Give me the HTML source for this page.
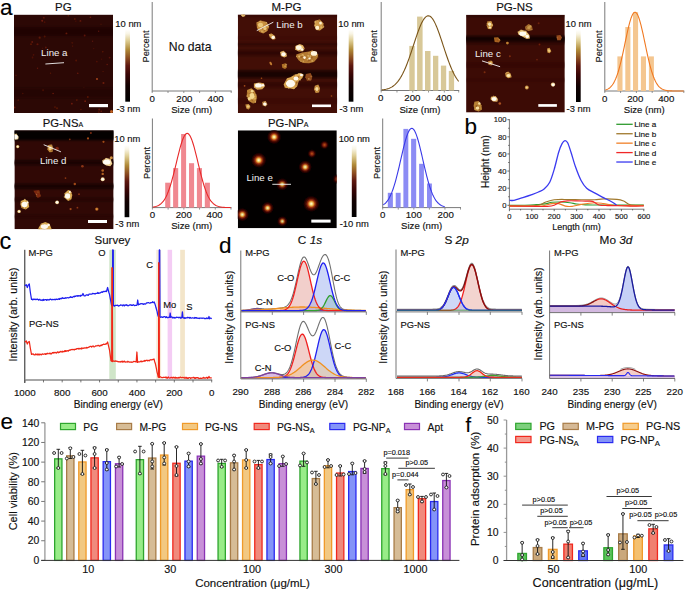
<!DOCTYPE html>
<html><head><meta charset="utf-8"><style>
html,body{margin:0;padding:0;background:#fff;}
svg{display:block;font-family:"Liberation Sans", sans-serif;}
</style></head><body>
<svg width="685" height="591" viewBox="0 0 685 591">
<defs>
<linearGradient id="cbar" x1="0" y1="1" x2="0" y2="0">
<stop offset="0" stop-color="#000"/>
<stop offset="0.22" stop-color="#120101"/>
<stop offset="0.38" stop-color="#3a0606"/>
<stop offset="0.5" stop-color="#5e1810"/>
<stop offset="0.6" stop-color="#8a4a20"/>
<stop offset="0.72" stop-color="#b08a38"/>
<stop offset="0.85" stop-color="#e0d098"/>
<stop offset="0.94" stop-color="#f8f4e4"/>
<stop offset="1" stop-color="#fff"/>
</linearGradient>
<filter id="soft" x="-20%" y="-20%" width="140%" height="140%"><feGaussianBlur stdDeviation="0.6"/></filter>
<filter id="vblur" x="-5%" y="-50%" width="110%" height="200%"><feGaussianBlur stdDeviation="0 0.9"/></filter>
<filter id="soft2" x="-50%" y="-50%" width="200%" height="200%"><feGaussianBlur stdDeviation="1.2"/></filter>
<radialGradient id="gflake">
<stop offset="0" stop-color="#fff6dc"/>
<stop offset="0.35" stop-color="#f0cc78"/>
<stop offset="0.75" stop-color="#c88a34"/>
<stop offset="1" stop-color="#9a5a1c"/>
</radialGradient>
<radialGradient id="gflake2">
<stop offset="0" stop-color="#e8c070"/>
<stop offset="0.6" stop-color="#c08030"/>
<stop offset="1" stop-color="#8a4a14"/>
</radialGradient>
<radialGradient id="gwhite">
<stop offset="0" stop-color="#fff"/>
<stop offset="0.55" stop-color="#fff4d4"/>
<stop offset="0.85" stop-color="#e8b860"/>
<stop offset="1" stop-color="#b07028"/>
</radialGradient>
<radialGradient id="gdim">
<stop offset="0" stop-color="#b06a28"/>
<stop offset="0.7" stop-color="#8a4018"/>
<stop offset="1" stop-color="#6a2a0c" stop-opacity="0.6"/>
</radialGradient>
<radialGradient id="gred">
<stop offset="0" stop-color="#b04018"/>
<stop offset="1" stop-color="#701c08" stop-opacity="0"/>
</radialGradient>
<radialGradient id="gdot">
<stop offset="0" stop-color="#fffce6"/>
<stop offset="0.14" stop-color="#f8e088"/>
<stop offset="0.28" stop-color="#e09a38"/>
<stop offset="0.42" stop-color="#a83810"/>
<stop offset="0.62" stop-color="#4a0904"/>
<stop offset="0.85" stop-color="#1a0201"/>
<stop offset="1" stop-color="#000" stop-opacity="0"/>
</radialGradient>
<radialGradient id="gdotdim">
<stop offset="0" stop-color="#d06020"/>
<stop offset="0.25" stop-color="#a03010"/>
<stop offset="0.55" stop-color="#4a0804"/>
<stop offset="1" stop-color="#000" stop-opacity="0"/>
</radialGradient>
<clipPath id="clip1"><rect x="14" y="14.6" width="99" height="98.4"/></clipPath>
<clipPath id="clip2"><rect x="237.8" y="14.6" width="99.4" height="98.4"/></clipPath>
<clipPath id="clip3"><rect x="466.1" y="14.8" width="98.7" height="97.8"/></clipPath>
<clipPath id="clip4"><rect x="14.4" y="130.2" width="99.2" height="99"/></clipPath>
<clipPath id="clip5"><rect x="237.8" y="130.3" width="99" height="98"/></clipPath>
</defs>
<rect width="685" height="591" fill="#fff"/>
<text x="0" y="14.6" font-size="22.5" text-anchor="start" fill="#000" stroke="#000" stroke-width="0.15" >a</text>
<g clip-path="url(#clip1)">
<rect x="14" y="14.6" width="99" height="98.4" fill="#2c0805" />
<g filter="url(#vblur)">
<rect x="11" y="27" width="105" height="9" fill="#1a0302" opacity="0.7"/>
<rect x="11" y="88" width="105" height="10" fill="#1e0403" opacity="0.4"/>
</g>
<g filter="url(#soft)">
<circle cx="37.56" cy="68.21" r="0.72" fill="#8a2410" opacity="0.54"/>
<circle cx="75.95" cy="21.05" r="0.51" fill="#8a2410" opacity="0.63"/>
<circle cx="39.68" cy="37.68" r="1.1" fill="#8a2410" opacity="0.49"/>
<circle cx="96.81" cy="61.52" r="0.88" fill="#8a2410" opacity="0.36"/>
<circle cx="76.85" cy="100.1" r="0.81" fill="#8a2410" opacity="0.6"/>
<circle cx="80.47" cy="20.91" r="0.95" fill="#8a2410" opacity="0.54"/>
<circle cx="43.83" cy="17.65" r="1.02" fill="#8a2410" opacity="0.49"/>
<circle cx="85.16" cy="101.16" r="0.93" fill="#8a2410" opacity="0.67"/>
<circle cx="53.1" cy="93.49" r="0.77" fill="#8a2410" opacity="0.67"/>
<circle cx="101.01" cy="24.2" r="0.58" fill="#8a2410" opacity="0.39"/>
<circle cx="109.58" cy="57.56" r="0.88" fill="#8a2410" opacity="0.42"/>
<circle cx="64.22" cy="52.61" r="0.71" fill="#8a2410" opacity="0.53"/>
<circle cx="71.84" cy="103.66" r="0.91" fill="#8a2410" opacity="0.67"/>
<circle cx="98.78" cy="112.21" r="0.9" fill="#8a2410" opacity="0.37"/>
<circle cx="99.2" cy="109.62" r="1.04" fill="#8a2410" opacity="0.53"/>
<circle cx="84.67" cy="35.4" r="1" fill="#8a2410" opacity="0.53"/>
<circle cx="42.21" cy="20.85" r="1.01" fill="#8a2410" opacity="0.7"/>
<circle cx="22.76" cy="93.46" r="0.75" fill="#8a2410" opacity="0.36"/>
<circle cx="43.1" cy="90.33" r="1.02" fill="#8a2410" opacity="0.32"/>
<circle cx="74.84" cy="19.03" r="0.93" fill="#8a2410" opacity="0.43"/>
<circle cx="101.21" cy="111.19" r="0.8" fill="#8a2410" opacity="0.7"/>
<circle cx="44.66" cy="22.18" r="0.86" fill="#8a2410" opacity="0.31"/>
<circle cx="33.54" cy="54.78" r="0.87" fill="#8a2410" opacity="0.36"/>
<circle cx="18.2" cy="100.08" r="0.69" fill="#8a2410" opacity="0.68"/>
<circle cx="102.77" cy="51.81" r="0.78" fill="#8a2410" opacity="0.51"/>
<circle cx="77.74" cy="73.27" r="0.84" fill="#8a2410" opacity="0.55"/>
<circle cx="107.12" cy="64.54" r="0.76" fill="#8a2410" opacity="0.59"/>
<circle cx="37.53" cy="44.26" r="1.09" fill="#8a2410" opacity="0.51"/>
<circle cx="68.29" cy="15.73" r="0.75" fill="#8a2410" opacity="0.53"/>
<circle cx="15.99" cy="75.26" r="0.88" fill="#8a2410" opacity="0.32"/>
<circle cx="76.11" cy="60.53" r="0.91" fill="#8a2410" opacity="0.44"/>
<circle cx="83.99" cy="87.3" r="0.51" fill="#8a2410" opacity="0.32"/>
<circle cx="80.93" cy="109.49" r="0.65" fill="#8a2410" opacity="0.48"/>
<circle cx="72.67" cy="46.12" r="0.72" fill="#8a2410" opacity="0.43"/>
<circle cx="50.55" cy="73.27" r="0.68" fill="#8a2410" opacity="0.45"/>
<circle cx="90.46" cy="17.25" r="0.84" fill="#8a2410" opacity="0.59"/>
<circle cx="44.69" cy="36.52" r="0.98" fill="#8a2410" opacity="0.4"/>
<circle cx="32.55" cy="57.47" r="0.92" fill="#8a2410" opacity="0.34"/>
<circle cx="45.87" cy="47.47" r="1" fill="#8a2410" opacity="0.48"/>
<circle cx="98.7" cy="31.27" r="0.7" fill="#8a2410" opacity="0.56"/>
<circle cx="101.6" cy="59.03" r="0.64" fill="#8a2410" opacity="0.35"/>
<circle cx="66.43" cy="33.39" r="0.98" fill="#8a2410" opacity="0.64"/>
<circle cx="32.18" cy="42.04" r="0.98" fill="#8a2410" opacity="0.56"/>
<circle cx="93.82" cy="48.61" r="0.58" fill="#8a2410" opacity="0.42"/>
<circle cx="92.59" cy="41.31" r="0.71" fill="#8a2410" opacity="0.47"/>
<circle cx="55.56" cy="54.94" r="1.05" fill="#8a2410" opacity="0.36"/>
<circle cx="14.46" cy="107.51" r="1.03" fill="#8a2410" opacity="0.69"/>
<circle cx="57" cy="108.19" r="1.06" fill="#8a2410" opacity="0.39"/>
<circle cx="87.81" cy="97.01" r="0.9" fill="#8a2410" opacity="0.51"/>
<circle cx="42.62" cy="48.2" r="0.64" fill="#8a2410" opacity="0.33"/>
<circle cx="72.28" cy="42.87" r="0.99" fill="#8a2410" opacity="0.32"/>
<circle cx="103.46" cy="82.93" r="1.05" fill="#8a2410" opacity="0.66"/>
<circle cx="103.07" cy="71.43" r="0.51" fill="#8a2410" opacity="0.6"/>
<circle cx="31.01" cy="44.14" r="0.9" fill="#8a2410" opacity="0.51"/>
<circle cx="54.96" cy="107.1" r="0.87" fill="#8a2410" opacity="0.44"/>
<circle cx="111.5" cy="111.5" r="1.5" fill="#c06020"/>
<circle cx="97" cy="79" r="0.9" fill="#b04a18"/>
</g>
</g>
<text x="41.1" y="56.29" font-size="9.7" text-anchor="start" fill="#f2f2f2" stroke="#f2f2f2" stroke-width="0" >Line a</text>
<line x1="45.4" y1="64" x2="64" y2="62.7" stroke="#f4f4f4" stroke-width="0.9" />
<rect x="89" y="104" width="19" height="3.2" fill="#fff" />
<text x="63.3" y="10.8" font-size="11.5" text-anchor="middle" fill="#111" stroke="#111" stroke-width="0.15">PG</text>
<rect x="125.3" y="29.4" width="4.7" height="72.3" fill="url(#cbar)" />
<text x="128.4" y="26.58" font-size="9.4" text-anchor="middle" fill="#111" stroke="#111" stroke-width="0.15" >10 nm</text>
<text x="128.4" y="111.88" font-size="9.4" text-anchor="middle" fill="#111" stroke="#111" stroke-width="0.15" >-3 nm</text>
<line x1="152.2" y1="2" x2="152.2" y2="91.5" stroke="#7a7a7a" stroke-width="1" />
<line x1="152.2" y1="91" x2="231.7" y2="91" stroke="#7a7a7a" stroke-width="1" />
<line x1="152.2" y1="91" x2="152.2" y2="93" stroke="#7a7a7a" stroke-width="0.8" />
<line x1="168" y1="91" x2="168" y2="93" stroke="#7a7a7a" stroke-width="0.8" />
<line x1="183.8" y1="91" x2="183.8" y2="93" stroke="#7a7a7a" stroke-width="0.8" />
<line x1="199.6" y1="91" x2="199.6" y2="93" stroke="#7a7a7a" stroke-width="0.8" />
<line x1="215.4" y1="91" x2="215.4" y2="93" stroke="#7a7a7a" stroke-width="0.8" />
<line x1="231.2" y1="91" x2="231.2" y2="93" stroke="#7a7a7a" stroke-width="0.8" />
<text x="152.2" y="101.89" font-size="9.7" text-anchor="middle" fill="#111" stroke="#111" stroke-width="0.15" >0</text>
<text x="184.4" y="101.89" font-size="9.7" text-anchor="middle" fill="#111" stroke="#111" stroke-width="0.15" >200</text>
<text x="215.6" y="101.89" font-size="9.7" text-anchor="middle" fill="#111" stroke="#111" stroke-width="0.15" >400</text>
<text x="191.7" y="113.06" font-size="9.6" text-anchor="middle" fill="#111" stroke="#111" stroke-width="0.15" >Size (nm)</text>
<text transform="translate(145.7 46.5) rotate(-90)" x="0" y="3.35" font-size="9.3" text-anchor="middle" fill="#111" stroke="#111" stroke-width="0.15">Percent</text>
<text x="190.2" y="51.49" font-size="12.2" text-anchor="middle" fill="#111" stroke="#111" stroke-width="0.15" >No data</text>
<g clip-path="url(#clip2)">
<rect x="237.8" y="14.6" width="99.4" height="98.4" fill="#420e06" />
<g filter="url(#vblur)">
<rect x="234.8" y="14.6" width="105.4" height="2" fill="#2a0602" opacity="0.6"/>
<rect x="234.8" y="43" width="105.4" height="2.5" fill="#1e0402" opacity="0.55"/>
<rect x="234.8" y="50.5" width="105.4" height="5" fill="#1a0302" opacity="0.6"/>
<rect x="234.8" y="70.5" width="105.4" height="7.5" fill="#0e0101" opacity="0.8"/>
<rect x="234.8" y="82" width="105.4" height="5.5" fill="#220402" opacity="0.5"/>
<rect x="234.8" y="36" width="105.4" height="4" fill="#2a0602" opacity="0.25"/>
<rect x="234.8" y="98" width="105.4" height="6" fill="#2a0602" opacity="0.3"/>
</g>
<g filter="url(#soft)">
<path d="M256.4 22.4 L260.6 20.4 L266.6 22.1 L269.1 26.7 L267.4 30.9 L263.2 33.4 L259 31.7 L256.9 27.5 Z" fill="#c89040"/><circle cx="262.15" cy="27.68" r="0.73" fill="#ecc878" opacity="0.55"/><circle cx="262.85" cy="28.04" r="0.76" fill="#8a4a18" opacity="0.55"/><circle cx="264.4" cy="30.71" r="0.65" fill="#8a4a18" opacity="0.55"/><circle cx="264.7" cy="28.4" r="0.51" fill="#8a4a18" opacity="0.55"/><circle cx="263.11" cy="21.17" r="0.62" fill="#8a4a18" opacity="0.55"/><circle cx="261.99" cy="31.35" r="0.82" fill="#ecc878" opacity="0.55"/><circle cx="262.75" cy="29.01" r="0.64" fill="#8a4a18" opacity="0.55"/><circle cx="267.07" cy="29.6" r="0.61" fill="#8a4a18" opacity="0.55"/><circle cx="260.07" cy="21.31" r="0.7" fill="#ecc878" opacity="0.55"/><circle cx="267.15" cy="25.42" r="0.92" fill="#ecc878" opacity="0.55"/><circle cx="267.96" cy="26.51" r="0.7" fill="#ecc878" opacity="0.55"/><circle cx="266.29" cy="23.91" r="0.67" fill="#8a4a18" opacity="0.55"/><circle cx="257.9" cy="23.6" r="0.53" fill="#8a4a18" opacity="0.55"/><circle cx="266.52" cy="22.71" r="0.72" fill="#ecc878" opacity="0.55"/><circle cx="258.82" cy="29.91" r="0.82" fill="#8a4a18" opacity="0.55"/><circle cx="257.88" cy="25.87" r="0.63" fill="#8a4a18" opacity="0.55"/><circle cx="260.26" cy="31.9" r="0.7" fill="#8a4a18" opacity="0.55"/><circle cx="267.25" cy="28.74" r="0.99" fill="#8a4a18" opacity="0.55"/><ellipse cx="260.5" cy="25" rx="2.6" ry="2.2" fill="#ecc878"/><ellipse cx="265" cy="28.5" rx="1.6" ry="1.5" fill="#ecc878"/>
<path d="M268.8 34.3 L271.6 33.4 L275 36 L275.5 39 L272.8 39.7 L269.9 37.6 Z" fill="#d8a450"/><circle cx="270.23" cy="35.03" r="0.66" fill="#ecc878" opacity="0.55"/><circle cx="270.79" cy="33.86" r="0.79" fill="#8a4a18" opacity="0.55"/><circle cx="270.43" cy="37.19" r="0.73" fill="#8a4a18" opacity="0.55"/><circle cx="272.65" cy="38.86" r="0.58" fill="#8a4a18" opacity="0.55"/><circle cx="274.89" cy="38.55" r="0.59" fill="#8a4a18" opacity="0.55"/><circle cx="273.75" cy="39.32" r="0.98" fill="#8a4a18" opacity="0.55"/><ellipse cx="273.2" cy="37.4" rx="1.7" ry="1.6" fill="#fff8e8"/>
<path d="M314.9 20.8 L319.9 19.4 L323.3 23.3 L323.8 27.5 L319.9 30.6 L316.1 30 L314.4 25.8 Z" fill="#d09a48"/><circle cx="322.69" cy="26.16" r="0.55" fill="#8a4a18" opacity="0.55"/><circle cx="316.64" cy="27.29" r="0.91" fill="#8a4a18" opacity="0.55"/><circle cx="320.01" cy="22.69" r="0.86" fill="#8a4a18" opacity="0.55"/><circle cx="315.05" cy="21.96" r="0.93" fill="#ecc878" opacity="0.55"/><circle cx="320.17" cy="22.54" r="0.6" fill="#ecc878" opacity="0.55"/><circle cx="318.59" cy="20.08" r="0.68" fill="#8a4a18" opacity="0.55"/><circle cx="319.78" cy="20.87" r="0.95" fill="#8a4a18" opacity="0.55"/><circle cx="323.62" cy="26.76" r="0.79" fill="#ecc878" opacity="0.55"/><circle cx="318.93" cy="27.58" r="1" fill="#8a4a18" opacity="0.55"/><circle cx="315.11" cy="25.52" r="0.95" fill="#ecc878" opacity="0.55"/><circle cx="321.33" cy="27.28" r="0.96" fill="#ecc878" opacity="0.55"/><ellipse cx="317.3" cy="27.8" rx="2" ry="2" fill="#fff0cc"/><ellipse cx="320.5" cy="23" rx="1.4" ry="1.6" fill="#fff0cc"/>
<path d="M295.4 46.1 L299.7 44.1 L303 45.3 L304.7 48.6 L303 51.2 L298.8 51.5 L295.1 49.5 Z" fill="#e0b060"/><circle cx="298.48" cy="49.17" r="0.94" fill="#ecc878" opacity="0.55"/><circle cx="299.1" cy="49.95" r="0.79" fill="#ecc878" opacity="0.55"/><circle cx="301.1" cy="46.93" r="0.8" fill="#ecc878" opacity="0.55"/><circle cx="295.87" cy="48.83" r="0.94" fill="#ecc878" opacity="0.55"/><circle cx="302.09" cy="46.97" r="0.79" fill="#ecc878" opacity="0.55"/><circle cx="299.33" cy="50.3" r="0.88" fill="#8a4a18" opacity="0.55"/><circle cx="295.39" cy="48.55" r="0.62" fill="#8a4a18" opacity="0.55"/><circle cx="301.8" cy="47.78" r="0.96" fill="#ecc878" opacity="0.55"/><circle cx="297.99" cy="49.12" r="0.58" fill="#8a4a18" opacity="0.55"/><circle cx="303.79" cy="48.98" r="0.95" fill="#8a4a18" opacity="0.55"/><ellipse cx="298.8" cy="47.6" rx="2.8" ry="2.4" fill="#fff8e4"/><ellipse cx="302.2" cy="49.5" rx="1.3" ry="1.2" fill="#fff8e4"/>
<path d="M296.3 54.5 L302.2 52.5 L309 51.5 L312.3 50.3 L318.3 54.5 L317.4 58.3 L314 62.1 L309 63.3 L303 63 L298.8 60.5 L296.3 57.1 Z" fill="#b47a30"/><circle cx="303.49" cy="58.96" r="0.72" fill="#8a4a18" opacity="0.55"/><circle cx="315.67" cy="55.3" r="0.66" fill="#ecc878" opacity="0.55"/><circle cx="299.3" cy="56.75" r="0.92" fill="#ecc878" opacity="0.55"/><circle cx="302.39" cy="52.5" r="0.64" fill="#8a4a18" opacity="0.55"/><circle cx="301.01" cy="55.68" r="0.75" fill="#ecc878" opacity="0.55"/><circle cx="303.24" cy="61.21" r="0.73" fill="#ecc878" opacity="0.55"/><circle cx="311.89" cy="57.72" r="0.9" fill="#8a4a18" opacity="0.55"/><circle cx="314.55" cy="53.39" r="0.52" fill="#8a4a18" opacity="0.55"/><circle cx="310.14" cy="56.1" r="0.83" fill="#ecc878" opacity="0.55"/><circle cx="311.36" cy="52.89" r="0.59" fill="#8a4a18" opacity="0.55"/><circle cx="296.54" cy="56.44" r="0.59" fill="#ecc878" opacity="0.55"/><circle cx="302.29" cy="54.79" r="0.76" fill="#ecc878" opacity="0.55"/><circle cx="309.82" cy="60.13" r="0.9" fill="#8a4a18" opacity="0.55"/><circle cx="299.16" cy="56.2" r="0.95" fill="#ecc878" opacity="0.55"/><circle cx="304.59" cy="57.69" r="0.9" fill="#ecc878" opacity="0.55"/><circle cx="317.07" cy="56.33" r="0.6" fill="#ecc878" opacity="0.55"/><circle cx="312.18" cy="60.94" r="0.86" fill="#ecc878" opacity="0.55"/><circle cx="308.11" cy="60.58" r="0.95" fill="#8a4a18" opacity="0.55"/><circle cx="315.13" cy="54.83" r="0.72" fill="#8a4a18" opacity="0.55"/><circle cx="308.41" cy="60.29" r="0.51" fill="#8a4a18" opacity="0.55"/><circle cx="313.9" cy="52.55" r="0.89" fill="#8a4a18" opacity="0.55"/><circle cx="307.66" cy="59.71" r="0.84" fill="#ecc878" opacity="0.55"/><circle cx="317.11" cy="56.7" r="0.54" fill="#ecc878" opacity="0.55"/><circle cx="301.17" cy="57.15" r="0.86" fill="#8a4a18" opacity="0.55"/><circle cx="310.36" cy="57.1" r="0.78" fill="#ecc878" opacity="0.55"/><circle cx="303.16" cy="55.26" r="0.95" fill="#ecc878" opacity="0.55"/><circle cx="300.88" cy="61.36" r="0.76" fill="#ecc878" opacity="0.55"/><circle cx="308.91" cy="52.91" r="0.75" fill="#ecc878" opacity="0.55"/><circle cx="317.63" cy="57.01" r="0.9" fill="#8a4a18" opacity="0.55"/><circle cx="308.68" cy="56.68" r="0.53" fill="#ecc878" opacity="0.55"/><circle cx="308.15" cy="55.68" r="0.96" fill="#ecc878" opacity="0.55"/><circle cx="302.22" cy="56.45" r="0.72" fill="#8a4a18" opacity="0.55"/><ellipse cx="314" cy="53.4" rx="3.2" ry="2.4" fill="#fff4dc"/><ellipse cx="304.5" cy="57.6" rx="1.3" ry="1.3" fill="#fff4dc"/><ellipse cx="309.5" cy="58.5" rx="1.2" ry="1.1" fill="#fff4dc"/>
<path d="M280.1 52 L283.5 50.8 L286.3 53.2 L287 56.2 L284.3 57.6 L280.9 55.9 Z" fill="#e0b060"/><circle cx="283.39" cy="52.96" r="0.81" fill="#8a4a18" opacity="0.55"/><circle cx="281.44" cy="52.35" r="0.66" fill="#ecc878" opacity="0.55"/><circle cx="282.55" cy="55.01" r="0.87" fill="#8a4a18" opacity="0.55"/><circle cx="280.95" cy="54.27" r="0.6" fill="#8a4a18" opacity="0.55"/><circle cx="283.76" cy="53.77" r="0.71" fill="#8a4a18" opacity="0.55"/><ellipse cx="283.5" cy="54.2" rx="2.1" ry="2" fill="#fffaf0"/>
<path d="M281.8 64.3 L286 63.3 L287 67.2 L285.1 68.9 L282.3 67.7 Z" fill="#b07228"/><circle cx="284.55" cy="64.19" r="0.82" fill="#8a4a18" opacity="0.55"/><circle cx="285.12" cy="66.27" r="0.81" fill="#ecc878" opacity="0.55"/><circle cx="286.26" cy="64.6" r="0.91" fill="#ecc878" opacity="0.55"/>
<ellipse cx="270.8" cy="63.5" rx="1.1" ry="1.9" fill="#c07a30" transform="rotate(-30 270.8 63.5)"/>
<path d="M305.9 74 L310.6 73.1 L312.3 76.5 L311.5 80.2 L307.3 80.7 L305.2 77.3 Z" fill="#8e4a1a"/><circle cx="307.44" cy="80.11" r="1" fill="#8a4a18" opacity="0.55"/><circle cx="306.9" cy="78.62" r="0.55" fill="#8a4a18" opacity="0.55"/><circle cx="311.11" cy="76.3" r="0.56" fill="#ecc878" opacity="0.55"/><circle cx="308.06" cy="78.31" r="0.6" fill="#8a4a18" opacity="0.55"/><circle cx="310.04" cy="80.03" r="0.56" fill="#ecc878" opacity="0.55"/><circle cx="308.79" cy="78.86" r="0.84" fill="#ecc878" opacity="0.55"/>
<path d="M283.6 84.5 L287 78.2 L290.4 77.3 L294.6 74.8 L300.5 73.1 L303.9 74.8 L302.2 78.2 L298.8 80.7 L297.1 86.6 L293.8 89.2 L289.5 88.3 L285 88 Z" fill="#d8a450"/><circle cx="294.8" cy="81.39" r="0.57" fill="#ecc878" opacity="0.55"/><circle cx="302.42" cy="74.63" r="0.98" fill="#8a4a18" opacity="0.55"/><circle cx="292.98" cy="85.41" r="0.73" fill="#8a4a18" opacity="0.55"/><circle cx="294.06" cy="80.02" r="0.51" fill="#ecc878" opacity="0.55"/><circle cx="287.28" cy="80.41" r="0.7" fill="#ecc878" opacity="0.55"/><circle cx="296.38" cy="79.61" r="0.75" fill="#ecc878" opacity="0.55"/><circle cx="288.84" cy="87.77" r="0.89" fill="#ecc878" opacity="0.55"/><circle cx="300.14" cy="79.63" r="0.94" fill="#ecc878" opacity="0.55"/><circle cx="299.13" cy="79.63" r="0.54" fill="#ecc878" opacity="0.55"/><circle cx="290.54" cy="80.65" r="0.68" fill="#8a4a18" opacity="0.55"/><circle cx="296.57" cy="83.15" r="0.97" fill="#8a4a18" opacity="0.55"/><circle cx="297.12" cy="78.54" r="0.78" fill="#ecc878" opacity="0.55"/><circle cx="294.42" cy="79.37" r="0.82" fill="#ecc878" opacity="0.55"/><circle cx="296.09" cy="84.99" r="0.7" fill="#8a4a18" opacity="0.55"/><circle cx="288.69" cy="87.68" r="0.75" fill="#ecc878" opacity="0.55"/><circle cx="300.03" cy="74.33" r="0.88" fill="#ecc878" opacity="0.55"/><circle cx="286.85" cy="80.7" r="0.75" fill="#8a4a18" opacity="0.55"/><circle cx="294.29" cy="82.73" r="0.64" fill="#8a4a18" opacity="0.55"/><circle cx="296.9" cy="82.13" r="0.86" fill="#8a4a18" opacity="0.55"/><circle cx="286.78" cy="85.25" r="0.95" fill="#8a4a18" opacity="0.55"/><circle cx="298.79" cy="73.91" r="0.97" fill="#ecc878" opacity="0.55"/><circle cx="285.09" cy="87.68" r="0.74" fill="#8a4a18" opacity="0.55"/><circle cx="294.22" cy="88.19" r="0.73" fill="#ecc878" opacity="0.55"/><circle cx="295.85" cy="74.95" r="0.73" fill="#ecc878" opacity="0.55"/><circle cx="294.32" cy="75.1" r="0.83" fill="#8a4a18" opacity="0.55"/><circle cx="292.85" cy="77.32" r="0.71" fill="#ecc878" opacity="0.55"/><circle cx="298.51" cy="76.94" r="0.95" fill="#8a4a18" opacity="0.55"/><ellipse cx="290.5" cy="83.6" rx="4.6" ry="3.8" fill="#fffaf0"/><ellipse cx="296" cy="78.6" rx="2.4" ry="2" fill="#fffaf0"/><ellipse cx="301.5" cy="75" rx="1.5" ry="1.2" fill="#fffaf0"/>
<path d="M253.9 83.6 L259 82.4 L264 83.3 L264.9 86.6 L262.3 89.2 L257.3 89.7 L253.9 87.5 Z" fill="#d4a050"/><circle cx="257.85" cy="84.38" r="0.78" fill="#ecc878" opacity="0.55"/><circle cx="260.41" cy="87.02" r="0.59" fill="#ecc878" opacity="0.55"/><circle cx="256.88" cy="85.5" r="0.55" fill="#ecc878" opacity="0.55"/><circle cx="259.86" cy="82.93" r="0.84" fill="#8a4a18" opacity="0.55"/><circle cx="259.96" cy="87.01" r="0.74" fill="#8a4a18" opacity="0.55"/><circle cx="256.22" cy="84.91" r="0.92" fill="#ecc878" opacity="0.55"/><circle cx="262.8" cy="86.95" r="0.61" fill="#ecc878" opacity="0.55"/><circle cx="258.57" cy="84.28" r="0.68" fill="#ecc878" opacity="0.55"/><ellipse cx="258.5" cy="85.4" rx="3.4" ry="2.2" fill="#fffaf0"/><ellipse cx="263" cy="85.2" rx="1.3" ry="1.3" fill="#fffaf0"/>
<path d="M314.9 85.8 L318.3 84.6 L320 88.3 L319.1 92.5 L315.7 93.1 L314 89.2 Z" fill="#c89040"/><circle cx="315.95" cy="89.26" r="0.96" fill="#ecc878" opacity="0.55"/><circle cx="316.57" cy="87.74" r="0.94" fill="#8a4a18" opacity="0.55"/><circle cx="317.39" cy="88.72" r="0.65" fill="#ecc878" opacity="0.55"/><circle cx="315.28" cy="90.23" r="0.65" fill="#8a4a18" opacity="0.55"/><circle cx="318.35" cy="90.5" r="0.57" fill="#8a4a18" opacity="0.55"/><circle cx="316.15" cy="90.77" r="0.56" fill="#8a4a18" opacity="0.55"/><ellipse cx="316.8" cy="89" rx="1.5" ry="2" fill="#f6dca0"/>
<path d="M247.1 90 L251.4 88.3 L254.7 90.9 L256.9 96.8 L255.9 102.7 L253 103.5 L248.8 101 L246.8 95.9 Z" fill="#c08838"/><circle cx="253.96" cy="96.95" r="0.97" fill="#ecc878" opacity="0.55"/><circle cx="256.03" cy="94.96" r="0.65" fill="#ecc878" opacity="0.55"/><circle cx="250.01" cy="94.37" r="0.95" fill="#ecc878" opacity="0.55"/><circle cx="249.31" cy="93.8" r="0.68" fill="#8a4a18" opacity="0.55"/><circle cx="250.8" cy="94.19" r="0.78" fill="#8a4a18" opacity="0.55"/><circle cx="254.85" cy="96.52" r="0.78" fill="#ecc878" opacity="0.55"/><circle cx="248.58" cy="99.84" r="0.64" fill="#ecc878" opacity="0.55"/><circle cx="247.02" cy="96.14" r="0.78" fill="#ecc878" opacity="0.55"/><circle cx="256.56" cy="98.2" r="0.53" fill="#ecc878" opacity="0.55"/><circle cx="252.32" cy="100.28" r="0.54" fill="#8a4a18" opacity="0.55"/><circle cx="254.24" cy="101.97" r="0.82" fill="#8a4a18" opacity="0.55"/><circle cx="253.35" cy="92.03" r="0.88" fill="#8a4a18" opacity="0.55"/><circle cx="252.07" cy="99.92" r="0.67" fill="#8a4a18" opacity="0.55"/><circle cx="256.58" cy="98.52" r="0.77" fill="#8a4a18" opacity="0.55"/><circle cx="254.08" cy="99.06" r="0.71" fill="#ecc878" opacity="0.55"/><circle cx="255.14" cy="98.43" r="0.9" fill="#ecc878" opacity="0.55"/><circle cx="255.22" cy="101.81" r="0.82" fill="#ecc878" opacity="0.55"/><circle cx="252.09" cy="99.09" r="0.71" fill="#ecc878" opacity="0.55"/><circle cx="251.05" cy="90.52" r="1" fill="#ecc878" opacity="0.55"/><circle cx="250.59" cy="90.85" r="0.71" fill="#8a4a18" opacity="0.55"/><circle cx="247.4" cy="92.99" r="0.82" fill="#8a4a18" opacity="0.55"/><circle cx="254.64" cy="91.03" r="0.73" fill="#8a4a18" opacity="0.55"/><circle cx="252.7" cy="102.12" r="0.55" fill="#8a4a18" opacity="0.55"/><ellipse cx="249.3" cy="98.6" rx="1.6" ry="1.6" fill="#f4d890"/><ellipse cx="252.2" cy="91.2" rx="1.4" ry="1.3" fill="#f4d890"/><ellipse cx="252" cy="96" rx="2.3" ry="3" fill="#f4d890"/>
<path d="M262.3 101.9 L265.7 101 L267.4 104.4 L265.4 106.6 L262.7 105.2 Z" fill="#e0b060"/><circle cx="263.24" cy="102.22" r="0.86" fill="#8a4a18" opacity="0.55"/><circle cx="265.33" cy="102.25" r="0.64" fill="#8a4a18" opacity="0.55"/><circle cx="263.18" cy="105.24" r="0.77" fill="#8a4a18" opacity="0.55"/><circle cx="266.47" cy="103.69" r="0.94" fill="#8a4a18" opacity="0.55"/><ellipse cx="264.9" cy="104" rx="1.7" ry="1.6" fill="#fffaf0"/>
<path d="M245.4 104.4 L248.8 103.9 L250.5 106.9 L248.8 109.4 L246.3 108.6 Z" fill="#c89040"/><circle cx="248.19" cy="109.16" r="0.61" fill="#8a4a18" opacity="0.55"/><circle cx="249.49" cy="106.02" r="0.76" fill="#ecc878" opacity="0.55"/><ellipse cx="248" cy="106.5" rx="1.2" ry="1.2" fill="#ecc878"/>
<path d="M241.2 14 L244.6 14 L245.4 16 L242.9 17 L241.2 15.7 Z" fill="#e8c070"/><circle cx="243.96" cy="14.71" r="0.74" fill="#8a4a18" opacity="0.55"/>
<circle cx="244.6" cy="85.8" r="0.9" fill="#a04a18"/>
<circle cx="261.5" cy="78.2" r="0.8" fill="#a04a18"/>
<circle cx="331.5" cy="96" r="0.8" fill="#a04a18"/>
</g>
</g>
<text x="276.3" y="28.49" font-size="9.7" text-anchor="start" fill="#f2f2f2" stroke="#f2f2f2" stroke-width="0" >Line b</text>
<line x1="256.8" y1="30.6" x2="273.3" y2="22.2" stroke="#f4f4f4" stroke-width="0.9" />
<rect x="312" y="104.5" width="19" height="2.6" fill="#fff" />
<text x="286.5" y="10.8" font-size="11.5" text-anchor="middle" fill="#111" stroke="#111" stroke-width="0.15">M-PG</text>
<rect x="348.7" y="29.4" width="4.7" height="72.3" fill="url(#cbar)" />
<text x="351.4" y="26.58" font-size="9.4" text-anchor="middle" fill="#111" stroke="#111" stroke-width="0.15" >10 nm</text>
<text x="351.4" y="111.88" font-size="9.4" text-anchor="middle" fill="#111" stroke="#111" stroke-width="0.15" >-3 nm</text>
<line x1="381.2" y1="2" x2="381.2" y2="91" stroke="#7a7a7a" stroke-width="1" />
<line x1="381.2" y1="90.5" x2="459.2" y2="90.5" stroke="#7a7a7a" stroke-width="1" />
<line x1="381.2" y1="90.5" x2="381.2" y2="92.5" stroke="#7a7a7a" stroke-width="0.8" />
<line x1="396.98" y1="90.5" x2="396.98" y2="92.5" stroke="#7a7a7a" stroke-width="0.8" />
<line x1="412.76" y1="90.5" x2="412.76" y2="92.5" stroke="#7a7a7a" stroke-width="0.8" />
<line x1="428.54" y1="90.5" x2="428.54" y2="92.5" stroke="#7a7a7a" stroke-width="0.8" />
<line x1="444.32" y1="90.5" x2="444.32" y2="92.5" stroke="#7a7a7a" stroke-width="0.8" />
<line x1="458.7" y1="90.5" x2="458.7" y2="92.5" stroke="#7a7a7a" stroke-width="0.8" />
<text x="380.8" y="101.39" font-size="9.7" text-anchor="middle" fill="#111" stroke="#111" stroke-width="0.15" >0</text>
<text x="412.4" y="101.39" font-size="9.7" text-anchor="middle" fill="#111" stroke="#111" stroke-width="0.15" >200</text>
<text x="443.9" y="101.39" font-size="9.7" text-anchor="middle" fill="#111" stroke="#111" stroke-width="0.15" >400</text>
<text x="419.95" y="112.56" font-size="9.6" text-anchor="middle" fill="#111" stroke="#111" stroke-width="0.15" >Size (nm)</text>
<text transform="translate(374 46.25) rotate(-90)" x="0" y="3.35" font-size="9.3" text-anchor="middle" fill="#111" stroke="#111" stroke-width="0.15">Percent</text>
<rect x="409.3" y="45.9" width="5.4" height="44.6" fill="#d8c898" />
<rect x="417.1" y="16.6" width="5.5" height="73.9" fill="#d8c898" />
<rect x="425" y="51" width="5.5" height="39.5" fill="#d8c898" />
<rect x="433" y="55.8" width="5.3" height="34.7" fill="#d8c898" />
<rect x="440.9" y="65.6" width="5.3" height="24.9" fill="#d8c898" />
<rect x="448.8" y="70.9" width="5.3" height="19.6" fill="#d8c898" />
<path d="M381.7 89.97 L382.4 89.89 L383.1 89.8 L383.8 89.69 L384.5 89.56 L385.2 89.42 L385.9 89.27 L386.6 89.09 L387.3 88.89 L388 88.67 L388.7 88.42 L389.4 88.14 L390.1 87.83 L390.8 87.49 L391.5 87.11 L392.2 86.69 L392.9 86.22 L393.6 85.72 L394.3 85.16 L395 84.56 L395.7 83.9 L396.4 83.18 L397.1 82.4 L397.8 81.56 L398.5 80.66 L399.2 79.69 L399.9 78.65 L400.6 77.54 L401.3 76.35 L402 75.1 L402.7 73.77 L403.4 72.36 L404.1 70.88 L404.8 69.32 L405.5 67.7 L406.2 66 L406.9 64.24 L407.6 62.41 L408.3 60.52 L409 58.58 L409.7 56.59 L410.4 54.55 L411.1 52.48 L411.8 50.37 L412.5 48.25 L413.2 46.11 L413.9 43.97 L414.6 41.83 L415.3 39.71 L416 37.61 L416.7 35.56 L417.4 33.54 L418.1 31.59 L418.8 29.71 L419.5 27.9 L420.2 26.19 L420.9 24.58 L421.6 23.08 L422.3 21.69 L423 20.44 L423.7 19.32 L424.4 18.35 L425.1 17.53 L425.8 16.86 L426.5 16.35 L427.2 16.01 L427.9 15.83 L428.6 15.82 L429.3 15.97 L430 16.29 L430.7 16.78 L431.4 17.42 L432.1 18.22 L432.8 19.17 L433.5 20.27 L434.2 21.51 L434.9 22.87 L435.6 24.36 L436.3 25.95 L437 27.65 L437.7 29.44 L438.4 31.32 L439.1 33.26 L439.8 35.27 L440.5 37.32 L441.2 39.41 L441.9 41.53 L442.6 43.66 L443.3 45.8 L444 47.94 L444.7 50.07 L445.4 52.18 L446.1 54.26 L446.8 56.3 L447.5 58.3 L448.2 60.25 L448.9 62.15 L449.6 63.98 L450.3 65.75 L451 67.46 L451.7 69.1 L452.4 70.66 L453.1 72.15 L453.8 73.57 L454.5 74.91 L455.2 76.18 L455.9 77.37 L456.6 78.5 L457.3 79.55 L458 80.53 L458.7 81.44" stroke="#7a5418" stroke-width="1.1" fill="none" />
<g clip-path="url(#clip3)">
<rect x="466.1" y="14.8" width="98.7" height="97.8" fill="#3c0b05" />
<g filter="url(#vblur)">
<rect x="463.1" y="14.8" width="104.7" height="1.5" fill="#1a0302" opacity="0.6"/>
<rect x="463.1" y="36" width="104.7" height="5" fill="#080101" opacity="0.9"/>
<rect x="463.1" y="41" width="104.7" height="3" fill="#1a0302" opacity="0.5"/>
<rect x="463.1" y="62" width="104.7" height="6" fill="#2a0603" opacity="0.35"/>
<rect x="463.1" y="78" width="104.7" height="4" fill="#2a0603" opacity="0.3"/>
</g>
<g filter="url(#soft)">
<path d="M487.1 21.6 L491.3 21.1 L493 25 L491.3 29.2 L488 28.9 L486.6 25.5 Z" fill="#c89040"/><circle cx="488.98" cy="27.55" r="0.8" fill="#ecc878" opacity="0.55"/><circle cx="487.61" cy="22.37" r="0.63" fill="#8a4a18" opacity="0.55"/><circle cx="492.16" cy="25.28" r="1" fill="#ecc878" opacity="0.55"/><circle cx="488.31" cy="25.43" r="0.89" fill="#8a4a18" opacity="0.55"/><circle cx="487.13" cy="23.29" r="0.55" fill="#ecc878" opacity="0.55"/><circle cx="489.67" cy="24.9" r="0.79" fill="#ecc878" opacity="0.55"/><ellipse cx="489.6" cy="24.2" rx="1.6" ry="1.8" fill="#f8e4b0"/><ellipse cx="490" cy="27.6" rx="1.2" ry="1" fill="#f8e4b0"/>
<path d="M493.9 37.6 L498.1 37.3 L500.6 40.2 L498.9 42.4 L494.7 41.9 Z" fill="#a86420"/><circle cx="499.19" cy="39.43" r="0.55" fill="#ecc878" opacity="0.55"/><circle cx="497.54" cy="39.98" r="0.92" fill="#8a4a18" opacity="0.55"/><circle cx="495.99" cy="38.88" r="0.65" fill="#8a4a18" opacity="0.55"/>
<circle cx="507.4" cy="43.1" r="1.4" fill="#c08030"/>
<circle cx="509.9" cy="56.2" r="1" fill="#7a2a10"/>
<path d="M488 61.3 L491.3 60.6 L493.4 63.3 L491.3 65.5 L488.5 64.7 Z" fill="#b87a30"/><circle cx="490.52" cy="64.1" r="0.84" fill="#8a4a18" opacity="0.55"/><circle cx="488.57" cy="62.53" r="0.98" fill="#8a4a18" opacity="0.55"/><circle cx="492.48" cy="63.8" r="0.69" fill="#8a4a18" opacity="0.55"/><circle cx="491.83" cy="61.76" r="0.73" fill="#ecc878" opacity="0.55"/><ellipse cx="490.6" cy="62.8" rx="1.2" ry="1.1" fill="#e8c070"/>
<circle cx="484.6" cy="72.3" r="1" fill="#7a2a10"/>
<path d="M505.2 73.1 L508.2 71.4 L510.8 74 L511.6 77.3 L508.2 78.2 L505.7 76.5 Z" fill="#d09a48"/><circle cx="509.14" cy="73.37" r="0.77" fill="#8a4a18" opacity="0.55"/><circle cx="507.11" cy="73.69" r="0.83" fill="#8a4a18" opacity="0.55"/><circle cx="506.84" cy="72.76" r="0.66" fill="#ecc878" opacity="0.55"/><circle cx="509.83" cy="73.66" r="0.55" fill="#ecc878" opacity="0.55"/><ellipse cx="508.5" cy="75.5" rx="1.8" ry="1.6" fill="#fae6b0"/>
<path d="M491 96.8 L495.6 95.9 L498.1 99.3 L497.3 101.8 L493 101.5 L490.5 99.3 Z" fill="#e0b060"/><circle cx="495.65" cy="100.08" r="0.7" fill="#8a4a18" opacity="0.55"/><circle cx="496.86" cy="99.4" r="0.61" fill="#8a4a18" opacity="0.55"/><circle cx="493.59" cy="96.33" r="0.71" fill="#ecc878" opacity="0.55"/><circle cx="494.39" cy="99.72" r="0.91" fill="#ecc878" opacity="0.55"/><circle cx="493.43" cy="97.86" r="0.51" fill="#8a4a18" opacity="0.55"/><ellipse cx="494.2" cy="98.9" rx="2.6" ry="2" fill="#fffbf0"/>
<circle cx="499.8" cy="103.5" r="1.3" fill="#a85020"/>
<path d="M474.4 101.8 L478.7 101 L481.5 105.2 L482 109.4 L478.7 111.6 L474.8 110.3 L473.6 106.1 Z" fill="#b88234"/><circle cx="476.97" cy="108.42" r="0.89" fill="#ecc878" opacity="0.55"/><circle cx="479.15" cy="107.45" r="0.67" fill="#8a4a18" opacity="0.55"/><circle cx="476.47" cy="107.9" r="0.69" fill="#8a4a18" opacity="0.55"/><circle cx="477.88" cy="109.36" r="0.81" fill="#ecc878" opacity="0.55"/><circle cx="474.93" cy="109.13" r="0.77" fill="#ecc878" opacity="0.55"/><circle cx="476.56" cy="106.3" r="0.86" fill="#8a4a18" opacity="0.55"/><circle cx="479.61" cy="109.86" r="0.97" fill="#8a4a18" opacity="0.55"/><circle cx="478.87" cy="103.1" r="0.62" fill="#8a4a18" opacity="0.55"/><circle cx="478.44" cy="108.39" r="0.96" fill="#8a4a18" opacity="0.55"/><circle cx="476.63" cy="105.91" r="0.99" fill="#8a4a18" opacity="0.55"/><circle cx="478.16" cy="106.94" r="0.63" fill="#ecc878" opacity="0.55"/><ellipse cx="477.5" cy="108" rx="1.8" ry="1.6" fill="#f8e0a0"/><ellipse cx="479.3" cy="103.5" rx="1.2" ry="1.2" fill="#f8e0a0"/>
<path d="M525.1 26.7 L528.5 24.1 L531.9 25.8 L532.7 30 L528.5 30.9 L525.5 29.5 Z" fill="#a87030"/><circle cx="531.31" cy="28.19" r="0.91" fill="#8a4a18" opacity="0.55"/><circle cx="527.29" cy="30.2" r="0.79" fill="#8a4a18" opacity="0.55"/><circle cx="529.26" cy="24.62" r="0.59" fill="#8a4a18" opacity="0.55"/><circle cx="530.1" cy="26.19" r="0.87" fill="#ecc878" opacity="0.55"/><circle cx="528" cy="28.12" r="0.51" fill="#ecc878" opacity="0.55"/><circle cx="526.62" cy="27.28" r="0.69" fill="#8a4a18" opacity="0.55"/><ellipse cx="529" cy="27.5" rx="1.6" ry="1.5" fill="#c89848"/>
<path d="M517.5 31.7 L521.8 30 L526 30.9 L529.4 35.1 L529.9 38.5 L526.8 39 L522.6 36.8 L518.4 34.3 Z" fill="#e8c070"/><circle cx="524.56" cy="31.56" r="0.63" fill="#ecc878" opacity="0.55"/><circle cx="524.54" cy="32.99" r="0.52" fill="#ecc878" opacity="0.55"/><circle cx="525.82" cy="31.3" r="0.8" fill="#ecc878" opacity="0.55"/><circle cx="523.33" cy="33.7" r="0.84" fill="#ecc878" opacity="0.55"/><circle cx="526.9" cy="36.77" r="1" fill="#8a4a18" opacity="0.55"/><circle cx="527.89" cy="37.7" r="0.72" fill="#8a4a18" opacity="0.55"/><circle cx="524.02" cy="34.73" r="0.95" fill="#8a4a18" opacity="0.55"/><circle cx="521.48" cy="30.49" r="0.95" fill="#ecc878" opacity="0.55"/><circle cx="526.58" cy="35.38" r="0.65" fill="#ecc878" opacity="0.55"/><circle cx="519.04" cy="34.02" r="0.7" fill="#ecc878" opacity="0.55"/><circle cx="524.03" cy="32.15" r="0.7" fill="#8a4a18" opacity="0.55"/><circle cx="520.42" cy="30.62" r="0.98" fill="#ecc878" opacity="0.55"/><circle cx="525.75" cy="37.8" r="0.9" fill="#8a4a18" opacity="0.55"/><ellipse cx="522.8" cy="33.8" rx="3.6" ry="2.2" fill="#fffcf0"/><ellipse cx="527.2" cy="36.4" rx="1.8" ry="1.6" fill="#fffcf0"/>
<path d="M556.4 35.6 L560.3 35.1 L562 37.6 L560.6 40.2 L557.2 40.2 Z" fill="#9a4c1c"/><circle cx="557.09" cy="37.84" r="0.5" fill="#ecc878" opacity="0.55"/><circle cx="557.77" cy="36.63" r="0.53" fill="#8a4a18" opacity="0.55"/>
<circle cx="538.6" cy="23.3" r="1" fill="#6a200c"/>
<circle cx="539.5" cy="44.4" r="1" fill="#6a200c"/>
<path d="M547.1 48.6 L549.6 47.8 L551.3 51.2 L549.6 53.2 L547.4 52.5 Z" fill="#c89040"/><circle cx="548.77" cy="49.73" r="0.52" fill="#ecc878" opacity="0.55"/><circle cx="548.39" cy="50.49" r="0.99" fill="#ecc878" opacity="0.55"/><ellipse cx="549.2" cy="50.8" rx="1.1" ry="1.2" fill="#f0cc80"/>
<circle cx="537" cy="59.6" r="0.9" fill="#6a200c"/>
<circle cx="553" cy="84.6" r="2.1" fill="#f0d090"/>
<circle cx="553.2" cy="84.8" r="1.4" fill="#fffcf0"/>
<circle cx="526.8" cy="87.5" r="1.9" fill="#c89040"/>
<circle cx="526.8" cy="87.4" r="1" fill="#f0d090"/>
</g>
</g>
<text x="474.9" y="56.59" font-size="9.7" text-anchor="start" fill="#f2f2f2" stroke="#f2f2f2" stroke-width="0" >Line c</text>
<line x1="482" y1="60.9" x2="500.1" y2="66.7" stroke="#f4f4f4" stroke-width="0.9" />
<rect x="538.3" y="104.1" width="18.6" height="2.7" fill="#fff" />
<text x="514.4" y="10.8" font-size="11.5" text-anchor="middle" fill="#111" stroke="#111" stroke-width="0.15">PG-NS</text>
<rect x="576" y="29.8" width="4.7" height="72.2" fill="url(#cbar)" />
<text x="578.5" y="26.98" font-size="9.4" text-anchor="middle" fill="#111" stroke="#111" stroke-width="0.15" >10 nm</text>
<text x="578.5" y="112.18" font-size="9.4" text-anchor="middle" fill="#111" stroke="#111" stroke-width="0.15" >-3 nm</text>
<line x1="604.8" y1="2" x2="604.8" y2="91.5" stroke="#7a7a7a" stroke-width="1" />
<line x1="604.8" y1="91" x2="684.3" y2="91" stroke="#7a7a7a" stroke-width="1" />
<line x1="604.8" y1="91" x2="604.8" y2="93" stroke="#7a7a7a" stroke-width="0.8" />
<line x1="620.6" y1="91" x2="620.6" y2="93" stroke="#7a7a7a" stroke-width="0.8" />
<line x1="636.4" y1="91" x2="636.4" y2="93" stroke="#7a7a7a" stroke-width="0.8" />
<line x1="652.2" y1="91" x2="652.2" y2="93" stroke="#7a7a7a" stroke-width="0.8" />
<line x1="668" y1="91" x2="668" y2="93" stroke="#7a7a7a" stroke-width="0.8" />
<line x1="683.8" y1="91" x2="683.8" y2="93" stroke="#7a7a7a" stroke-width="0.8" />
<text x="604.8" y="101.89" font-size="9.7" text-anchor="middle" fill="#111" stroke="#111" stroke-width="0.15" >0</text>
<text x="635.3" y="101.89" font-size="9.7" text-anchor="middle" fill="#111" stroke="#111" stroke-width="0.15" >200</text>
<text x="666.3" y="101.89" font-size="9.7" text-anchor="middle" fill="#111" stroke="#111" stroke-width="0.15" >400</text>
<text x="644.3" y="113.06" font-size="9.6" text-anchor="middle" fill="#111" stroke="#111" stroke-width="0.15" >Size (nm)</text>
<text transform="translate(599 46.5) rotate(-90)" x="0" y="3.35" font-size="9.3" text-anchor="middle" fill="#111" stroke="#111" stroke-width="0.15">Percent</text>
<rect x="617.4" y="56.4" width="5.1" height="34.6" fill="#f4c690" />
<rect x="625.3" y="27" width="5.1" height="64" fill="#f4c690" />
<rect x="633" y="12.2" width="5.1" height="78.8" fill="#f4c690" />
<rect x="640.9" y="56.4" width="5.1" height="34.6" fill="#f4c690" />
<rect x="648.9" y="56.4" width="5" height="34.6" fill="#f4c690" />
<path d="M605.3 90.04 L606 89.82 L606.7 89.56 L607.4 89.25 L608.1 88.89 L608.8 88.45 L609.5 87.95 L610.2 87.36 L610.9 86.68 L611.6 85.9 L612.3 85.01 L613 83.99 L613.7 82.85 L614.4 81.56 L615.1 80.12 L615.8 78.53 L616.5 76.77 L617.2 74.84 L617.9 72.74 L618.6 70.47 L619.3 68.02 L620 65.42 L620.7 62.65 L621.4 59.75 L622.1 56.71 L622.8 53.56 L623.5 50.32 L624.2 47.02 L624.9 43.68 L625.6 40.34 L626.3 37.03 L627 33.78 L627.7 30.63 L628.4 27.62 L629.1 24.79 L629.8 22.16 L630.5 19.79 L631.2 17.69 L631.9 15.9 L632.6 14.44 L633.3 13.33 L634 12.59 L634.7 12.24 L635.4 12.26 L636.1 12.68 L636.8 13.47 L637.5 14.62 L638.2 16.13 L638.9 17.97 L639.6 20.11 L640.3 22.53 L641 25.18 L641.7 28.04 L642.4 31.07 L643.1 34.24 L643.8 37.5 L644.5 40.82 L645.2 44.16 L645.9 47.5 L646.6 50.79 L647.3 54.02 L648 57.15 L648.7 60.17 L649.4 63.06 L650.1 65.8 L650.8 68.38 L651.5 70.8 L652.2 73.05 L652.9 75.12 L653.6 77.03 L654.3 78.76 L655 80.34 L655.7 81.75 L656.4 83.02 L657.1 84.15 L657.8 85.14 L658.5 86.02 L659.2 86.78 L659.9 87.45 L660.6 88.03 L661.3 88.52 L662 88.94 L662.7 89.3 L663.4 89.6 L664.1 89.86 L664.8 90.07 L665.5 90.25 L666.2 90.39 L666.9 90.51 L667.6 90.61 L668.3 90.69 L669 90.76 L669.7 90.81 L670.4 90.85 L671.1 90.88 L671.8 90.91 L672.5 90.93 L673.2 90.95 L673.9 90.96 L674.6 90.97 L675.3 90.98 L676 90.98 L676.7 90.99 L677.4 90.99 L678.1 90.99 L678.8 90.99 L679.5 91 L680.2 91 L680.9 91 L681.6 91 L682.3 91 L683 91 L683.7 91" stroke="#f07820" stroke-width="1.1" fill="none" />
<g clip-path="url(#clip4)">
<rect x="14.4" y="130.2" width="99.2" height="99" fill="#300805" />
<g filter="url(#vblur)">
<rect x="11.4" y="130.2" width="105.2" height="10" fill="#060000" opacity="0.92"/>
<rect x="11.4" y="160.5" width="105.2" height="4.5" fill="#0a0101" opacity="0.75"/>
<rect x="11.4" y="184" width="105.2" height="4.5" fill="#0a0101" opacity="0.8"/>
<rect x="11.4" y="198" width="105.2" height="3" fill="#1a0302" opacity="0.5"/>
<rect x="11.4" y="215" width="105.2" height="3" fill="#1a0302" opacity="0.4"/>
</g>
<g filter="url(#soft)">
<path d="M14 133.4 L16.5 134.2 L18.7 136.8 L18.2 139.3 L15.7 139.8 L14 139.3 Z" fill="#f0d8a0"/><circle cx="16.22" cy="134.72" r="0.96" fill="#8a4a18" opacity="0.55"/><circle cx="16.22" cy="134.5" r="1" fill="#ecc878" opacity="0.55"/><circle cx="14.95" cy="137.45" r="0.94" fill="#8a4a18" opacity="0.55"/><ellipse cx="15.6" cy="136.8" rx="2.2" ry="2.2" fill="#fffcf4"/>
<circle cx="17.7" cy="146.6" r="1.6" fill="#e8c070"/>
<circle cx="17.7" cy="146.6" r="0.9" fill="#fff4d8"/>
<path d="M47.8 145.2 L51.2 144.4 L53.2 147.7 L52.5 152 L49.5 152.3 L47.4 149.4 Z" fill="#c08838"/><circle cx="51.61" cy="146.87" r="0.93" fill="#ecc878" opacity="0.55"/><circle cx="51.54" cy="145.47" r="0.97" fill="#ecc878" opacity="0.55"/><circle cx="49.98" cy="145.02" r="0.65" fill="#8a4a18" opacity="0.55"/><circle cx="51.52" cy="145.95" r="0.62" fill="#8a4a18" opacity="0.55"/><circle cx="51.25" cy="150.64" r="0.83" fill="#8a4a18" opacity="0.55"/><circle cx="52.53" cy="149.06" r="0.65" fill="#8a4a18" opacity="0.55"/><ellipse cx="50.2" cy="148.4" rx="1.5" ry="1.8" fill="#f0cc80"/>
<circle cx="57.1" cy="148.6" r="1.8" fill="#7a2410"/>
<path d="M33.4 190.8 L39.3 190 L40.7 196.7 L37.6 197.9 Z" fill="#7a2610"/><circle cx="40.17" cy="195.27" r="0.82" fill="#8a4a18" opacity="0.55"/><circle cx="36.61" cy="194.17" r="0.52" fill="#ecc878" opacity="0.55"/><circle cx="37.78" cy="192.25" r="0.9" fill="#8a4a18" opacity="0.55"/><circle cx="38.92" cy="191.94" r="0.77" fill="#8a4a18" opacity="0.55"/><circle cx="36.77" cy="195.93" r="0.96" fill="#8a4a18" opacity="0.55"/>
<path d="M20.8 200.9 L25 199.3 L28.4 201.8 L29.2 206.9 L25.8 209.4 L21.6 208 L20.4 204.3 Z" fill="#d8a850"/><circle cx="24.8" cy="201.12" r="0.82" fill="#ecc878" opacity="0.55"/><circle cx="23.56" cy="205.95" r="0.76" fill="#ecc878" opacity="0.55"/><circle cx="24.85" cy="207.84" r="0.76" fill="#ecc878" opacity="0.55"/><circle cx="27.26" cy="200.97" r="0.62" fill="#ecc878" opacity="0.55"/><circle cx="24.28" cy="207.11" r="0.9" fill="#ecc878" opacity="0.55"/><circle cx="22.48" cy="204.24" r="0.79" fill="#8a4a18" opacity="0.55"/><circle cx="24.79" cy="199.66" r="0.86" fill="#ecc878" opacity="0.55"/><circle cx="25.44" cy="208.12" r="0.58" fill="#8a4a18" opacity="0.55"/><circle cx="20.56" cy="204.31" r="0.72" fill="#8a4a18" opacity="0.55"/><circle cx="22.71" cy="207.37" r="0.95" fill="#8a4a18" opacity="0.55"/><circle cx="25.41" cy="204.79" r="0.62" fill="#ecc878" opacity="0.55"/><circle cx="21.69" cy="202.44" r="0.66" fill="#8a4a18" opacity="0.55"/><circle cx="25.87" cy="204.61" r="0.79" fill="#8a4a18" opacity="0.55"/><ellipse cx="24.5" cy="204.5" rx="3" ry="2.8" fill="#fffaf0"/><ellipse cx="27.5" cy="202.5" rx="1" ry="1" fill="#fffaf0"/>
<circle cx="19.1" cy="211.4" r="1.7" fill="#e8c070"/>
<circle cx="19.1" cy="211.4" r="1" fill="#fff8e8"/>
<circle cx="57.1" cy="202.3" r="1.9" fill="#f0d090"/>
<circle cx="57.1" cy="202.3" r="1.2" fill="#fffcf0"/>
<path d="M38.5 228 L41 223.8 L45.3 222.1 L49.5 223.8 L51.2 228 L52 230 L38 230 Z" fill="#d8a850"/><circle cx="39.24" cy="228.58" r="0.63" fill="#8a4a18" opacity="0.55"/><circle cx="40.24" cy="227.56" r="0.89" fill="#ecc878" opacity="0.55"/><circle cx="43.1" cy="223.81" r="0.52" fill="#ecc878" opacity="0.55"/><circle cx="44.85" cy="228.11" r="0.57" fill="#ecc878" opacity="0.55"/><circle cx="44.37" cy="227.99" r="0.62" fill="#8a4a18" opacity="0.55"/><circle cx="43.5" cy="224.45" r="0.54" fill="#8a4a18" opacity="0.55"/><circle cx="38.48" cy="229.97" r="0.87" fill="#ecc878" opacity="0.55"/><circle cx="41.22" cy="224.1" r="0.62" fill="#ecc878" opacity="0.55"/><circle cx="44.46" cy="229.47" r="0.67" fill="#8a4a18" opacity="0.55"/><circle cx="42.8" cy="227.59" r="0.8" fill="#ecc878" opacity="0.55"/><circle cx="43.5" cy="228.76" r="0.89" fill="#8a4a18" opacity="0.55"/><circle cx="41.02" cy="224.84" r="0.77" fill="#8a4a18" opacity="0.55"/><ellipse cx="44.4" cy="226.6" rx="3.6" ry="2.4" fill="#fffaf0"/><ellipse cx="48.5" cy="225" rx="1.3" ry="1.2" fill="#fffaf0"/>
<path d="M102.2 160.4 L106.1 157.9 L110.6 159.1 L112.3 163.8 L110.3 166.3 L106.1 165.5 L102.7 162.9 Z" fill="#f0d090"/><circle cx="103.86" cy="159.61" r="0.73" fill="#8a4a18" opacity="0.55"/><circle cx="105.32" cy="161.66" r="0.84" fill="#ecc878" opacity="0.55"/><circle cx="106.07" cy="158.51" r="0.68" fill="#ecc878" opacity="0.55"/><circle cx="104.04" cy="160.1" r="0.96" fill="#8a4a18" opacity="0.55"/><circle cx="109.42" cy="160.16" r="0.58" fill="#8a4a18" opacity="0.55"/><circle cx="109.93" cy="163.98" r="0.51" fill="#ecc878" opacity="0.55"/><circle cx="105.45" cy="161.13" r="0.94" fill="#8a4a18" opacity="0.55"/><circle cx="105.49" cy="164.37" r="0.53" fill="#ecc878" opacity="0.55"/><circle cx="106.18" cy="159.9" r="0.58" fill="#8a4a18" opacity="0.55"/><circle cx="105.35" cy="161.46" r="0.57" fill="#ecc878" opacity="0.55"/><ellipse cx="106.8" cy="162" rx="3.8" ry="2.6" fill="#fffcf4"/>
<circle cx="111.3" cy="157.7" r="1.5" fill="#d09040"/>
<circle cx="88" cy="138.4" r="1.1" fill="#a04818"/>
<circle cx="103.5" cy="141.8" r="1.1" fill="#a04818"/>
<circle cx="90.9" cy="133" r="1" fill="#7a2a10"/>
<circle cx="69.8" cy="139.3" r="0.9" fill="#7a2a10"/>
<circle cx="82.4" cy="166.3" r="1.3" fill="#8a3414"/>
<circle cx="102.7" cy="170.5" r="1.3" fill="#b06020"/>
<circle cx="102.7" cy="173.9" r="1.2" fill="#b06020"/>
<circle cx="102.7" cy="179.3" r="2" fill="#f0d090"/>
<circle cx="102.7" cy="179.3" r="1.3" fill="#fffcf0"/>
<circle cx="65.5" cy="178.1" r="0.9" fill="#8a3414"/>
<circle cx="74.8" cy="184" r="1.2" fill="#a04818"/>
<path d="M64.7 193.3 L68.1 190 L70.6 190.8 L72.3 195 L71.4 199.3 L68.1 200.9 L64.4 197.6 Z" fill="#d8a850"/><circle cx="69.98" cy="192.84" r="0.83" fill="#ecc878" opacity="0.55"/><circle cx="66.61" cy="197.77" r="0.69" fill="#8a4a18" opacity="0.55"/><circle cx="71.24" cy="192.46" r="0.67" fill="#8a4a18" opacity="0.55"/><circle cx="64.59" cy="196.87" r="0.9" fill="#ecc878" opacity="0.55"/><circle cx="69.7" cy="200.02" r="0.84" fill="#8a4a18" opacity="0.55"/><circle cx="71.26" cy="192.56" r="0.54" fill="#ecc878" opacity="0.55"/><circle cx="67.78" cy="194.28" r="0.69" fill="#8a4a18" opacity="0.55"/><circle cx="66.99" cy="195.42" r="0.58" fill="#8a4a18" opacity="0.55"/><circle cx="67.58" cy="195.18" r="0.83" fill="#8a4a18" opacity="0.55"/><ellipse cx="67.6" cy="196" rx="2.6" ry="2.8" fill="#fffaf0"/><ellipse cx="69.8" cy="192" rx="1" ry="1" fill="#fffaf0"/>
<circle cx="79" cy="194.2" r="0.9" fill="#8a3414"/>
<circle cx="70.6" cy="209.1" r="1.1" fill="#a04818"/>
<circle cx="77.4" cy="207.7" r="0.9" fill="#8a3414"/>
<circle cx="96.8" cy="209.1" r="1.7" fill="#b06020"/>
<circle cx="96.8" cy="209.1" r="0.9" fill="#d89040"/>
</g>
</g>
<text x="40" y="163.69" font-size="9.7" text-anchor="start" fill="#f2f2f2" stroke="#f2f2f2" stroke-width="0" >Line d</text>
<line x1="43.7" y1="144.7" x2="60.9" y2="151.8" stroke="#f4f4f4" stroke-width="0.9" />
<rect x="88" y="220" width="19" height="3" fill="#fff" />
<text x="63" y="126.9" font-size="11.3" text-anchor="middle" fill="#111" stroke="#111" stroke-width="0.15">PG-NS<tspan font-size="7">A</tspan></text>
<rect x="124.6" y="145" width="4.7" height="72.2" fill="url(#cbar)" />
<text x="127.3" y="142.18" font-size="9.4" text-anchor="middle" fill="#111" stroke="#111" stroke-width="0.15" >10 nm</text>
<text x="127.3" y="227.38" font-size="9.4" text-anchor="middle" fill="#111" stroke="#111" stroke-width="0.15" >-3 nm</text>
<line x1="152.4" y1="118.5" x2="152.4" y2="208.1" stroke="#7a7a7a" stroke-width="1" />
<line x1="152.4" y1="207.6" x2="231.5" y2="207.6" stroke="#7a7a7a" stroke-width="1" />
<line x1="152.4" y1="207.6" x2="152.4" y2="209.6" stroke="#7a7a7a" stroke-width="0.8" />
<line x1="168.12" y1="207.6" x2="168.12" y2="209.6" stroke="#7a7a7a" stroke-width="0.8" />
<line x1="183.84" y1="207.6" x2="183.84" y2="209.6" stroke="#7a7a7a" stroke-width="0.8" />
<line x1="199.56" y1="207.6" x2="199.56" y2="209.6" stroke="#7a7a7a" stroke-width="0.8" />
<line x1="215.28" y1="207.6" x2="215.28" y2="209.6" stroke="#7a7a7a" stroke-width="0.8" />
<line x1="231" y1="207.6" x2="231" y2="209.6" stroke="#7a7a7a" stroke-width="0.8" />
<text x="152.5" y="217.69" font-size="9.7" text-anchor="middle" fill="#111" stroke="#111" stroke-width="0.15" >0</text>
<text x="183.8" y="217.69" font-size="9.7" text-anchor="middle" fill="#111" stroke="#111" stroke-width="0.15" >200</text>
<text x="214.6" y="217.69" font-size="9.7" text-anchor="middle" fill="#111" stroke="#111" stroke-width="0.15" >400</text>
<text x="191.7" y="228.96" font-size="9.6" text-anchor="middle" fill="#111" stroke="#111" stroke-width="0.15" >Size (nm)</text>
<text transform="translate(146.6 163.05) rotate(-90)" x="0" y="3.35" font-size="9.3" text-anchor="middle" fill="#111" stroke="#111" stroke-width="0.15">Percent</text>
<rect x="165.2" y="182.7" width="5.1" height="24.9" fill="#f08890" />
<rect x="173.1" y="168.1" width="5.1" height="39.5" fill="#f08890" />
<rect x="181.1" y="134" width="5" height="73.6" fill="#f08890" />
<rect x="189" y="163.2" width="5.1" height="44.4" fill="#f08890" />
<rect x="196.9" y="168.1" width="5.1" height="39.5" fill="#f08890" />
<rect x="204.8" y="182.7" width="5.1" height="24.9" fill="#f08890" />
<path d="M152.9 207.12 L153.6 207.01 L154.3 206.88 L155 206.73 L155.7 206.55 L156.4 206.33 L157.1 206.07 L157.8 205.78 L158.5 205.43 L159.2 205.02 L159.9 204.56 L160.6 204.03 L161.3 203.42 L162 202.72 L162.7 201.94 L163.4 201.06 L164.1 200.07 L164.8 198.96 L165.5 197.74 L166.2 196.4 L166.9 194.92 L167.6 193.3 L168.3 191.55 L169 189.66 L169.7 187.64 L170.4 185.47 L171.1 183.17 L171.8 180.75 L172.5 178.22 L173.2 175.57 L173.9 172.84 L174.6 170.03 L175.3 167.16 L176 164.26 L176.7 161.35 L177.4 158.44 L178.1 155.57 L178.8 152.77 L179.5 150.05 L180.2 147.46 L180.9 145.01 L181.6 142.73 L182.3 140.66 L183 138.8 L183.7 137.2 L184.4 135.85 L185.1 134.79 L185.8 134.02 L186.5 133.56 L187.2 133.4 L187.9 133.56 L188.6 134.02 L189.3 134.79 L190 135.85 L190.7 137.2 L191.4 138.8 L192.1 140.66 L192.8 142.73 L193.5 145.01 L194.2 147.46 L194.9 150.05 L195.6 152.77 L196.3 155.57 L197 158.44 L197.7 161.35 L198.4 164.26 L199.1 167.16 L199.8 170.03 L200.5 172.84 L201.2 175.57 L201.9 178.22 L202.6 180.75 L203.3 183.17 L204 185.47 L204.7 187.64 L205.4 189.66 L206.1 191.55 L206.8 193.3 L207.5 194.92 L208.2 196.4 L208.9 197.74 L209.6 198.96 L210.3 200.07 L211 201.06 L211.7 201.94 L212.4 202.72 L213.1 203.42 L213.8 204.03 L214.5 204.56 L215.2 205.02 L215.9 205.43 L216.6 205.78 L217.3 206.07 L218 206.33 L218.7 206.55 L219.4 206.73 L220.1 206.88 L220.8 207.01 L221.5 207.12 L222.2 207.21 L222.9 207.29 L223.6 207.35 L224.3 207.4 L225 207.44 L225.7 207.47 L226.4 207.5 L227.1 207.52 L227.8 207.54 L228.5 207.55 L229.2 207.56 L229.9 207.57 L230.6 207.58" stroke="#e82828" stroke-width="1.1" fill="none" />
<g clip-path="url(#clip5)">
<rect x="237.8" y="130.3" width="99" height="98" fill="#020000" />
<g filter="url(#vblur)">
</g>
<g filter="url(#soft)">
<circle cx="274.1" cy="137" r="7.5" fill="url(#gdot)" opacity="1"/>
<circle cx="324.5" cy="144.9" r="5" fill="url(#gdotdim)" opacity="0.9"/>
<circle cx="311.9" cy="153.7" r="5" fill="url(#gdotdim)" opacity="0.9"/>
<circle cx="258.7" cy="160.2" r="8" fill="url(#gdot)" opacity="1"/>
<circle cx="305.2" cy="167" r="7" fill="url(#gdot)" opacity="0.95"/>
<circle cx="282.2" cy="184.3" r="6.5" fill="url(#gdot)" opacity="0.85"/>
<circle cx="311.3" cy="203.8" r="8.5" fill="url(#gdot)" opacity="1"/>
<circle cx="267.6" cy="208" r="6.5" fill="url(#gdot)" opacity="0.95"/>
<circle cx="242.3" cy="214.6" r="7" fill="url(#gdot)" opacity="0.95"/>
<circle cx="282.3" cy="221.3" r="5.5" fill="url(#gdot)" opacity="0.85"/>
<circle cx="337.5" cy="179" r="5.5" fill="url(#gdotdim)" opacity="0.8"/>
</g>
</g>
<text x="246.4" y="180.89" font-size="9.7" text-anchor="start" fill="#f2f2f2" stroke="#f2f2f2" stroke-width="0" >Line e</text>
<line x1="272.3" y1="184.3" x2="291" y2="184.3" stroke="#f4f4f4" stroke-width="0.9" />
<rect x="311.3" y="219.6" width="19.3" height="3" fill="#fff" />
<text x="288.3" y="126.9" font-size="11.3" text-anchor="middle" fill="#111" stroke="#111" stroke-width="0.15">PG-NP<tspan font-size="7">A</tspan></text>
<rect x="351.8" y="144.5" width="4.7" height="72.5" fill="url(#cbar)" />
<text x="354.3" y="141.68" font-size="9.4" text-anchor="middle" fill="#111" stroke="#111" stroke-width="0.15" >100 nm</text>
<text x="354.3" y="227.18" font-size="9.4" text-anchor="middle" fill="#111" stroke="#111" stroke-width="0.15" >-10 nm</text>
<line x1="382.7" y1="118.5" x2="382.7" y2="208.1" stroke="#7a7a7a" stroke-width="1" />
<line x1="382.7" y1="207.6" x2="461" y2="207.6" stroke="#7a7a7a" stroke-width="1" />
<line x1="382.7" y1="207.6" x2="382.7" y2="209.6" stroke="#7a7a7a" stroke-width="0.8" />
<line x1="398.26" y1="207.6" x2="398.26" y2="209.6" stroke="#7a7a7a" stroke-width="0.8" />
<line x1="413.82" y1="207.6" x2="413.82" y2="209.6" stroke="#7a7a7a" stroke-width="0.8" />
<line x1="429.38" y1="207.6" x2="429.38" y2="209.6" stroke="#7a7a7a" stroke-width="0.8" />
<line x1="444.94" y1="207.6" x2="444.94" y2="209.6" stroke="#7a7a7a" stroke-width="0.8" />
<line x1="460.5" y1="207.6" x2="460.5" y2="209.6" stroke="#7a7a7a" stroke-width="0.8" />
<text x="382.7" y="217.69" font-size="9.7" text-anchor="middle" fill="#111" stroke="#111" stroke-width="0.15" >0</text>
<text x="413.8" y="217.69" font-size="9.7" text-anchor="middle" fill="#111" stroke="#111" stroke-width="0.15" >100</text>
<text x="445.7" y="217.69" font-size="9.7" text-anchor="middle" fill="#111" stroke="#111" stroke-width="0.15" >200</text>
<text x="421.6" y="228.96" font-size="9.6" text-anchor="middle" fill="#111" stroke="#111" stroke-width="0.15" >Size (nm)</text>
<text transform="translate(376.9 163.05) rotate(-90)" x="0" y="3.35" font-size="9.3" text-anchor="middle" fill="#111" stroke="#111" stroke-width="0.15">Percent</text>
<rect x="387.8" y="192.8" width="5.1" height="14.8" fill="#8c8cf4" />
<rect x="395.7" y="192.8" width="4.9" height="14.8" fill="#8c8cf4" />
<rect x="403.4" y="128.9" width="4.9" height="78.7" fill="#8c8cf4" />
<rect x="411.1" y="138.8" width="5.1" height="68.8" fill="#8c8cf4" />
<rect x="419.1" y="163.8" width="4.8" height="43.8" fill="#8c8cf4" />
<rect x="427" y="183.5" width="4.9" height="24.1" fill="#8c8cf4" />
<path d="M383.2 204.9 L383.9 204.42 L384.6 203.87 L385.3 203.24 L386 202.53 L386.7 201.73 L387.4 200.83 L388.1 199.81 L388.8 198.69 L389.5 197.44 L390.2 196.07 L390.9 194.56 L391.6 192.91 L392.3 191.12 L393 189.19 L393.7 187.12 L394.4 184.9 L395.1 182.55 L395.8 180.07 L396.5 177.46 L397.2 174.73 L397.9 171.91 L398.6 169 L399.3 166.02 L400 162.99 L400.7 159.94 L401.4 156.88 L402.1 153.85 L402.8 150.86 L403.5 147.95 L404.2 145.14 L404.9 142.46 L405.6 139.95 L406.3 137.62 L407 135.5 L407.7 133.62 L408.4 132 L409.1 130.65 L409.8 129.6 L410.5 128.85 L411.2 128.42 L411.9 128.3 L412.6 128.51 L413.3 129.03 L414 129.87 L414.7 131.01 L415.4 132.44 L416.1 134.13 L416.8 136.08 L417.5 138.26 L418.2 140.65 L418.9 143.21 L419.6 145.93 L420.3 148.77 L421 151.7 L421.7 154.71 L422.4 157.75 L423.1 160.81 L423.8 163.86 L424.5 166.88 L425.2 169.84 L425.9 172.73 L426.6 175.52 L427.3 178.22 L428 180.79 L428.7 183.24 L429.4 185.55 L430.1 187.73 L430.8 189.76 L431.5 191.65 L432.2 193.4 L432.9 195 L433.6 196.47 L434.3 197.81 L435 199.02 L435.7 200.12 L436.4 201.09 L437.1 201.97 L437.8 202.75 L438.5 203.43 L439.2 204.04 L439.9 204.56 L440.6 205.03 L441.3 205.42 L442 205.77 L442.7 206.07 L443.4 206.32 L444.1 206.54 L444.8 206.72" stroke="#3838e8" stroke-width="1.1" fill="none" />
<text x="464.5" y="134.2" font-size="22.5" text-anchor="start" fill="#000" stroke="#000" stroke-width="0.15" >b</text>
<line x1="509.4" y1="119.2" x2="509.4" y2="209.4" stroke="#7a7a7a" stroke-width="1" />
<line x1="509.4" y1="209.2" x2="644.3" y2="209.2" stroke="#7a7a7a" stroke-width="1" />
<line x1="507.4" y1="205.3" x2="509.4" y2="205.3" stroke="#444" stroke-width="0.8" />
<line x1="508.2" y1="196.74" x2="509.4" y2="196.74" stroke="#444" stroke-width="0.8" />
<line x1="507.4" y1="188.18" x2="509.4" y2="188.18" stroke="#444" stroke-width="0.8" />
<line x1="508.2" y1="179.62" x2="509.4" y2="179.62" stroke="#444" stroke-width="0.8" />
<line x1="507.4" y1="171.06" x2="509.4" y2="171.06" stroke="#444" stroke-width="0.8" />
<line x1="508.2" y1="162.5" x2="509.4" y2="162.5" stroke="#444" stroke-width="0.8" />
<line x1="507.4" y1="153.94" x2="509.4" y2="153.94" stroke="#444" stroke-width="0.8" />
<line x1="508.2" y1="145.38" x2="509.4" y2="145.38" stroke="#444" stroke-width="0.8" />
<line x1="507.4" y1="136.82" x2="509.4" y2="136.82" stroke="#444" stroke-width="0.8" />
<line x1="508.2" y1="128.26" x2="509.4" y2="128.26" stroke="#444" stroke-width="0.8" />
<line x1="507.4" y1="119.7" x2="509.4" y2="119.7" stroke="#444" stroke-width="0.8" />
<text x="506.5" y="208.04" font-size="7.6" text-anchor="end" fill="#111" stroke="#111" stroke-width="0.15" >0</text>
<text x="506.5" y="190.92" font-size="7.6" text-anchor="end" fill="#111" stroke="#111" stroke-width="0.15" >20</text>
<text x="506.5" y="173.8" font-size="7.6" text-anchor="end" fill="#111" stroke="#111" stroke-width="0.15" >40</text>
<text x="506.5" y="156.68" font-size="7.6" text-anchor="end" fill="#111" stroke="#111" stroke-width="0.15" >60</text>
<text x="506.5" y="139.56" font-size="7.6" text-anchor="end" fill="#111" stroke="#111" stroke-width="0.15" >80</text>
<text x="506.5" y="122.44" font-size="7.6" text-anchor="end" fill="#111" stroke="#111" stroke-width="0.15" >100</text>
<line x1="509.4" y1="209.2" x2="509.4" y2="211.2" stroke="#444" stroke-width="0.8" />
<line x1="520.6" y1="209.2" x2="520.6" y2="210.4" stroke="#444" stroke-width="0.8" />
<line x1="531.8" y1="209.2" x2="531.8" y2="211.2" stroke="#444" stroke-width="0.8" />
<line x1="543" y1="209.2" x2="543" y2="210.4" stroke="#444" stroke-width="0.8" />
<line x1="554.2" y1="209.2" x2="554.2" y2="211.2" stroke="#444" stroke-width="0.8" />
<line x1="565.4" y1="209.2" x2="565.4" y2="210.4" stroke="#444" stroke-width="0.8" />
<line x1="576.6" y1="209.2" x2="576.6" y2="211.2" stroke="#444" stroke-width="0.8" />
<line x1="587.8" y1="209.2" x2="587.8" y2="210.4" stroke="#444" stroke-width="0.8" />
<line x1="599" y1="209.2" x2="599" y2="211.2" stroke="#444" stroke-width="0.8" />
<line x1="610.2" y1="209.2" x2="610.2" y2="210.4" stroke="#444" stroke-width="0.8" />
<line x1="621.4" y1="209.2" x2="621.4" y2="211.2" stroke="#444" stroke-width="0.8" />
<line x1="632.6" y1="209.2" x2="632.6" y2="210.4" stroke="#444" stroke-width="0.8" />
<line x1="643.8" y1="209.2" x2="643.8" y2="211.2" stroke="#444" stroke-width="0.8" />
<text x="509.4" y="218.94" font-size="7.6" text-anchor="middle" fill="#111" stroke="#111" stroke-width="0.15" >0</text>
<text x="531.8" y="218.94" font-size="7.6" text-anchor="middle" fill="#111" stroke="#111" stroke-width="0.15" >100</text>
<text x="554.2" y="218.94" font-size="7.6" text-anchor="middle" fill="#111" stroke="#111" stroke-width="0.15" >200</text>
<text x="576.6" y="218.94" font-size="7.6" text-anchor="middle" fill="#111" stroke="#111" stroke-width="0.15" >300</text>
<text x="599" y="218.94" font-size="7.6" text-anchor="middle" fill="#111" stroke="#111" stroke-width="0.15" >400</text>
<text x="621.4" y="218.94" font-size="7.6" text-anchor="middle" fill="#111" stroke="#111" stroke-width="0.15" >500</text>
<text x="643.8" y="218.94" font-size="7.6" text-anchor="middle" fill="#111" stroke="#111" stroke-width="0.15" >600</text>
<text x="576.5" y="229.84" font-size="9" text-anchor="middle" fill="#111" stroke="#111" stroke-width="0.15" >Length (nm)</text>
<text transform="translate(485.8 161.6) rotate(-90)" x="0" y="3.64" font-size="10.1" text-anchor="middle" fill="#111" stroke="#111" stroke-width="0.15">Height (nm)</text>
<path d="M509.4 205.3 C511.64 205.3 518.36 205.41 522.84 205.3 C527.32 205.19 532.55 204.84 536.28 204.62 C540.01 204.39 542.63 204.32 545.24 203.93 C547.85 203.55 549.35 202.62 551.96 202.3 C554.57 201.99 557.93 201.98 560.92 202.05 C563.91 202.12 567.27 202.4 569.88 202.73 C572.49 203.06 573.99 203.66 576.6 204.02 C579.21 204.37 581.83 204.7 585.56 204.87 C589.29 205.04 593.77 205.01 599 205.04 C604.23 205.07 609.45 205.03 616.92 205.04 C624.39 205.06 639.32 205.11 643.8 205.13" stroke="#2e9a2e" stroke-width="1.15" fill="none" />
<path d="M509.4 205.9 C512.39 205.87 522.47 205.83 527.32 205.73 C532.17 205.63 535.53 205.87 538.52 205.3 C541.51 204.73 542.63 203.23 545.24 202.3 C547.85 201.38 550.47 200.21 554.2 199.74 C557.93 199.27 563.16 199.48 567.64 199.48 C572.12 199.48 576.6 199.69 581.08 199.74 C585.56 199.78 590.79 199.88 594.52 199.74 C598.25 199.59 599.75 198.95 603.48 198.88 C607.21 198.81 613.56 198.95 616.92 199.31 C620.28 199.66 621.4 200.09 623.64 201.02 C625.88 201.95 627 204.16 630.36 204.87 C633.72 205.59 641.56 205.23 643.8 205.3" stroke="#a0782c" stroke-width="1.15" fill="none" />
<path d="M509.4 206.16 C513.13 206.13 526.2 206.06 531.8 205.98 C537.4 205.91 539.64 206.13 543 205.73 C546.36 205.33 549.35 203.94 551.96 203.59 C554.57 203.23 556.44 203.16 558.68 203.59 C560.92 204.02 563.16 205.7 565.4 206.16 C567.64 206.61 569.51 206.61 572.12 206.33 C574.73 206.04 577.35 205.04 581.08 204.44 C584.81 203.84 590.79 202.87 594.52 202.73 C598.25 202.59 600.49 203.16 603.48 203.59 C606.47 204.02 609.45 204.97 612.44 205.3 C615.43 205.63 616.17 205.49 621.4 205.56 C626.63 205.63 640.07 205.7 643.8 205.73" stroke="#f08028" stroke-width="1.15" fill="none" />
<path d="M509.4 205.98 C513.88 206.06 529.93 206.34 536.28 206.41 C542.63 206.48 544.49 206.6 547.48 206.41 C550.47 206.23 551.96 206.06 554.2 205.3 C556.44 204.54 558.68 202.62 560.92 201.88 C563.16 201.13 565.03 201.02 567.64 200.85 C570.25 200.68 573.61 200.79 576.6 200.85 C579.59 200.91 582.95 201.11 585.56 201.19 C588.17 201.28 590.04 200.72 592.28 201.36 C594.52 202 596.39 204.34 599 205.04 C601.61 205.74 604.23 205.44 607.96 205.56 C611.69 205.67 617.29 205.63 621.4 205.73 C625.51 205.83 628.87 206.13 632.6 206.16 C636.33 206.18 641.93 205.94 643.8 205.9" stroke="#f02828" stroke-width="1.15" fill="none" />
<path d="M509.4 200.16 C510.15 200.19 511.64 200.76 513.88 200.34 C516.12 199.91 519.85 198.55 522.84 197.6 C525.83 196.64 529.19 195.53 531.8 194.6 C534.41 193.67 536.47 192.96 538.52 192.03 C540.57 191.1 542.25 190.68 544.12 189.04 C545.99 187.4 548.04 185.47 549.72 182.19 C551.4 178.91 552.71 174.34 554.2 169.35 C555.69 164.35 557.37 156.51 558.68 152.23 C559.99 147.95 560.99 145.59 562.04 143.67 C563.09 141.74 564.02 140.81 564.95 140.67 C565.89 140.53 566.63 140.89 567.64 142.81 C568.65 144.74 569.69 148.23 571 152.23 C572.31 156.22 573.8 162.07 575.48 166.78 C577.16 171.49 579.21 176.91 581.08 180.48 C582.95 184.04 584.44 186.11 586.68 188.18 C588.92 190.25 591.72 191.32 594.52 192.89 C597.32 194.46 600.49 196.03 603.48 197.6 C606.47 199.17 610.27 201.06 612.44 202.3 C614.61 203.55 615.8 204.59 616.47 205.04" stroke="#3a3af0" stroke-width="1.3" fill="none" />
<line x1="616.3" y1="124.3" x2="632.7" y2="124.3" stroke="#2e9a2e" stroke-width="1.3" />
<text x="634.2" y="127.22" font-size="8.1" text-anchor="start" fill="#111" stroke="#111" stroke-width="0.15" >Line a</text>
<line x1="616.3" y1="133.73" x2="632.7" y2="133.73" stroke="#a0782c" stroke-width="1.3" />
<text x="634.2" y="136.65" font-size="8.1" text-anchor="start" fill="#111" stroke="#111" stroke-width="0.15" >Line b</text>
<line x1="616.3" y1="143.16" x2="632.7" y2="143.16" stroke="#f08028" stroke-width="1.3" />
<text x="634.2" y="146.08" font-size="8.1" text-anchor="start" fill="#111" stroke="#111" stroke-width="0.15" >Line c</text>
<line x1="616.3" y1="152.59" x2="632.7" y2="152.59" stroke="#f02828" stroke-width="1.3" />
<text x="634.2" y="155.51" font-size="8.1" text-anchor="start" fill="#111" stroke="#111" stroke-width="0.15" >Line d</text>
<line x1="616.3" y1="162.02" x2="632.7" y2="162.02" stroke="#3a3af0" stroke-width="1.3" />
<text x="634.2" y="164.94" font-size="8.1" text-anchor="start" fill="#111" stroke="#111" stroke-width="0.15" >Line e</text>
<text x="-0.5" y="249.1" font-size="23.5" text-anchor="start" fill="#000" stroke="#000" stroke-width="0.15" >c</text>
<rect x="109.3" y="249.8" width="6.5" height="129.2" fill="#cfe5c8" />
<rect x="156.3" y="249.8" width="4.8" height="129.2" fill="#f6ead8" />
<rect x="167.6" y="249.8" width="4.5" height="129.2" fill="#f4ccf4" />
<rect x="180.2" y="249.8" width="4.7" height="129.2" fill="#f3e5c9" />
<line x1="24.8" y1="249.8" x2="24.8" y2="383" stroke="#222" stroke-width="1" />
<line x1="24.8" y1="380" x2="212.2" y2="380" stroke="#8a8a8a" stroke-width="1.3" />
<line x1="211.7" y1="380" x2="211.7" y2="382.4" stroke="#555" stroke-width="0.8" />
<line x1="193.01" y1="380" x2="193.01" y2="382.4" stroke="#555" stroke-width="0.8" />
<line x1="174.32" y1="380" x2="174.32" y2="382.4" stroke="#555" stroke-width="0.8" />
<line x1="155.63" y1="380" x2="155.63" y2="382.4" stroke="#555" stroke-width="0.8" />
<line x1="136.94" y1="380" x2="136.94" y2="382.4" stroke="#555" stroke-width="0.8" />
<line x1="118.25" y1="380" x2="118.25" y2="382.4" stroke="#555" stroke-width="0.8" />
<line x1="99.56" y1="380" x2="99.56" y2="382.4" stroke="#555" stroke-width="0.8" />
<line x1="80.87" y1="380" x2="80.87" y2="382.4" stroke="#555" stroke-width="0.8" />
<line x1="62.18" y1="380" x2="62.18" y2="382.4" stroke="#555" stroke-width="0.8" />
<line x1="43.49" y1="380" x2="43.49" y2="382.4" stroke="#555" stroke-width="0.8" />
<line x1="24.8" y1="380" x2="24.8" y2="382.4" stroke="#555" stroke-width="0.8" />
<text x="211.7" y="395.73" font-size="9.8" text-anchor="middle" fill="#111" stroke="#111" stroke-width="0.15" >0</text>
<text x="174.32" y="395.73" font-size="9.8" text-anchor="middle" fill="#111" stroke="#111" stroke-width="0.15" >200</text>
<text x="136.94" y="395.73" font-size="9.8" text-anchor="middle" fill="#111" stroke="#111" stroke-width="0.15" >400</text>
<text x="99.56" y="395.73" font-size="9.8" text-anchor="middle" fill="#111" stroke="#111" stroke-width="0.15" >600</text>
<text x="62.18" y="395.73" font-size="9.8" text-anchor="middle" fill="#111" stroke="#111" stroke-width="0.15" >800</text>
<text x="24.8" y="395.73" font-size="9.8" text-anchor="middle" fill="#111" stroke="#111" stroke-width="0.15" >1000</text>
<text x="118.3" y="408.24" font-size="10.1" text-anchor="middle" fill="#111" stroke="#111" stroke-width="0.15" >Binding energy (eV)</text>
<text transform="translate(13.5 314.5) rotate(-90)" x="0" y="3.85" font-size="10.7" text-anchor="middle" fill="#111" stroke="#111" stroke-width="0.15">Intensity (arb. units)</text>
<text x="112.4" y="244.2" font-size="11.5" text-anchor="middle" fill="#111" stroke="#111" stroke-width="0.15" >Survey</text>
<text x="28.4" y="256.18" font-size="9.4" text-anchor="start" fill="#111" stroke="#111" stroke-width="0.15" >M-PG</text>
<text x="29" y="327.48" font-size="9.4" text-anchor="start" fill="#111" stroke="#111" stroke-width="0.15" >PG-NS</text>
<text x="101.8" y="256.18" font-size="9.4" text-anchor="middle" fill="#111" stroke="#111" stroke-width="0.15" >O</text>
<text x="149.7" y="267.98" font-size="9.4" text-anchor="middle" fill="#111" stroke="#111" stroke-width="0.15" >C</text>
<text x="163.2" y="308.18" font-size="9.4" text-anchor="start" fill="#111" stroke="#111" stroke-width="0.15" >Mo</text>
<text x="189.3" y="309.58" font-size="9.4" text-anchor="middle" fill="#111" stroke="#111" stroke-width="0.15" >S</text>
<path d="M24.8 285.9 L25.55 285.25 L26.3 284.6 L27.3 287.5 L28.3 285 L29.3 284 L30.3 292 L30.9 295.75 L31.5 299.29 L32.06 299.1 L32.62 299.72 L33.19 299.05 L33.75 299.63 L34.31 299.44 L34.88 299.09 L35.44 299.65 L36 299.11 L36.56 299.61 L37.12 299.19 L37.69 299.24 L38.25 299.66 L38.81 300.16 L39.38 299.34 L39.94 299.48 L40.5 299.99 L41.06 300.39 L41.62 299.97 L42.19 299.77 L42.75 300.49 L43.31 299.39 L43.88 300.39 L44.44 299.73 L45 299.57 L45.56 299.51 L46.11 299.71 L46.67 300.3 L47.22 299.51 L47.78 299.96 L48.33 300 L48.89 299.65 L49.44 299.84 L50 299.23 L50.56 299.19 L51.11 299.34 L51.67 299.88 L52.22 299.55 L52.78 299.39 L53.33 299.69 L53.89 299.5 L54.44 299.29 L55 299.85 L55.56 299.66 L56.11 299.03 L56.67 299.34 L57.22 299.2 L57.78 299.53 L58.33 299.28 L58.89 298.66 L59.44 299.41 L60 298.29 L60.56 298.57 L61.11 298.89 L61.67 298.08 L62.22 298.4 L62.78 297.78 L63.33 298.45 L63.89 298.48 L64.44 298.17 L65 298.45 L65.56 297.69 L66.11 298.07 L66.67 297.86 L67.22 297.76 L67.78 297.53 L68.33 297.91 L68.89 297.95 L69.44 297.3 L70 297.45 L70.56 296.64 L71.11 297.33 L71.67 297.18 L72.22 297.51 L72.78 297.22 L73.33 296.49 L73.89 296.53 L74.44 296.79 L75 295.93 L75.58 296.38 L76.17 295.95 L76.75 295.82 L77.33 295.67 L77.92 296.45 L78.5 295.61 L79.08 295.67 L79.67 295.77 L80.25 296.27 L80.83 295.25 L81.42 295.61 L82 295.6 L83 293.5 L84 295.66 L84.55 295.96 L85.1 295.77 L85.65 295.72 L86.2 294.91 L86.75 294.97 L87.3 294.8 L87.85 295.33 L88.4 295.31 L88.95 294.24 L89.5 294.16 L90.05 294.12 L90.6 294.02 L91.15 294.22 L91.7 294.24 L92.25 293.74 L92.8 293.32 L93.35 293.72 L93.9 293.55 L94.45 293.68 L95 294.04 L95.58 293.63 L96.15 293.32 L96.72 293.34 L97.3 293.31 L97.88 292.46 L98.45 293.38 L99.03 293.14 L99.6 293.15 L100.17 292.96 L100.75 292.37 L101.33 292.28 L101.9 291.82 L102.47 292.36 L103.05 291.57 L103.62 291.48 L104.2 291.55 L104.78 291.39 L105.35 291.51 L105.92 291.06 L106.5 291.5 L107.6 287.5 L108.23 290 L108.87 292.5 L109.5 294.4 L110.2 298.08 L110.9 301.52 L111.6 305.5 L112.4 305.8 L112.8 249.8 L113.2 305.64 L113.76 305.21 L114.32 306.2 L114.89 305.87 L115.45 305.28 L116.01 305.38 L116.57 305.47 L117.13 305.47 L117.7 305.16 L118.26 306 L118.82 306.15 L119.38 305.5 L119.94 305.49 L120.5 304.99 L121.07 304.99 L121.63 305.25 L122.19 305.14 L122.75 305.79 L123.31 304.97 L123.88 304.78 L124.44 305.86 L125 305.33 L125.57 304.86 L126.14 305.32 L126.71 304.69 L127.29 305.28 L127.86 305.8 L128.43 305.65 L129 305.44 L129.57 304.9 L130.14 305.01 L130.71 304.76 L131.29 305.47 L131.86 305.17 L132.43 305.45 L133 304.9 L133.57 304.75 L134.14 305.45 L134.71 305.64 L135.29 305.47 L135.86 305.4 L136.43 305.4 L137 305 L137.7 300 L138.4 304.89 L138.96 304.18 L139.53 304.43 L140.09 304.14 L140.66 303.66 L141.22 303.56 L141.79 303.77 L142.35 303.65 L142.92 304.08 L143.48 304.3 L144.05 303.6 L144.61 304.09 L145.18 304.06 L145.74 303.92 L146.31 303.12 L146.87 302.85 L147.44 302.77 L148 302.64 L148.56 302.55 L149.13 302.97 L149.69 303.21 L150.25 303.04 L150.82 302.52 L151.38 302.64 L151.95 302.72 L152.51 301.77 L153.07 302.37 L153.64 302.58 L154.2 302 L154.8 303.5 L155.4 305.34 L155.96 307.54 L156.52 309.45 L157.08 311.33 L157.64 314.31 L158.2 316.2 L159.2 316.4 L159.4 249.8 L159.8 316.6 L160.38 317.19 L160.95 317.42 L161.53 316.76 L162.11 316.8 L162.68 317.48 L163.26 317.25 L163.84 316.61 L164.41 316.59 L164.99 316.65 L165.56 317.58 L166.14 317.49 L166.72 316.73 L167.29 317.57 L167.87 317.79 L168.45 317.43 L169.02 317.09 L169.6 317.3 L170.2 313 L170.8 317.36 L171.35 316.88 L171.9 316.77 L172.45 317.94 L173 317.58 L173.55 317.46 L174.1 317.97 L174.65 317.4 L175.2 317.95 L175.75 317.92 L176.3 317.2 L176.85 317.28 L177.4 317.35 L177.95 317.31 L178.5 317.75 L179.05 317.39 L179.6 317.6 L180.15 317.28 L180.7 318.24 L181.25 317.6 L181.8 317.8 L182.4 311.8 L183 317.75 L183.56 317.91 L184.12 318.3 L184.68 317.73 L185.24 318.33 L185.8 317.84 L186.36 317.89 L186.92 317.88 L187.48 317.29 L188.04 317.8 L188.6 317.5 L189.16 317.29 L189.72 318.26 L190.28 317.51 L190.84 317.88 L191.4 318.19 L191.96 318 L192.52 317.73 L193.08 317.97 L193.64 318.02 L194.2 318.3 L194.76 317.5 L195.32 318.05 L195.88 317.68 L196.44 317.72 L197 318.33 L197.57 318.02 L198.15 318.09 L198.72 318.34 L199.3 318.53 L199.88 317.98 L200.45 318.2 L201.03 318.08 L201.6 318.09 L202.18 318.32 L202.75 318.04 L203.32 318.15 L203.9 318.09 L204.47 318.66 L205.05 318.38 L205.62 318.6 L206.2 318.69 L206.78 317.88 L207.35 318.25 L207.93 318.72 L208.5 318.2 L209 316.5 L209.6 318.81 L210.3 318.1 L211 318.21 L211.7 318.8" stroke="#2020f0" stroke-width="1.25" fill="none" stroke-linejoin="round"/>
<path d="M24.8 342.2 L25.55 341.6 L26.3 341 L27.3 344 L28.3 342 L29.3 341.5 L30.3 348 L30.9 351.25 L31.5 354.43 L32.06 353.97 L32.62 354.16 L33.19 353.95 L33.75 354.65 L34.31 354.78 L34.88 354.9 L35.44 354 L36 354.66 L36.56 354.58 L37.12 353.95 L37.69 354.82 L38.25 354.91 L38.81 354 L39.38 354.87 L39.94 354.19 L40.5 354.28 L41.06 354.88 L41.62 354.67 L42.19 353.86 L42.75 354.17 L43.31 354.26 L43.88 354.03 L44.44 353.85 L45 353.98 L45.56 354.39 L46.11 353.46 L46.67 354.02 L47.22 353.8 L47.78 353.21 L48.33 353.51 L48.89 353.78 L49.44 353.56 L50 352.94 L50.56 353.97 L51.11 353.65 L51.67 353.79 L52.22 352.67 L52.78 352.78 L53.33 352.43 L53.89 353.23 L54.44 352.54 L55 352.29 L55.56 352.56 L56.11 353.06 L56.67 352.87 L57.22 352.12 L57.78 351.91 L58.33 352.75 L58.89 352.25 L59.44 352.32 L60 351.51 L60.56 351.38 L61.11 352.04 L61.67 351.63 L62.22 351.12 L62.78 352.06 L63.33 351.61 L63.89 351.71 L64.44 350.76 L65 351.59 L65.56 350.55 L66.11 351.42 L66.67 350.83 L67.22 350.6 L67.78 350.77 L68.33 351.12 L68.89 350.24 L69.44 349.98 L70 350.37 L70.56 349.93 L71.11 349.68 L71.67 349.65 L72.22 349.42 L72.78 349.51 L73.33 349.55 L73.89 349.45 L74.44 349.9 L75 349.25 L75.56 349.41 L76.11 348.93 L76.67 349.04 L77.22 348.55 L77.78 348.74 L78.33 348.36 L78.89 349.13 L79.44 348.82 L80 348.29 L80.56 348.54 L81.11 349 L81.67 347.92 L82.22 348.68 L82.78 348.12 L83.33 348.11 L83.89 348.42 L84.44 347.8 L85 347.84 L85.56 347.97 L86.11 348.23 L86.67 347.37 L87.22 347.86 L87.78 347.62 L88.33 347.44 L88.89 347.07 L89.44 346.91 L90 346.47 L90.56 346.47 L91.11 346.32 L91.67 347.04 L92.22 346.37 L92.78 346.18 L93.33 346 L93.89 346.83 L94.44 346.78 L95 346.45 L95.56 345.9 L96.11 345.77 L96.67 345.75 L97.22 345.87 L97.78 345.42 L98.33 345.68 L98.89 345.38 L99.44 346.14 L100 346.07 L100.59 345.42 L101.18 344.92 L101.77 345.65 L102.36 344.73 L102.95 344.65 L103.55 344.08 L104.14 344.4 L104.73 344.38 L105.32 344.28 L105.91 343.78 L106.5 344 L107.6 342 L108.23 344.67 L108.87 347.33 L109.5 350 L110.25 355.4 L111 360.8 L111.8 361.3 L112.2 267.6 L112.6 361.51 L113.16 360.91 L113.73 361.23 L114.29 361.02 L114.85 361.4 L115.42 360.97 L115.98 360.95 L116.55 361.3 L117.11 361.22 L117.67 361.64 L118.24 361.58 L118.8 361.85 L119.36 361.74 L119.93 361.82 L120.49 362.02 L121.05 361.44 L121.62 361.36 L122.18 362.16 L122.75 361.16 L123.31 361.86 L123.87 361.76 L124.44 361.05 L125 362 L125.56 362.09 L126.12 361.79 L126.68 361.94 L127.24 362.05 L127.8 361.27 L128.36 361.75 L128.92 361.75 L129.48 362.16 L130.04 362.15 L130.6 362.19 L131.16 361.92 L131.72 362.31 L132.28 362.08 L132.84 362.11 L133.4 361.58 L133.96 361.36 L134.52 361.5 L135.08 361.79 L135.64 361.51 L136.2 362 L136.9 352 L137.6 362.4 L138.18 361.99 L138.76 361.99 L139.33 361.9 L139.91 361.88 L140.49 361.57 L141.07 360.9 L141.64 361.77 L142.22 361.63 L142.8 361.25 L143.38 361.21 L143.96 361.27 L144.53 360.48 L145.11 361.2 L145.69 360.54 L146.27 360.24 L146.84 360.39 L147.42 360.86 L148 360.15 L148.6 360.64 L149.2 360.77 L149.8 360.04 L150.4 359.76 L151 359.72 L151.6 359.82 L152.2 359.77 L152.8 359.44 L153.4 359.32 L154 359 L154.65 361.5 L155.3 363.49 L155.88 366.18 L156.46 368.9 L157.04 372.09 L157.62 374.17 L158.2 377 L158.6 377.2 L158.9 262.6 L159.3 377.48 L159.86 376.83 L160.43 376.89 L160.99 377.15 L161.55 377.65 L162.12 377.68 L162.68 377.67 L163.24 377.22 L163.81 377.5 L164.37 377.45 L164.93 377.46 L165.49 377.06 L166.06 378 L166.62 377.18 L167.18 378.12 L167.75 378.08 L168.31 376.99 L168.87 377.53 L169.44 377.97 L170 378.16 L170.56 377.55 L171.11 377.34 L171.67 377.27 L172.22 378.16 L172.78 377.29 L173.33 377.74 L173.89 377.22 L174.44 377.69 L175 378.21 L175.56 377.23 L176.11 378.07 L176.67 377.7 L177.22 378.16 L177.78 377.95 L178.33 377.39 L178.89 378.2 L179.44 377.71 L180 377.16 L180.56 377.15 L181.11 377.74 L181.67 377.7 L182.22 377.53 L182.78 377.34 L183.33 377.59 L183.89 377.56 L184.44 378.2 L185 377.2 L185.56 378.11 L186.11 378.22 L186.67 377.37 L187.22 378.34 L187.78 378.09 L188.33 378.33 L188.89 377.6 L189.44 377.71 L190 377.74 L190.56 378.47 L191.11 377.99 L191.67 377.72 L192.22 377.81 L192.78 377.63 L193.33 377.37 L193.89 377.44 L194.44 378.33 L195 377.68 L195.56 378.46 L196.11 377.65 L196.67 377.67 L197.22 377.98 L197.78 377.6 L198.33 377.83 L198.89 378.53 L199.44 378.45 L200 378.37 L200.57 378.14 L201.13 378.47 L201.7 378.49 L202.27 378.01 L202.83 378.2 L203.4 377.38 L203.97 378.19 L204.53 377.83 L205.1 378.18 L205.67 378.04 L206.23 377.6 L206.8 377.3 L207.37 378.34 L207.93 377.37 L208.5 377.8 L209 376.4 L209.6 377.77 L210.3 377.75 L211 377.82 L211.7 378.2" stroke="#f02818" stroke-width="1.25" fill="none" stroke-linejoin="round"/>
<line x1="113.1" y1="249.8" x2="113.1" y2="306" stroke="#2020f0" stroke-width="1.5" />
<line x1="159.6" y1="249.8" x2="159.6" y2="316.6" stroke="#2020f0" stroke-width="1.5" />
<line x1="112.2" y1="267.6" x2="112.2" y2="361.5" stroke="#f02818" stroke-width="1.6" />
<line x1="158.8" y1="262.6" x2="158.8" y2="377.4" stroke="#f02818" stroke-width="1.6" />
<text x="219" y="252.6" font-size="22.5" text-anchor="start" fill="#000" stroke="#000" stroke-width="0.15" >d</text>
<text x="310" y="244.3" font-size="11.8" text-anchor="middle" fill="#111" stroke="#111" stroke-width="0.15" >C <tspan font-style="italic">1s</tspan></text>
<text transform="translate(229.5 317.2) rotate(-90)" x="0" y="3.82" font-size="10.6" text-anchor="middle" fill="#111" stroke="#111" stroke-width="0.15">Intensity (arb. units)</text>
<path d="M241.5 310.56 L242.1 310.55 L242.7 310.53 L243.3 310.51 L243.9 310.48 L244.5 310.45 L245.1 310.41 L245.7 310.37 L246.3 310.31 L246.9 310.25 L247.5 310.18 L248.1 310.1 L248.7 310.01 L249.3 309.92 L249.9 309.82 L250.5 309.72 L251.1 309.61 L251.7 309.51 L252.3 309.4 L252.9 309.31 L253.5 309.22 L254.1 309.15 L254.7 309.08 L255.3 309.04 L255.9 309.01 L256.5 309 L257.1 309.01 L257.7 309.04 L258.3 309.08 L258.9 309.15 L259.5 309.22 L260.1 309.31 L260.7 309.4 L261.3 309.51 L261.9 309.61 L262.5 309.72 L263.1 309.82 L263.7 309.92 L264.3 310.01 L264.9 310.1 L265.5 310.18 L266.1 310.25 L266.7 310.31 L267.3 310.37 L267.9 310.41 L268.5 310.45 L269.1 310.48 L269.7 310.51 L270.3 310.53 L270.9 310.55 L271.5 310.56 L272.1 310.57 L272.7 310.58 L273.3 310.58 L273.9 310.59 L274.5 310.59 L275.1 310.59 L275.7 310.6 L276.3 310.6 L276.9 310.6 L277.5 310.6 L278.1 310.6 L278.7 310.6 L279.3 310.6 L279.9 310.6 L280.5 310.6 L281.1 310.6 L281.7 310.6 L282.3 310.6 L282.9 310.6 L283.5 310.6 L284.1 310.6 L284.7 310.6 L285.3 310.6 L285.9 310.6 L286.5 310.6 L287.1 310.6 L287.7 310.6 L288.3 310.6 L288.9 310.6 L289.5 310.6 L290.1 310.6 L290.7 310.6 L291.3 310.6 L291.9 310.6 L292.5 310.6 L293.1 310.6 L293.7 310.6 L294.3 310.6 L294.9 310.6 L295.5 310.6 L296.1 310.6 L296.7 310.6 L297.3 310.6 L297.9 310.6 L298.5 310.6 L299.1 310.6 L299.7 310.6 L300.3 310.6 L300.9 310.6 L301.5 310.6 L302.1 310.6 L302.7 310.6 L303.3 310.6 L303.9 310.6 L304.5 310.6 L305.1 310.6 L305.7 310.6 L306.3 310.6 L306.9 310.6 L307.5 310.6 L308.1 310.6 L308.7 310.6 L309.3 310.6 L309.9 310.6 L310.5 310.6 L311.1 310.6 L311.7 310.6 L312.3 310.6 L312.9 310.6 L313.5 310.6 L314.1 310.6 L314.7 310.6 L315.3 310.6 L315.9 310.6 L316.5 310.6 L317.1 310.6 L317.7 310.6 L318.3 310.6 L318.9 310.6 L319.5 310.6 L320.1 310.6 L320.7 310.6 L321.3 310.6 L321.9 310.6 L322.5 310.6 L323.1 310.6 L323.7 310.6 L324.3 310.6 L324.9 310.6 L325.5 310.6 L326.1 310.6 L326.7 310.6 L327.3 310.6 L327.9 310.6 L328.5 310.6 L329.1 310.6 L329.7 310.6 L330.3 310.6 L330.9 310.6 L331.5 310.6 L332.1 310.6 L332.7 310.6 L333.3 310.6 L333.9 310.6 L334.5 310.6 L335.1 310.6 L335.7 310.6 L336.3 310.6 L336.9 310.6 L337.5 310.6 L338.1 310.6 L338.7 310.6 L339.3 310.6 L339.9 310.6 L340.5 310.6 L341.1 310.6 L341.7 310.6 L342.3 310.6 L342.9 310.6 L343.5 310.6 L344.1 310.6 L344.7 310.6 L345.3 310.6 L345.9 310.6 L346.5 310.6 L347.1 310.6 L347.7 310.6 L348.3 310.6 L348.9 310.6 L349.5 310.6 L350.1 310.6 L350.7 310.6 L351.3 310.6 L351.9 310.6 L352.5 310.6 L353.1 310.6 L353.7 310.6 L354.3 310.6 L354.9 310.6 L355.5 310.6 L356.1 310.6 L356.7 310.6 L357.3 310.6 L357.9 310.6 L358.5 310.6 L359.1 310.6 L359.7 310.6 L360.3 310.6 L360.9 310.6 L361.5 310.6 L362.1 310.6 L362.7 310.6 L363.3 310.6 L363.9 310.6 L364.5 310.6 L365.1 310.6 L365.7 310.6 L365.7 310.6 L241.5 310.6 Z" stroke="none" stroke-width="1" fill="#c090d0" fill-opacity="0.6"/>
<path d="M241.5 310.45 L242.1 310.44 L242.7 310.43 L243.3 310.42 L243.9 310.41 L244.5 310.4 L245.1 310.38 L245.7 310.37 L246.3 310.36 L246.9 310.34 L247.5 310.33 L248.1 310.31 L248.7 310.29 L249.3 310.28 L249.9 310.26 L250.5 310.24 L251.1 310.22 L251.7 310.2 L252.3 310.18 L252.9 310.16 L253.5 310.13 L254.1 310.11 L254.7 310.08 L255.3 310.06 L255.9 310.03 L256.5 310 L257.1 309.97 L257.7 309.94 L258.3 309.91 L258.9 309.88 L259.5 309.85 L260.1 309.82 L260.7 309.78 L261.3 309.75 L261.9 309.71 L262.5 309.67 L263.1 309.63 L263.7 309.59 L264.3 309.55 L264.9 309.51 L265.5 309.47 L266.1 309.42 L266.7 309.38 L267.3 309.33 L267.9 309.29 L268.5 309.24 L269.1 309.19 L269.7 309.14 L270.3 309.1 L270.9 309.05 L271.5 308.99 L272.1 308.94 L272.7 308.89 L273.3 308.84 L273.9 308.79 L274.5 308.73 L275.1 308.68 L275.7 308.63 L276.3 308.57 L276.9 308.52 L277.5 308.46 L278.1 308.41 L278.7 308.35 L279.3 308.3 L279.9 308.24 L280.5 308.19 L281.1 308.14 L281.7 308.08 L282.3 308.03 L282.9 307.98 L283.5 307.93 L284.1 307.87 L284.7 307.82 L285.3 307.77 L285.9 307.73 L286.5 307.68 L287.1 307.63 L287.7 307.59 L288.3 307.54 L288.9 307.5 L289.5 307.46 L290.1 307.42 L290.7 307.38 L291.3 307.34 L291.9 307.31 L292.5 307.27 L293.1 307.24 L293.7 307.21 L294.3 307.18 L294.9 307.15 L295.5 307.13 L296.1 307.11 L296.7 307.09 L297.3 307.07 L297.9 307.05 L298.5 307.04 L299.1 307.03 L299.7 307.02 L300.3 307.01 L300.9 307 L301.5 307 L302.1 307 L302.7 307 L303.3 307.01 L303.9 307.01 L304.5 307.02 L305.1 307.03 L305.7 307.04 L306.3 307.06 L306.9 307.07 L307.5 307.09 L308.1 307.11 L308.7 307.14 L309.3 307.16 L309.9 307.19 L310.5 307.22 L311.1 307.25 L311.7 307.28 L312.3 307.32 L312.9 307.35 L313.5 307.39 L314.1 307.43 L314.7 307.47 L315.3 307.51 L315.9 307.56 L316.5 307.6 L317.1 307.65 L317.7 307.69 L318.3 307.74 L318.9 307.79 L319.5 307.84 L320.1 307.89 L320.7 307.94 L321.3 307.99 L321.9 308.05 L322.5 308.1 L323.1 308.15 L323.7 308.21 L324.3 308.26 L324.9 308.32 L325.5 308.37 L326.1 308.43 L326.7 308.48 L327.3 308.53 L327.9 308.59 L328.5 308.64 L329.1 308.7 L329.7 308.75 L330.3 308.8 L330.9 308.86 L331.5 308.91 L332.1 308.96 L332.7 309.01 L333.3 309.06 L333.9 309.11 L334.5 309.16 L335.1 309.21 L335.7 309.26 L336.3 309.3 L336.9 309.35 L337.5 309.39 L338.1 309.44 L338.7 309.48 L339.3 309.52 L339.9 309.57 L340.5 309.61 L341.1 309.65 L341.7 309.68 L342.3 309.72 L342.9 309.76 L343.5 309.79 L344.1 309.83 L344.7 309.86 L345.3 309.89 L345.9 309.92 L346.5 309.95 L347.1 309.98 L347.7 310.01 L348.3 310.04 L348.9 310.07 L349.5 310.09 L350.1 310.12 L350.7 310.14 L351.3 310.16 L351.9 310.19 L352.5 310.21 L353.1 310.23 L353.7 310.25 L354.3 310.26 L354.9 310.28 L355.5 310.3 L356.1 310.32 L356.7 310.33 L357.3 310.35 L357.9 310.36 L358.5 310.37 L359.1 310.39 L359.7 310.4 L360.3 310.41 L360.9 310.42 L361.5 310.43 L362.1 310.44 L362.7 310.45 L363.3 310.46 L363.9 310.47 L364.5 310.48 L365.1 310.49 L365.7 310.49 L365.7 310.6 L241.5 310.6 Z" stroke="none" stroke-width="1" fill="#f0c080" fill-opacity="0.6"/>
<path d="M241.5 310.6 L242.1 310.6 L242.7 310.6 L243.3 310.6 L243.9 310.6 L244.5 310.6 L245.1 310.6 L245.7 310.6 L246.3 310.6 L246.9 310.6 L247.5 310.6 L248.1 310.6 L248.7 310.6 L249.3 310.6 L249.9 310.6 L250.5 310.6 L251.1 310.6 L251.7 310.6 L252.3 310.6 L252.9 310.6 L253.5 310.6 L254.1 310.6 L254.7 310.6 L255.3 310.6 L255.9 310.6 L256.5 310.6 L257.1 310.6 L257.7 310.6 L258.3 310.6 L258.9 310.6 L259.5 310.6 L260.1 310.6 L260.7 310.6 L261.3 310.6 L261.9 310.6 L262.5 310.6 L263.1 310.6 L263.7 310.6 L264.3 310.6 L264.9 310.6 L265.5 310.6 L266.1 310.6 L266.7 310.6 L267.3 310.6 L267.9 310.6 L268.5 310.6 L269.1 310.6 L269.7 310.6 L270.3 310.6 L270.9 310.6 L271.5 310.6 L272.1 310.6 L272.7 310.6 L273.3 310.6 L273.9 310.6 L274.5 310.6 L275.1 310.6 L275.7 310.6 L276.3 310.6 L276.9 310.6 L277.5 310.6 L278.1 310.6 L278.7 310.6 L279.3 310.6 L279.9 310.6 L280.5 310.6 L281.1 310.6 L281.7 310.6 L282.3 310.6 L282.9 310.6 L283.5 310.6 L284.1 310.6 L284.7 310.6 L285.3 310.6 L285.9 310.6 L286.5 310.6 L287.1 310.6 L287.7 310.6 L288.3 310.6 L288.9 310.6 L289.5 310.6 L290.1 310.6 L290.7 310.6 L291.3 310.6 L291.9 310.6 L292.5 310.6 L293.1 310.6 L293.7 310.6 L294.3 310.6 L294.9 310.6 L295.5 310.6 L296.1 310.6 L296.7 310.6 L297.3 310.6 L297.9 310.6 L298.5 310.6 L299.1 310.6 L299.7 310.6 L300.3 310.6 L300.9 310.6 L301.5 310.6 L302.1 310.6 L302.7 310.6 L303.3 310.6 L303.9 310.6 L304.5 310.6 L305.1 310.6 L305.7 310.6 L306.3 310.6 L306.9 310.6 L307.5 310.6 L308.1 310.6 L308.7 310.6 L309.3 310.6 L309.9 310.6 L310.5 310.6 L311.1 310.6 L311.7 310.6 L312.3 310.6 L312.9 310.59 L313.5 310.59 L314.1 310.58 L314.7 310.57 L315.3 310.55 L315.9 310.52 L316.5 310.48 L317.1 310.42 L317.7 310.33 L318.3 310.21 L318.9 310.05 L319.5 309.82 L320.1 309.52 L320.7 309.14 L321.3 308.66 L321.9 308.07 L322.5 307.36 L323.1 306.52 L323.7 305.56 L324.3 304.5 L324.9 303.34 L325.5 302.12 L326.1 300.88 L326.7 299.67 L327.3 298.53 L327.9 297.52 L328.5 296.68 L329.1 296.06 L329.7 295.7 L330.3 295.6 L330.9 295.79 L331.5 296.24 L332.1 296.94 L332.7 297.84 L333.3 298.9 L333.9 300.07 L334.5 301.3 L335.1 302.53 L335.7 303.73 L336.3 304.86 L336.9 305.89 L337.5 306.81 L338.1 307.61 L338.7 308.28 L339.3 308.83 L339.9 309.28 L340.5 309.63 L341.1 309.9 L341.7 310.11 L342.3 310.26 L342.9 310.37 L343.5 310.44 L344.1 310.5 L344.7 310.53 L345.3 310.56 L345.9 310.57 L346.5 310.58 L347.1 310.59 L347.7 310.59 L348.3 310.6 L348.9 310.6 L349.5 310.6 L350.1 310.6 L350.7 310.6 L351.3 310.6 L351.9 310.6 L352.5 310.6 L353.1 310.6 L353.7 310.6 L354.3 310.6 L354.9 310.6 L355.5 310.6 L356.1 310.6 L356.7 310.6 L357.3 310.6 L357.9 310.6 L358.5 310.6 L359.1 310.6 L359.7 310.6 L360.3 310.6 L360.9 310.6 L361.5 310.6 L362.1 310.6 L362.7 310.6 L363.3 310.6 L363.9 310.6 L364.5 310.6 L365.1 310.6 L365.7 310.6 L365.7 310.6 L241.5 310.6 Z" stroke="none" stroke-width="1" fill="#90c8a0" fill-opacity="0.5"/>
<path d="M241.5 310.6 L242.1 310.6 L242.7 310.6 L243.3 310.6 L243.9 310.6 L244.5 310.6 L245.1 310.6 L245.7 310.6 L246.3 310.6 L246.9 310.6 L247.5 310.6 L248.1 310.6 L248.7 310.6 L249.3 310.6 L249.9 310.6 L250.5 310.6 L251.1 310.6 L251.7 310.6 L252.3 310.6 L252.9 310.6 L253.5 310.6 L254.1 310.6 L254.7 310.6 L255.3 310.6 L255.9 310.6 L256.5 310.6 L257.1 310.6 L257.7 310.6 L258.3 310.6 L258.9 310.6 L259.5 310.6 L260.1 310.6 L260.7 310.6 L261.3 310.6 L261.9 310.6 L262.5 310.6 L263.1 310.6 L263.7 310.6 L264.3 310.6 L264.9 310.6 L265.5 310.6 L266.1 310.6 L266.7 310.6 L267.3 310.6 L267.9 310.6 L268.5 310.6 L269.1 310.6 L269.7 310.6 L270.3 310.6 L270.9 310.6 L271.5 310.6 L272.1 310.6 L272.7 310.6 L273.3 310.6 L273.9 310.6 L274.5 310.6 L275.1 310.6 L275.7 310.59 L276.3 310.59 L276.9 310.59 L277.5 310.58 L278.1 310.57 L278.7 310.56 L279.3 310.55 L279.9 310.53 L280.5 310.5 L281.1 310.47 L281.7 310.42 L282.3 310.35 L282.9 310.27 L283.5 310.16 L284.1 310.03 L284.7 309.85 L285.3 309.63 L285.9 309.35 L286.5 309.01 L287.1 308.59 L287.7 308.08 L288.3 307.47 L288.9 306.74 L289.5 305.88 L290.1 304.87 L290.7 303.71 L291.3 302.38 L291.9 300.88 L292.5 299.19 L293.1 297.33 L293.7 295.28 L294.3 293.07 L294.9 290.7 L295.5 288.2 L296.1 285.59 L296.7 282.9 L297.3 280.18 L297.9 277.47 L298.5 274.82 L299.1 272.26 L299.7 269.87 L300.3 267.68 L300.9 265.75 L301.5 264.11 L302.1 262.81 L302.7 261.88 L303.3 261.34 L303.9 261.21 L304.5 261.48 L305.1 262.15 L305.7 263.21 L306.3 264.62 L306.9 266.36 L307.5 268.38 L308.1 270.65 L308.7 273.1 L309.3 275.69 L309.9 278.37 L310.5 281.09 L311.1 283.8 L311.7 286.47 L312.3 289.04 L312.9 291.51 L313.5 293.82 L314.1 295.98 L314.7 297.97 L315.3 299.77 L315.9 301.4 L316.5 302.84 L317.1 304.11 L317.7 305.22 L318.3 306.18 L318.9 306.99 L319.5 307.68 L320.1 308.26 L320.7 308.74 L321.3 309.13 L321.9 309.45 L322.5 309.71 L323.1 309.91 L323.7 310.08 L324.3 310.2 L324.9 310.3 L325.5 310.38 L326.1 310.44 L326.7 310.48 L327.3 310.51 L327.9 310.54 L328.5 310.56 L329.1 310.57 L329.7 310.58 L330.3 310.58 L330.9 310.59 L331.5 310.59 L332.1 310.59 L332.7 310.6 L333.3 310.6 L333.9 310.6 L334.5 310.6 L335.1 310.6 L335.7 310.6 L336.3 310.6 L336.9 310.6 L337.5 310.6 L338.1 310.6 L338.7 310.6 L339.3 310.6 L339.9 310.6 L340.5 310.6 L341.1 310.6 L341.7 310.6 L342.3 310.6 L342.9 310.6 L343.5 310.6 L344.1 310.6 L344.7 310.6 L345.3 310.6 L345.9 310.6 L346.5 310.6 L347.1 310.6 L347.7 310.6 L348.3 310.6 L348.9 310.6 L349.5 310.6 L350.1 310.6 L350.7 310.6 L351.3 310.6 L351.9 310.6 L352.5 310.6 L353.1 310.6 L353.7 310.6 L354.3 310.6 L354.9 310.6 L355.5 310.6 L356.1 310.6 L356.7 310.6 L357.3 310.6 L357.9 310.6 L358.5 310.6 L359.1 310.6 L359.7 310.6 L360.3 310.6 L360.9 310.6 L361.5 310.6 L362.1 310.6 L362.7 310.6 L363.3 310.6 L363.9 310.6 L364.5 310.6 L365.1 310.6 L365.7 310.6 L365.7 310.6 L241.5 310.6 Z" stroke="none" stroke-width="1" fill="#e8a8a0" fill-opacity="0.55"/>
<path d="M241.5 310.6 L242.1 310.6 L242.7 310.6 L243.3 310.6 L243.9 310.6 L244.5 310.6 L245.1 310.6 L245.7 310.6 L246.3 310.6 L246.9 310.6 L247.5 310.6 L248.1 310.6 L248.7 310.6 L249.3 310.6 L249.9 310.6 L250.5 310.6 L251.1 310.6 L251.7 310.6 L252.3 310.6 L252.9 310.6 L253.5 310.6 L254.1 310.6 L254.7 310.6 L255.3 310.6 L255.9 310.6 L256.5 310.6 L257.1 310.6 L257.7 310.6 L258.3 310.6 L258.9 310.6 L259.5 310.6 L260.1 310.6 L260.7 310.6 L261.3 310.6 L261.9 310.6 L262.5 310.6 L263.1 310.6 L263.7 310.6 L264.3 310.6 L264.9 310.6 L265.5 310.6 L266.1 310.6 L266.7 310.6 L267.3 310.6 L267.9 310.6 L268.5 310.6 L269.1 310.6 L269.7 310.6 L270.3 310.6 L270.9 310.6 L271.5 310.6 L272.1 310.6 L272.7 310.6 L273.3 310.6 L273.9 310.6 L274.5 310.6 L275.1 310.6 L275.7 310.6 L276.3 310.6 L276.9 310.6 L277.5 310.6 L278.1 310.6 L278.7 310.6 L279.3 310.6 L279.9 310.6 L280.5 310.6 L281.1 310.6 L281.7 310.6 L282.3 310.6 L282.9 310.6 L283.5 310.6 L284.1 310.6 L284.7 310.6 L285.3 310.6 L285.9 310.6 L286.5 310.6 L287.1 310.6 L287.7 310.6 L288.3 310.6 L288.9 310.6 L289.5 310.6 L290.1 310.6 L290.7 310.6 L291.3 310.6 L291.9 310.6 L292.5 310.6 L293.1 310.6 L293.7 310.6 L294.3 310.6 L294.9 310.6 L295.5 310.59 L296.1 310.59 L296.7 310.59 L297.3 310.58 L297.9 310.57 L298.5 310.56 L299.1 310.54 L299.7 310.52 L300.3 310.49 L300.9 310.45 L301.5 310.4 L302.1 310.33 L302.7 310.24 L303.3 310.12 L303.9 309.97 L304.5 309.78 L305.1 309.54 L305.7 309.24 L306.3 308.87 L306.9 308.43 L307.5 307.89 L308.1 307.24 L308.7 306.48 L309.3 305.58 L309.9 304.54 L310.5 303.34 L311.1 301.98 L311.7 300.44 L312.3 298.73 L312.9 296.85 L313.5 294.79 L314.1 292.58 L314.7 290.23 L315.3 287.77 L315.9 285.21 L316.5 282.6 L317.1 279.98 L317.7 277.39 L318.3 274.87 L318.9 272.48 L319.5 270.27 L320.1 268.28 L320.7 266.55 L321.3 265.14 L321.9 264.06 L322.5 263.35 L323.1 263.02 L323.7 263.09 L324.3 263.54 L324.9 264.38 L325.5 265.57 L326.1 267.1 L326.7 268.91 L327.3 270.99 L327.9 273.26 L328.5 275.7 L329.1 278.25 L329.7 280.85 L330.3 283.48 L330.9 286.07 L331.5 288.6 L332.1 291.03 L332.7 293.34 L333.3 295.5 L333.9 297.49 L334.5 299.32 L335.1 300.97 L335.7 302.45 L336.3 303.76 L336.9 304.9 L337.5 305.9 L338.1 306.75 L338.7 307.47 L339.3 308.08 L339.9 308.59 L340.5 309 L341.1 309.35 L341.7 309.62 L342.3 309.84 L342.9 310.02 L343.5 310.16 L344.1 310.27 L344.7 310.35 L345.3 310.42 L345.9 310.46 L346.5 310.5 L347.1 310.53 L347.7 310.55 L348.3 310.56 L348.9 310.57 L349.5 310.58 L350.1 310.59 L350.7 310.59 L351.3 310.59 L351.9 310.6 L352.5 310.6 L353.1 310.6 L353.7 310.6 L354.3 310.6 L354.9 310.6 L355.5 310.6 L356.1 310.6 L356.7 310.6 L357.3 310.6 L357.9 310.6 L358.5 310.6 L359.1 310.6 L359.7 310.6 L360.3 310.6 L360.9 310.6 L361.5 310.6 L362.1 310.6 L362.7 310.6 L363.3 310.6 L363.9 310.6 L364.5 310.6 L365.1 310.6 L365.7 310.6 L365.7 310.6 L241.5 310.6 Z" stroke="none" stroke-width="1" fill="#9cb0f0" fill-opacity="0.5"/>
<path d="M241.5 310.41 L242.1 310.39 L242.7 310.36 L243.3 310.33 L243.9 310.29 L244.5 310.25 L245.1 310.2 L245.7 310.14 L246.3 310.07 L246.9 309.99 L247.5 309.91 L248.1 309.81 L248.7 309.71 L249.3 309.6 L249.9 309.48 L250.5 309.36 L251.1 309.23 L251.7 309.11 L252.3 308.98 L252.9 308.86 L253.5 308.75 L254.1 308.65 L254.7 308.57 L255.3 308.5 L255.9 308.44 L256.5 308.4 L257.1 308.38 L257.7 308.38 L258.3 308.4 L258.9 308.43 L259.5 308.47 L260.1 308.52 L260.7 308.59 L261.3 308.65 L261.9 308.72 L262.5 308.79 L263.1 308.85 L263.7 308.91 L264.3 308.97 L264.9 309.01 L265.5 309.05 L266.1 309.08 L266.7 309.09 L267.3 309.1 L267.9 309.1 L268.5 309.09 L269.1 309.08 L269.7 309.05 L270.3 309.03 L270.9 308.99 L271.5 308.96 L272.1 308.91 L272.7 308.87 L273.3 308.82 L273.9 308.77 L274.5 308.72 L275.1 308.67 L275.7 308.62 L276.3 308.56 L276.9 308.5 L277.5 308.44 L278.1 308.38 L278.7 308.32 L279.3 308.25 L279.9 308.17 L280.5 308.09 L281.1 308 L281.7 307.9 L282.3 307.78 L282.9 307.65 L283.5 307.49 L284.1 307.3 L284.7 307.07 L285.3 306.8 L285.9 306.48 L286.5 306.09 L287.1 305.62 L287.7 305.06 L288.3 304.41 L288.9 303.63 L289.5 302.73 L290.1 301.69 L290.7 300.49 L291.3 299.12 L291.9 297.58 L292.5 295.86 L293.1 293.96 L293.7 291.89 L294.3 289.65 L294.9 287.25 L295.5 284.72 L296.1 282.08 L296.7 279.38 L297.3 276.63 L297.9 273.89 L298.5 271.21 L299.1 268.63 L299.7 266.21 L300.3 263.98 L300.9 262 L301.5 260.31 L302.1 258.94 L302.7 257.92 L303.3 257.26 L303.9 256.98 L304.5 257.07 L305.1 257.52 L305.7 258.29 L306.3 259.35 L306.9 260.66 L307.5 262.17 L308.1 263.8 L308.7 265.52 L309.3 267.24 L309.9 268.9 L310.5 270.45 L311.1 271.83 L311.7 272.99 L312.3 273.89 L312.9 274.5 L313.5 274.8 L314.1 274.78 L314.7 274.44 L315.3 273.8 L315.9 272.89 L316.5 271.73 L317.1 270.36 L317.7 268.84 L318.3 267.21 L318.9 265.51 L319.5 263.81 L320.1 262.15 L320.7 260.58 L321.3 259.12 L321.9 257.82 L322.5 256.71 L323.1 255.81 L323.7 255.13 L324.3 254.7 L324.9 254.54 L325.5 254.64 L326.1 255.04 L326.7 255.74 L327.3 256.76 L327.9 258.11 L328.5 259.78 L329.1 261.77 L329.7 264.08 L330.3 266.67 L330.9 269.51 L331.5 272.54 L332.1 275.72 L332.7 278.98 L333.3 282.25 L333.9 285.47 L334.5 288.58 L335.1 291.51 L335.7 294.24 L336.3 296.72 L336.9 298.95 L337.5 300.9 L338.1 302.59 L338.7 304.03 L339.3 305.24 L339.9 306.23 L340.5 307.04 L341.1 307.69 L341.7 308.21 L342.3 308.62 L342.9 308.95 L343.5 309.2 L344.1 309.39 L344.7 309.55 L345.3 309.67 L345.9 309.76 L346.5 309.84 L347.1 309.9 L347.7 309.96 L348.3 310 L348.9 310.04 L349.5 310.07 L350.1 310.1 L350.7 310.13 L351.3 310.16 L351.9 310.18 L352.5 310.2 L353.1 310.23 L353.7 310.25 L354.3 310.26 L354.9 310.28 L355.5 310.3 L356.1 310.32 L356.7 310.33 L357.3 310.35 L357.9 310.36 L358.5 310.37 L359.1 310.39 L359.7 310.4 L360.3 310.41 L360.9 310.42 L361.5 310.43 L362.1 310.44 L362.7 310.45 L363.3 310.46 L363.9 310.47 L364.5 310.48 L365.1 310.49 L365.7 310.49" stroke="#707070" stroke-width="1.1" fill="none" />
<path d="M241.5 310.56 L242.1 310.55 L242.7 310.53 L243.3 310.51 L243.9 310.48 L244.5 310.45 L245.1 310.41 L245.7 310.37 L246.3 310.31 L246.9 310.25 L247.5 310.18 L248.1 310.1 L248.7 310.01 L249.3 309.92 L249.9 309.82 L250.5 309.72 L251.1 309.61 L251.7 309.51 L252.3 309.4 L252.9 309.31 L253.5 309.22 L254.1 309.15 L254.7 309.08 L255.3 309.04 L255.9 309.01 L256.5 309 L257.1 309.01 L257.7 309.04 L258.3 309.08 L258.9 309.15 L259.5 309.22 L260.1 309.31 L260.7 309.4 L261.3 309.51 L261.9 309.61 L262.5 309.72 L263.1 309.82 L263.7 309.92 L264.3 310.01 L264.9 310.1 L265.5 310.18 L266.1 310.25 L266.7 310.31 L267.3 310.37 L267.9 310.41 L268.5 310.45 L269.1 310.48 L269.7 310.51 L270.3 310.53 L270.9 310.55 L271.5 310.56 L272.1 310.57 L272.7 310.58 L273.3 310.58 L273.9 310.59 L274.5 310.59 L275.1 310.59 L275.7 310.6 L276.3 310.6 L276.9 310.6 L277.5 310.6 L278.1 310.6 L278.7 310.6 L279.3 310.6 L279.9 310.6 L280.5 310.6 L281.1 310.6 L281.7 310.6 L282.3 310.6 L282.9 310.6 L283.5 310.6 L284.1 310.6 L284.7 310.6 L285.3 310.6 L285.9 310.6 L286.5 310.6 L287.1 310.6 L287.7 310.6 L288.3 310.6 L288.9 310.6 L289.5 310.6 L290.1 310.6 L290.7 310.6 L291.3 310.6 L291.9 310.6 L292.5 310.6 L293.1 310.6 L293.7 310.6 L294.3 310.6 L294.9 310.6 L295.5 310.6 L296.1 310.6 L296.7 310.6 L297.3 310.6 L297.9 310.6 L298.5 310.6 L299.1 310.6 L299.7 310.6 L300.3 310.6 L300.9 310.6 L301.5 310.6 L302.1 310.6 L302.7 310.6 L303.3 310.6 L303.9 310.6 L304.5 310.6 L305.1 310.6 L305.7 310.6 L306.3 310.6 L306.9 310.6 L307.5 310.6 L308.1 310.6 L308.7 310.6 L309.3 310.6 L309.9 310.6 L310.5 310.6 L311.1 310.6 L311.7 310.6 L312.3 310.6 L312.9 310.6 L313.5 310.6 L314.1 310.6 L314.7 310.6 L315.3 310.6 L315.9 310.6 L316.5 310.6 L317.1 310.6 L317.7 310.6 L318.3 310.6 L318.9 310.6 L319.5 310.6 L320.1 310.6 L320.7 310.6 L321.3 310.6 L321.9 310.6 L322.5 310.6 L323.1 310.6 L323.7 310.6 L324.3 310.6 L324.9 310.6 L325.5 310.6 L326.1 310.6 L326.7 310.6 L327.3 310.6 L327.9 310.6 L328.5 310.6 L329.1 310.6 L329.7 310.6 L330.3 310.6 L330.9 310.6 L331.5 310.6 L332.1 310.6 L332.7 310.6 L333.3 310.6 L333.9 310.6 L334.5 310.6 L335.1 310.6 L335.7 310.6 L336.3 310.6 L336.9 310.6 L337.5 310.6 L338.1 310.6 L338.7 310.6 L339.3 310.6 L339.9 310.6 L340.5 310.6 L341.1 310.6 L341.7 310.6 L342.3 310.6 L342.9 310.6 L343.5 310.6 L344.1 310.6 L344.7 310.6 L345.3 310.6 L345.9 310.6 L346.5 310.6 L347.1 310.6 L347.7 310.6 L348.3 310.6 L348.9 310.6 L349.5 310.6 L350.1 310.6 L350.7 310.6 L351.3 310.6 L351.9 310.6 L352.5 310.6 L353.1 310.6 L353.7 310.6 L354.3 310.6 L354.9 310.6 L355.5 310.6 L356.1 310.6 L356.7 310.6 L357.3 310.6 L357.9 310.6 L358.5 310.6 L359.1 310.6 L359.7 310.6 L360.3 310.6 L360.9 310.6 L361.5 310.6 L362.1 310.6 L362.7 310.6 L363.3 310.6 L363.9 310.6 L364.5 310.6 L365.1 310.6 L365.7 310.6" stroke="#8040a0" stroke-width="1.3" fill="none" />
<path d="M241.5 310.45 L242.1 310.44 L242.7 310.43 L243.3 310.42 L243.9 310.41 L244.5 310.4 L245.1 310.38 L245.7 310.37 L246.3 310.36 L246.9 310.34 L247.5 310.33 L248.1 310.31 L248.7 310.29 L249.3 310.28 L249.9 310.26 L250.5 310.24 L251.1 310.22 L251.7 310.2 L252.3 310.18 L252.9 310.16 L253.5 310.13 L254.1 310.11 L254.7 310.08 L255.3 310.06 L255.9 310.03 L256.5 310 L257.1 309.97 L257.7 309.94 L258.3 309.91 L258.9 309.88 L259.5 309.85 L260.1 309.82 L260.7 309.78 L261.3 309.75 L261.9 309.71 L262.5 309.67 L263.1 309.63 L263.7 309.59 L264.3 309.55 L264.9 309.51 L265.5 309.47 L266.1 309.42 L266.7 309.38 L267.3 309.33 L267.9 309.29 L268.5 309.24 L269.1 309.19 L269.7 309.14 L270.3 309.1 L270.9 309.05 L271.5 308.99 L272.1 308.94 L272.7 308.89 L273.3 308.84 L273.9 308.79 L274.5 308.73 L275.1 308.68 L275.7 308.63 L276.3 308.57 L276.9 308.52 L277.5 308.46 L278.1 308.41 L278.7 308.35 L279.3 308.3 L279.9 308.24 L280.5 308.19 L281.1 308.14 L281.7 308.08 L282.3 308.03 L282.9 307.98 L283.5 307.93 L284.1 307.87 L284.7 307.82 L285.3 307.77 L285.9 307.73 L286.5 307.68 L287.1 307.63 L287.7 307.59 L288.3 307.54 L288.9 307.5 L289.5 307.46 L290.1 307.42 L290.7 307.38 L291.3 307.34 L291.9 307.31 L292.5 307.27 L293.1 307.24 L293.7 307.21 L294.3 307.18 L294.9 307.15 L295.5 307.13 L296.1 307.11 L296.7 307.09 L297.3 307.07 L297.9 307.05 L298.5 307.04 L299.1 307.03 L299.7 307.02 L300.3 307.01 L300.9 307 L301.5 307 L302.1 307 L302.7 307 L303.3 307.01 L303.9 307.01 L304.5 307.02 L305.1 307.03 L305.7 307.04 L306.3 307.06 L306.9 307.07 L307.5 307.09 L308.1 307.11 L308.7 307.14 L309.3 307.16 L309.9 307.19 L310.5 307.22 L311.1 307.25 L311.7 307.28 L312.3 307.32 L312.9 307.35 L313.5 307.39 L314.1 307.43 L314.7 307.47 L315.3 307.51 L315.9 307.56 L316.5 307.6 L317.1 307.65 L317.7 307.69 L318.3 307.74 L318.9 307.79 L319.5 307.84 L320.1 307.89 L320.7 307.94 L321.3 307.99 L321.9 308.05 L322.5 308.1 L323.1 308.15 L323.7 308.21 L324.3 308.26 L324.9 308.32 L325.5 308.37 L326.1 308.43 L326.7 308.48 L327.3 308.53 L327.9 308.59 L328.5 308.64 L329.1 308.7 L329.7 308.75 L330.3 308.8 L330.9 308.86 L331.5 308.91 L332.1 308.96 L332.7 309.01 L333.3 309.06 L333.9 309.11 L334.5 309.16 L335.1 309.21 L335.7 309.26 L336.3 309.3 L336.9 309.35 L337.5 309.39 L338.1 309.44 L338.7 309.48 L339.3 309.52 L339.9 309.57 L340.5 309.61 L341.1 309.65 L341.7 309.68 L342.3 309.72 L342.9 309.76 L343.5 309.79 L344.1 309.83 L344.7 309.86 L345.3 309.89 L345.9 309.92 L346.5 309.95 L347.1 309.98 L347.7 310.01 L348.3 310.04 L348.9 310.07 L349.5 310.09 L350.1 310.12 L350.7 310.14 L351.3 310.16 L351.9 310.19 L352.5 310.21 L353.1 310.23 L353.7 310.25 L354.3 310.26 L354.9 310.28 L355.5 310.3 L356.1 310.32 L356.7 310.33 L357.3 310.35 L357.9 310.36 L358.5 310.37 L359.1 310.39 L359.7 310.4 L360.3 310.41 L360.9 310.42 L361.5 310.43 L362.1 310.44 L362.7 310.45 L363.3 310.46 L363.9 310.47 L364.5 310.48 L365.1 310.49 L365.7 310.49" stroke="#f09020" stroke-width="1.3" fill="none" />
<path d="M241.5 310.6 L242.1 310.6 L242.7 310.6 L243.3 310.6 L243.9 310.6 L244.5 310.6 L245.1 310.6 L245.7 310.6 L246.3 310.6 L246.9 310.6 L247.5 310.6 L248.1 310.6 L248.7 310.6 L249.3 310.6 L249.9 310.6 L250.5 310.6 L251.1 310.6 L251.7 310.6 L252.3 310.6 L252.9 310.6 L253.5 310.6 L254.1 310.6 L254.7 310.6 L255.3 310.6 L255.9 310.6 L256.5 310.6 L257.1 310.6 L257.7 310.6 L258.3 310.6 L258.9 310.6 L259.5 310.6 L260.1 310.6 L260.7 310.6 L261.3 310.6 L261.9 310.6 L262.5 310.6 L263.1 310.6 L263.7 310.6 L264.3 310.6 L264.9 310.6 L265.5 310.6 L266.1 310.6 L266.7 310.6 L267.3 310.6 L267.9 310.6 L268.5 310.6 L269.1 310.6 L269.7 310.6 L270.3 310.6 L270.9 310.6 L271.5 310.6 L272.1 310.6 L272.7 310.6 L273.3 310.6 L273.9 310.6 L274.5 310.6 L275.1 310.6 L275.7 310.6 L276.3 310.6 L276.9 310.6 L277.5 310.6 L278.1 310.6 L278.7 310.6 L279.3 310.6 L279.9 310.6 L280.5 310.6 L281.1 310.6 L281.7 310.6 L282.3 310.6 L282.9 310.6 L283.5 310.6 L284.1 310.6 L284.7 310.6 L285.3 310.6 L285.9 310.6 L286.5 310.6 L287.1 310.6 L287.7 310.6 L288.3 310.6 L288.9 310.6 L289.5 310.6 L290.1 310.6 L290.7 310.6 L291.3 310.6 L291.9 310.6 L292.5 310.6 L293.1 310.6 L293.7 310.6 L294.3 310.6 L294.9 310.6 L295.5 310.6 L296.1 310.6 L296.7 310.6 L297.3 310.6 L297.9 310.6 L298.5 310.6 L299.1 310.6 L299.7 310.6 L300.3 310.6 L300.9 310.6 L301.5 310.6 L302.1 310.6 L302.7 310.6 L303.3 310.6 L303.9 310.6 L304.5 310.6 L305.1 310.6 L305.7 310.6 L306.3 310.6 L306.9 310.6 L307.5 310.6 L308.1 310.6 L308.7 310.6 L309.3 310.6 L309.9 310.6 L310.5 310.6 L311.1 310.6 L311.7 310.6 L312.3 310.6 L312.9 310.59 L313.5 310.59 L314.1 310.58 L314.7 310.57 L315.3 310.55 L315.9 310.52 L316.5 310.48 L317.1 310.42 L317.7 310.33 L318.3 310.21 L318.9 310.05 L319.5 309.82 L320.1 309.52 L320.7 309.14 L321.3 308.66 L321.9 308.07 L322.5 307.36 L323.1 306.52 L323.7 305.56 L324.3 304.5 L324.9 303.34 L325.5 302.12 L326.1 300.88 L326.7 299.67 L327.3 298.53 L327.9 297.52 L328.5 296.68 L329.1 296.06 L329.7 295.7 L330.3 295.6 L330.9 295.79 L331.5 296.24 L332.1 296.94 L332.7 297.84 L333.3 298.9 L333.9 300.07 L334.5 301.3 L335.1 302.53 L335.7 303.73 L336.3 304.86 L336.9 305.89 L337.5 306.81 L338.1 307.61 L338.7 308.28 L339.3 308.83 L339.9 309.28 L340.5 309.63 L341.1 309.9 L341.7 310.11 L342.3 310.26 L342.9 310.37 L343.5 310.44 L344.1 310.5 L344.7 310.53 L345.3 310.56 L345.9 310.57 L346.5 310.58 L347.1 310.59 L347.7 310.59 L348.3 310.6 L348.9 310.6 L349.5 310.6 L350.1 310.6 L350.7 310.6 L351.3 310.6 L351.9 310.6 L352.5 310.6 L353.1 310.6 L353.7 310.6 L354.3 310.6 L354.9 310.6 L355.5 310.6 L356.1 310.6 L356.7 310.6 L357.3 310.6 L357.9 310.6 L358.5 310.6 L359.1 310.6 L359.7 310.6 L360.3 310.6 L360.9 310.6 L361.5 310.6 L362.1 310.6 L362.7 310.6 L363.3 310.6 L363.9 310.6 L364.5 310.6 L365.1 310.6 L365.7 310.6" stroke="#30a030" stroke-width="1.3" fill="none" />
<path d="M241.5 310.6 L242.1 310.6 L242.7 310.6 L243.3 310.6 L243.9 310.6 L244.5 310.6 L245.1 310.6 L245.7 310.6 L246.3 310.6 L246.9 310.6 L247.5 310.6 L248.1 310.6 L248.7 310.6 L249.3 310.6 L249.9 310.6 L250.5 310.6 L251.1 310.6 L251.7 310.6 L252.3 310.6 L252.9 310.6 L253.5 310.6 L254.1 310.6 L254.7 310.6 L255.3 310.6 L255.9 310.6 L256.5 310.6 L257.1 310.6 L257.7 310.6 L258.3 310.6 L258.9 310.6 L259.5 310.6 L260.1 310.6 L260.7 310.6 L261.3 310.6 L261.9 310.6 L262.5 310.6 L263.1 310.6 L263.7 310.6 L264.3 310.6 L264.9 310.6 L265.5 310.6 L266.1 310.6 L266.7 310.6 L267.3 310.6 L267.9 310.6 L268.5 310.6 L269.1 310.6 L269.7 310.6 L270.3 310.6 L270.9 310.6 L271.5 310.6 L272.1 310.6 L272.7 310.6 L273.3 310.6 L273.9 310.6 L274.5 310.6 L275.1 310.6 L275.7 310.59 L276.3 310.59 L276.9 310.59 L277.5 310.58 L278.1 310.57 L278.7 310.56 L279.3 310.55 L279.9 310.53 L280.5 310.5 L281.1 310.47 L281.7 310.42 L282.3 310.35 L282.9 310.27 L283.5 310.16 L284.1 310.03 L284.7 309.85 L285.3 309.63 L285.9 309.35 L286.5 309.01 L287.1 308.59 L287.7 308.08 L288.3 307.47 L288.9 306.74 L289.5 305.88 L290.1 304.87 L290.7 303.71 L291.3 302.38 L291.9 300.88 L292.5 299.19 L293.1 297.33 L293.7 295.28 L294.3 293.07 L294.9 290.7 L295.5 288.2 L296.1 285.59 L296.7 282.9 L297.3 280.18 L297.9 277.47 L298.5 274.82 L299.1 272.26 L299.7 269.87 L300.3 267.68 L300.9 265.75 L301.5 264.11 L302.1 262.81 L302.7 261.88 L303.3 261.34 L303.9 261.21 L304.5 261.48 L305.1 262.15 L305.7 263.21 L306.3 264.62 L306.9 266.36 L307.5 268.38 L308.1 270.65 L308.7 273.1 L309.3 275.69 L309.9 278.37 L310.5 281.09 L311.1 283.8 L311.7 286.47 L312.3 289.04 L312.9 291.51 L313.5 293.82 L314.1 295.98 L314.7 297.97 L315.3 299.77 L315.9 301.4 L316.5 302.84 L317.1 304.11 L317.7 305.22 L318.3 306.18 L318.9 306.99 L319.5 307.68 L320.1 308.26 L320.7 308.74 L321.3 309.13 L321.9 309.45 L322.5 309.71 L323.1 309.91 L323.7 310.08 L324.3 310.2 L324.9 310.3 L325.5 310.38 L326.1 310.44 L326.7 310.48 L327.3 310.51 L327.9 310.54 L328.5 310.56 L329.1 310.57 L329.7 310.58 L330.3 310.58 L330.9 310.59 L331.5 310.59 L332.1 310.59 L332.7 310.6 L333.3 310.6 L333.9 310.6 L334.5 310.6 L335.1 310.6 L335.7 310.6 L336.3 310.6 L336.9 310.6 L337.5 310.6 L338.1 310.6 L338.7 310.6 L339.3 310.6 L339.9 310.6 L340.5 310.6 L341.1 310.6 L341.7 310.6 L342.3 310.6 L342.9 310.6 L343.5 310.6 L344.1 310.6 L344.7 310.6 L345.3 310.6 L345.9 310.6 L346.5 310.6 L347.1 310.6 L347.7 310.6 L348.3 310.6 L348.9 310.6 L349.5 310.6 L350.1 310.6 L350.7 310.6 L351.3 310.6 L351.9 310.6 L352.5 310.6 L353.1 310.6 L353.7 310.6 L354.3 310.6 L354.9 310.6 L355.5 310.6 L356.1 310.6 L356.7 310.6 L357.3 310.6 L357.9 310.6 L358.5 310.6 L359.1 310.6 L359.7 310.6 L360.3 310.6 L360.9 310.6 L361.5 310.6 L362.1 310.6 L362.7 310.6 L363.3 310.6 L363.9 310.6 L364.5 310.6 L365.1 310.6 L365.7 310.6" stroke="#f02020" stroke-width="1.3" fill="none" />
<path d="M241.5 310.6 L242.1 310.6 L242.7 310.6 L243.3 310.6 L243.9 310.6 L244.5 310.6 L245.1 310.6 L245.7 310.6 L246.3 310.6 L246.9 310.6 L247.5 310.6 L248.1 310.6 L248.7 310.6 L249.3 310.6 L249.9 310.6 L250.5 310.6 L251.1 310.6 L251.7 310.6 L252.3 310.6 L252.9 310.6 L253.5 310.6 L254.1 310.6 L254.7 310.6 L255.3 310.6 L255.9 310.6 L256.5 310.6 L257.1 310.6 L257.7 310.6 L258.3 310.6 L258.9 310.6 L259.5 310.6 L260.1 310.6 L260.7 310.6 L261.3 310.6 L261.9 310.6 L262.5 310.6 L263.1 310.6 L263.7 310.6 L264.3 310.6 L264.9 310.6 L265.5 310.6 L266.1 310.6 L266.7 310.6 L267.3 310.6 L267.9 310.6 L268.5 310.6 L269.1 310.6 L269.7 310.6 L270.3 310.6 L270.9 310.6 L271.5 310.6 L272.1 310.6 L272.7 310.6 L273.3 310.6 L273.9 310.6 L274.5 310.6 L275.1 310.6 L275.7 310.6 L276.3 310.6 L276.9 310.6 L277.5 310.6 L278.1 310.6 L278.7 310.6 L279.3 310.6 L279.9 310.6 L280.5 310.6 L281.1 310.6 L281.7 310.6 L282.3 310.6 L282.9 310.6 L283.5 310.6 L284.1 310.6 L284.7 310.6 L285.3 310.6 L285.9 310.6 L286.5 310.6 L287.1 310.6 L287.7 310.6 L288.3 310.6 L288.9 310.6 L289.5 310.6 L290.1 310.6 L290.7 310.6 L291.3 310.6 L291.9 310.6 L292.5 310.6 L293.1 310.6 L293.7 310.6 L294.3 310.6 L294.9 310.6 L295.5 310.59 L296.1 310.59 L296.7 310.59 L297.3 310.58 L297.9 310.57 L298.5 310.56 L299.1 310.54 L299.7 310.52 L300.3 310.49 L300.9 310.45 L301.5 310.4 L302.1 310.33 L302.7 310.24 L303.3 310.12 L303.9 309.97 L304.5 309.78 L305.1 309.54 L305.7 309.24 L306.3 308.87 L306.9 308.43 L307.5 307.89 L308.1 307.24 L308.7 306.48 L309.3 305.58 L309.9 304.54 L310.5 303.34 L311.1 301.98 L311.7 300.44 L312.3 298.73 L312.9 296.85 L313.5 294.79 L314.1 292.58 L314.7 290.23 L315.3 287.77 L315.9 285.21 L316.5 282.6 L317.1 279.98 L317.7 277.39 L318.3 274.87 L318.9 272.48 L319.5 270.27 L320.1 268.28 L320.7 266.55 L321.3 265.14 L321.9 264.06 L322.5 263.35 L323.1 263.02 L323.7 263.09 L324.3 263.54 L324.9 264.38 L325.5 265.57 L326.1 267.1 L326.7 268.91 L327.3 270.99 L327.9 273.26 L328.5 275.7 L329.1 278.25 L329.7 280.85 L330.3 283.48 L330.9 286.07 L331.5 288.6 L332.1 291.03 L332.7 293.34 L333.3 295.5 L333.9 297.49 L334.5 299.32 L335.1 300.97 L335.7 302.45 L336.3 303.76 L336.9 304.9 L337.5 305.9 L338.1 306.75 L338.7 307.47 L339.3 308.08 L339.9 308.59 L340.5 309 L341.1 309.35 L341.7 309.62 L342.3 309.84 L342.9 310.02 L343.5 310.16 L344.1 310.27 L344.7 310.35 L345.3 310.42 L345.9 310.46 L346.5 310.5 L347.1 310.53 L347.7 310.55 L348.3 310.56 L348.9 310.57 L349.5 310.58 L350.1 310.59 L350.7 310.59 L351.3 310.59 L351.9 310.6 L352.5 310.6 L353.1 310.6 L353.7 310.6 L354.3 310.6 L354.9 310.6 L355.5 310.6 L356.1 310.6 L356.7 310.6 L357.3 310.6 L357.9 310.6 L358.5 310.6 L359.1 310.6 L359.7 310.6 L360.3 310.6 L360.9 310.6 L361.5 310.6 L362.1 310.6 L362.7 310.6 L363.3 310.6 L363.9 310.6 L364.5 310.6 L365.1 310.6 L365.7 310.6" stroke="#2020f0" stroke-width="1.3" fill="none" />
<path d="M241.5 377.6 L242.1 377.6 L242.7 377.6 L243.3 377.6 L243.9 377.6 L244.5 377.6 L245.1 377.6 L245.7 377.6 L246.3 377.6 L246.9 377.6 L247.5 377.6 L248.1 377.6 L248.7 377.6 L249.3 377.6 L249.9 377.6 L250.5 377.6 L251.1 377.6 L251.7 377.6 L252.3 377.6 L252.9 377.6 L253.5 377.6 L254.1 377.6 L254.7 377.6 L255.3 377.6 L255.9 377.6 L256.5 377.6 L257.1 377.6 L257.7 377.6 L258.3 377.6 L258.9 377.6 L259.5 377.6 L260.1 377.6 L260.7 377.6 L261.3 377.6 L261.9 377.6 L262.5 377.6 L263.1 377.6 L263.7 377.6 L264.3 377.6 L264.9 377.6 L265.5 377.6 L266.1 377.6 L266.7 377.6 L267.3 377.6 L267.9 377.6 L268.5 377.6 L269.1 377.6 L269.7 377.6 L270.3 377.6 L270.9 377.6 L271.5 377.6 L272.1 377.6 L272.7 377.6 L273.3 377.6 L273.9 377.6 L274.5 377.59 L275.1 377.59 L275.7 377.59 L276.3 377.58 L276.9 377.57 L277.5 377.56 L278.1 377.55 L278.7 377.53 L279.3 377.5 L279.9 377.46 L280.5 377.41 L281.1 377.35 L281.7 377.27 L282.3 377.16 L282.9 377.02 L283.5 376.85 L284.1 376.63 L284.7 376.36 L285.3 376.02 L285.9 375.62 L286.5 375.12 L287.1 374.53 L287.7 373.83 L288.3 373.01 L288.9 372.06 L289.5 370.97 L290.1 369.72 L290.7 368.32 L291.3 366.75 L291.9 365.03 L292.5 363.15 L293.1 361.14 L293.7 358.99 L294.3 356.73 L294.9 354.4 L295.5 352.02 L296.1 349.62 L296.7 347.25 L297.3 344.95 L297.9 342.77 L298.5 340.74 L299.1 338.92 L299.7 337.35 L300.3 336.05 L300.9 335.07 L301.5 334.42 L302.1 334.12 L302.7 334.18 L303.3 334.6 L303.9 335.36 L304.5 336.45 L305.1 337.84 L305.7 339.51 L306.3 341.4 L306.9 343.48 L307.5 345.71 L308.1 348.03 L308.7 350.42 L309.3 352.81 L309.9 355.18 L310.5 357.5 L311.1 359.72 L311.7 361.82 L312.3 363.8 L312.9 365.62 L313.5 367.29 L314.1 368.8 L314.7 370.15 L315.3 371.35 L315.9 372.39 L316.5 373.3 L317.1 374.08 L317.7 374.74 L318.3 375.3 L318.9 375.76 L319.5 376.14 L320.1 376.45 L320.7 376.71 L321.3 376.91 L321.9 377.07 L322.5 377.2 L323.1 377.3 L323.7 377.37 L324.3 377.43 L324.9 377.48 L325.5 377.51 L326.1 377.53 L326.7 377.55 L327.3 377.57 L327.9 377.58 L328.5 377.58 L329.1 377.59 L329.7 377.59 L330.3 377.59 L330.9 377.6 L331.5 377.6 L332.1 377.6 L332.7 377.6 L333.3 377.6 L333.9 377.6 L334.5 377.6 L335.1 377.6 L335.7 377.6 L336.3 377.6 L336.9 377.6 L337.5 377.6 L338.1 377.6 L338.7 377.6 L339.3 377.6 L339.9 377.6 L340.5 377.6 L341.1 377.6 L341.7 377.6 L342.3 377.6 L342.9 377.6 L343.5 377.6 L344.1 377.6 L344.7 377.6 L345.3 377.6 L345.9 377.6 L346.5 377.6 L347.1 377.6 L347.7 377.6 L348.3 377.6 L348.9 377.6 L349.5 377.6 L350.1 377.6 L350.7 377.6 L351.3 377.6 L351.9 377.6 L352.5 377.6 L353.1 377.6 L353.7 377.6 L354.3 377.6 L354.9 377.6 L355.5 377.6 L356.1 377.6 L356.7 377.6 L357.3 377.6 L357.9 377.6 L358.5 377.6 L359.1 377.6 L359.7 377.6 L360.3 377.6 L360.9 377.6 L361.5 377.6 L362.1 377.6 L362.7 377.6 L363.3 377.6 L363.9 377.6 L364.5 377.6 L365.1 377.6 L365.7 377.6 L365.7 377.6 L241.5 377.6 Z" stroke="none" stroke-width="1" fill="#e8a8a0" fill-opacity="0.55"/>
<path d="M241.5 377.6 L242.1 377.6 L242.7 377.6 L243.3 377.6 L243.9 377.6 L244.5 377.6 L245.1 377.6 L245.7 377.6 L246.3 377.6 L246.9 377.6 L247.5 377.6 L248.1 377.6 L248.7 377.6 L249.3 377.6 L249.9 377.6 L250.5 377.6 L251.1 377.6 L251.7 377.6 L252.3 377.6 L252.9 377.6 L253.5 377.6 L254.1 377.6 L254.7 377.6 L255.3 377.6 L255.9 377.6 L256.5 377.6 L257.1 377.6 L257.7 377.6 L258.3 377.6 L258.9 377.6 L259.5 377.6 L260.1 377.6 L260.7 377.6 L261.3 377.6 L261.9 377.6 L262.5 377.6 L263.1 377.6 L263.7 377.6 L264.3 377.6 L264.9 377.6 L265.5 377.6 L266.1 377.6 L266.7 377.6 L267.3 377.6 L267.9 377.6 L268.5 377.6 L269.1 377.6 L269.7 377.6 L270.3 377.6 L270.9 377.6 L271.5 377.6 L272.1 377.6 L272.7 377.6 L273.3 377.6 L273.9 377.6 L274.5 377.6 L275.1 377.6 L275.7 377.6 L276.3 377.6 L276.9 377.6 L277.5 377.6 L278.1 377.6 L278.7 377.6 L279.3 377.6 L279.9 377.6 L280.5 377.6 L281.1 377.6 L281.7 377.6 L282.3 377.6 L282.9 377.6 L283.5 377.6 L284.1 377.6 L284.7 377.6 L285.3 377.6 L285.9 377.6 L286.5 377.6 L287.1 377.6 L287.7 377.6 L288.3 377.6 L288.9 377.6 L289.5 377.6 L290.1 377.6 L290.7 377.6 L291.3 377.6 L291.9 377.6 L292.5 377.6 L293.1 377.6 L293.7 377.6 L294.3 377.6 L294.9 377.6 L295.5 377.6 L296.1 377.59 L296.7 377.59 L297.3 377.58 L297.9 377.58 L298.5 377.57 L299.1 377.56 L299.7 377.54 L300.3 377.52 L300.9 377.48 L301.5 377.44 L302.1 377.38 L302.7 377.31 L303.3 377.21 L303.9 377.09 L304.5 376.93 L305.1 376.73 L305.7 376.48 L306.3 376.17 L306.9 375.79 L307.5 375.33 L308.1 374.77 L308.7 374.1 L309.3 373.3 L309.9 372.37 L310.5 371.3 L311.1 370.06 L311.7 368.66 L312.3 367.08 L312.9 365.33 L313.5 363.4 L314.1 361.3 L314.7 359.05 L315.3 356.66 L315.9 354.15 L316.5 351.56 L317.1 348.93 L317.7 346.29 L318.3 343.68 L318.9 341.16 L319.5 338.78 L320.1 336.58 L320.7 334.61 L321.3 332.92 L321.9 331.55 L322.5 330.52 L323.1 329.87 L323.7 329.61 L324.3 329.74 L324.9 330.26 L325.5 331.17 L326.1 332.43 L326.7 334.02 L327.3 335.9 L327.9 338.02 L328.5 340.35 L329.1 342.83 L329.7 345.41 L330.3 348.05 L330.9 350.69 L331.5 353.3 L332.1 355.83 L332.7 358.26 L333.3 360.56 L333.9 362.72 L334.5 364.7 L335.1 366.52 L335.7 368.15 L336.3 369.61 L336.9 370.9 L337.5 372.03 L338.1 373.01 L338.7 373.85 L339.3 374.55 L339.9 375.15 L340.5 375.65 L341.1 376.05 L341.7 376.39 L342.3 376.66 L342.9 376.87 L343.5 377.04 L344.1 377.18 L344.7 377.28 L345.3 377.36 L345.9 377.42 L346.5 377.47 L347.1 377.51 L347.7 377.53 L348.3 377.55 L348.9 377.57 L349.5 377.58 L350.1 377.58 L350.7 377.59 L351.3 377.59 L351.9 377.59 L352.5 377.6 L353.1 377.6 L353.7 377.6 L354.3 377.6 L354.9 377.6 L355.5 377.6 L356.1 377.6 L356.7 377.6 L357.3 377.6 L357.9 377.6 L358.5 377.6 L359.1 377.6 L359.7 377.6 L360.3 377.6 L360.9 377.6 L361.5 377.6 L362.1 377.6 L362.7 377.6 L363.3 377.6 L363.9 377.6 L364.5 377.6 L365.1 377.6 L365.7 377.6 L365.7 377.6 L241.5 377.6 Z" stroke="none" stroke-width="1" fill="#9cb0f0" fill-opacity="0.5"/>
<path d="M241.5 377.6 L242.1 377.6 L242.7 377.6 L243.3 377.6 L243.9 377.6 L244.5 377.6 L245.1 377.6 L245.7 377.6 L246.3 377.6 L246.9 377.6 L247.5 377.6 L248.1 377.6 L248.7 377.6 L249.3 377.6 L249.9 377.6 L250.5 377.6 L251.1 377.6 L251.7 377.6 L252.3 377.6 L252.9 377.6 L253.5 377.6 L254.1 377.6 L254.7 377.6 L255.3 377.6 L255.9 377.6 L256.5 377.6 L257.1 377.6 L257.7 377.6 L258.3 377.6 L258.9 377.6 L259.5 377.6 L260.1 377.6 L260.7 377.6 L261.3 377.6 L261.9 377.6 L262.5 377.6 L263.1 377.6 L263.7 377.6 L264.3 377.6 L264.9 377.59 L265.5 377.59 L266.1 377.59 L266.7 377.59 L267.3 377.59 L267.9 377.58 L268.5 377.58 L269.1 377.58 L269.7 377.57 L270.3 377.57 L270.9 377.56 L271.5 377.55 L272.1 377.54 L272.7 377.53 L273.3 377.52 L273.9 377.51 L274.5 377.49 L275.1 377.47 L275.7 377.45 L276.3 377.43 L276.9 377.4 L277.5 377.37 L278.1 377.33 L278.7 377.29 L279.3 377.24 L279.9 377.19 L280.5 377.13 L281.1 377.07 L281.7 376.99 L282.3 376.91 L282.9 376.81 L283.5 376.71 L284.1 376.6 L284.7 376.47 L285.3 376.33 L285.9 376.18 L286.5 376.02 L287.1 375.83 L287.7 375.64 L288.3 375.42 L288.9 375.19 L289.5 374.94 L290.1 374.68 L290.7 374.39 L291.3 374.08 L291.9 373.76 L292.5 373.42 L293.1 373.05 L293.7 372.67 L294.3 372.27 L294.9 371.85 L295.5 371.41 L296.1 370.96 L296.7 370.49 L297.3 370 L297.9 369.5 L298.5 369 L299.1 368.48 L299.7 367.96 L300.3 367.43 L300.9 366.9 L301.5 366.37 L302.1 365.84 L302.7 365.32 L303.3 364.81 L303.9 364.31 L304.5 363.82 L305.1 363.36 L305.7 362.91 L306.3 362.49 L306.9 362.09 L307.5 361.73 L308.1 361.39 L308.7 361.09 L309.3 360.83 L309.9 360.6 L310.5 360.42 L311.1 360.27 L311.7 360.17 L312.3 360.12 L312.9 360.1 L313.5 360.13 L314.1 360.2 L314.7 360.32 L315.3 360.48 L315.9 360.67 L316.5 360.91 L317.1 361.19 L317.7 361.5 L318.3 361.84 L318.9 362.22 L319.5 362.63 L320.1 363.06 L320.7 363.51 L321.3 363.98 L321.9 364.47 L322.5 364.98 L323.1 365.49 L323.7 366.02 L324.3 366.54 L324.9 367.07 L325.5 367.6 L326.1 368.13 L326.7 368.65 L327.3 369.17 L327.9 369.67 L328.5 370.16 L329.1 370.64 L329.7 371.11 L330.3 371.56 L330.9 371.99 L331.5 372.4 L332.1 372.8 L332.7 373.18 L333.3 373.53 L333.9 373.87 L334.5 374.19 L335.1 374.49 L335.7 374.77 L336.3 375.03 L336.9 375.27 L337.5 375.5 L338.1 375.7 L338.7 375.9 L339.3 376.07 L339.9 376.23 L340.5 376.38 L341.1 376.52 L341.7 376.64 L342.3 376.75 L342.9 376.85 L343.5 376.94 L344.1 377.02 L344.7 377.09 L345.3 377.15 L345.9 377.21 L346.5 377.26 L347.1 377.31 L347.7 377.35 L348.3 377.38 L348.9 377.41 L349.5 377.44 L350.1 377.46 L350.7 377.48 L351.3 377.5 L351.9 377.51 L352.5 377.53 L353.1 377.54 L353.7 377.55 L354.3 377.56 L354.9 377.56 L355.5 377.57 L356.1 377.57 L356.7 377.58 L357.3 377.58 L357.9 377.59 L358.5 377.59 L359.1 377.59 L359.7 377.59 L360.3 377.59 L360.9 377.59 L361.5 377.6 L362.1 377.6 L362.7 377.6 L363.3 377.6 L363.9 377.6 L364.5 377.6 L365.1 377.6 L365.7 377.6 L365.7 377.6 L241.5 377.6 Z" stroke="none" stroke-width="1" fill="#f0c080" fill-opacity="0.45"/>
<path d="M241.5 377.6 L242.1 377.59 L242.7 377.59 L243.3 377.59 L243.9 377.59 L244.5 377.58 L245.1 377.58 L245.7 377.57 L246.3 377.57 L246.9 377.56 L247.5 377.55 L248.1 377.53 L248.7 377.52 L249.3 377.5 L249.9 377.47 L250.5 377.45 L251.1 377.41 L251.7 377.38 L252.3 377.33 L252.9 377.28 L253.5 377.22 L254.1 377.15 L254.7 377.07 L255.3 376.98 L255.9 376.88 L256.5 376.77 L257.1 376.65 L257.7 376.52 L258.3 376.37 L258.9 376.21 L259.5 376.04 L260.1 375.86 L260.7 375.67 L261.3 375.47 L261.9 375.26 L262.5 375.05 L263.1 374.83 L263.7 374.62 L264.3 374.4 L264.9 374.18 L265.5 373.98 L266.1 373.78 L266.7 373.59 L267.3 373.42 L267.9 373.26 L268.5 373.13 L269.1 373.01 L269.7 372.92 L270.3 372.85 L270.9 372.81 L271.5 372.8 L272.1 372.81 L272.7 372.85 L273.3 372.92 L273.9 373.01 L274.5 373.13 L275.1 373.26 L275.7 373.42 L276.3 373.59 L276.9 373.78 L277.5 373.98 L278.1 374.18 L278.7 374.4 L279.3 374.62 L279.9 374.83 L280.5 375.05 L281.1 375.26 L281.7 375.47 L282.3 375.67 L282.9 375.86 L283.5 376.04 L284.1 376.21 L284.7 376.37 L285.3 376.52 L285.9 376.65 L286.5 376.77 L287.1 376.88 L287.7 376.98 L288.3 377.07 L288.9 377.15 L289.5 377.22 L290.1 377.28 L290.7 377.33 L291.3 377.38 L291.9 377.41 L292.5 377.45 L293.1 377.47 L293.7 377.5 L294.3 377.52 L294.9 377.53 L295.5 377.55 L296.1 377.56 L296.7 377.57 L297.3 377.57 L297.9 377.58 L298.5 377.58 L299.1 377.59 L299.7 377.59 L300.3 377.59 L300.9 377.59 L301.5 377.6 L302.1 377.6 L302.7 377.6 L303.3 377.6 L303.9 377.6 L304.5 377.6 L305.1 377.6 L305.7 377.6 L306.3 377.6 L306.9 377.6 L307.5 377.6 L308.1 377.6 L308.7 377.6 L309.3 377.6 L309.9 377.6 L310.5 377.6 L311.1 377.6 L311.7 377.6 L312.3 377.6 L312.9 377.6 L313.5 377.6 L314.1 377.6 L314.7 377.6 L315.3 377.6 L315.9 377.6 L316.5 377.6 L317.1 377.6 L317.7 377.6 L318.3 377.6 L318.9 377.6 L319.5 377.6 L320.1 377.6 L320.7 377.6 L321.3 377.6 L321.9 377.6 L322.5 377.6 L323.1 377.6 L323.7 377.6 L324.3 377.6 L324.9 377.6 L325.5 377.6 L326.1 377.6 L326.7 377.6 L327.3 377.6 L327.9 377.6 L328.5 377.6 L329.1 377.6 L329.7 377.6 L330.3 377.6 L330.9 377.6 L331.5 377.6 L332.1 377.6 L332.7 377.6 L333.3 377.6 L333.9 377.6 L334.5 377.6 L335.1 377.6 L335.7 377.6 L336.3 377.6 L336.9 377.6 L337.5 377.6 L338.1 377.6 L338.7 377.6 L339.3 377.6 L339.9 377.6 L340.5 377.6 L341.1 377.6 L341.7 377.6 L342.3 377.6 L342.9 377.6 L343.5 377.6 L344.1 377.6 L344.7 377.6 L345.3 377.6 L345.9 377.6 L346.5 377.6 L347.1 377.6 L347.7 377.6 L348.3 377.6 L348.9 377.6 L349.5 377.6 L350.1 377.6 L350.7 377.6 L351.3 377.6 L351.9 377.6 L352.5 377.6 L353.1 377.6 L353.7 377.6 L354.3 377.6 L354.9 377.6 L355.5 377.6 L356.1 377.6 L356.7 377.6 L357.3 377.6 L357.9 377.6 L358.5 377.6 L359.1 377.6 L359.7 377.6 L360.3 377.6 L360.9 377.6 L361.5 377.6 L362.1 377.6 L362.7 377.6 L363.3 377.6 L363.9 377.6 L364.5 377.6 L365.1 377.6 L365.7 377.6 L365.7 377.6 L241.5 377.6 Z" stroke="none" stroke-width="1" fill="#c090d0" fill-opacity="0.6"/>
<path d="M241.5 377.6 L242.1 377.59 L242.7 377.59 L243.3 377.59 L243.9 377.59 L244.5 377.58 L245.1 377.58 L245.7 377.57 L246.3 377.57 L246.9 377.56 L247.5 377.55 L248.1 377.53 L248.7 377.52 L249.3 377.5 L249.9 377.47 L250.5 377.45 L251.1 377.41 L251.7 377.38 L252.3 377.33 L252.9 377.28 L253.5 377.22 L254.1 377.15 L254.7 377.07 L255.3 376.98 L255.9 376.88 L256.5 376.77 L257.1 376.65 L257.7 376.52 L258.3 376.37 L258.9 376.21 L259.5 376.04 L260.1 375.86 L260.7 375.67 L261.3 375.47 L261.9 375.26 L262.5 375.05 L263.1 374.83 L263.7 374.61 L264.3 374.39 L264.9 374.18 L265.5 373.97 L266.1 373.77 L266.7 373.58 L267.3 373.4 L267.9 373.25 L268.5 373.11 L269.1 372.99 L269.7 372.89 L270.3 372.82 L270.9 372.77 L271.5 372.75 L272.1 372.76 L272.7 372.79 L273.3 372.84 L273.9 372.92 L274.5 373.01 L275.1 373.13 L275.7 373.26 L276.3 373.4 L276.9 373.55 L277.5 373.71 L278.1 373.86 L278.7 374.02 L279.3 374.16 L279.9 374.29 L280.5 374.4 L281.1 374.48 L281.7 374.53 L282.3 374.54 L282.9 374.5 L283.5 374.4 L284.1 374.24 L284.7 374 L285.3 373.67 L285.9 373.25 L286.5 372.71 L287.1 372.05 L287.7 371.25 L288.3 370.31 L288.9 369.2 L289.5 367.93 L290.1 366.47 L290.7 364.84 L291.3 363.01 L291.9 361 L292.5 358.82 L293.1 356.46 L293.7 353.95 L294.3 351.32 L294.9 348.58 L295.5 345.77 L296.1 342.92 L296.7 340.09 L297.3 337.31 L297.9 334.63 L298.5 332.09 L299.1 329.75 L299.7 327.63 L300.3 325.79 L300.9 324.24 L301.5 323.02 L302.1 322.14 L302.7 321.61 L303.3 321.42 L303.9 321.56 L304.5 322.01 L305.1 322.73 L305.7 323.7 L306.3 324.86 L306.9 326.16 L307.5 327.56 L308.1 328.99 L308.7 330.4 L309.3 331.74 L309.9 332.96 L310.5 334.01 L311.1 334.85 L311.7 335.46 L312.3 335.79 L312.9 335.85 L313.5 335.62 L314.1 335.1 L314.7 334.32 L315.3 333.28 L315.9 332.02 L316.5 330.58 L317.1 329 L317.7 327.33 L318.3 325.62 L318.9 323.94 L319.5 322.35 L320.1 320.89 L320.7 319.63 L321.3 318.62 L321.9 317.89 L322.5 317.5 L323.1 317.46 L323.7 317.79 L324.3 318.51 L324.9 319.61 L325.5 321.08 L326.1 322.89 L326.7 325.02 L327.3 327.43 L327.9 330.07 L328.5 332.9 L329.1 335.86 L329.7 338.91 L330.3 342 L330.9 345.07 L331.5 348.1 L332.1 351.03 L332.7 353.84 L333.3 356.5 L333.9 358.99 L334.5 361.29 L335.1 363.4 L335.7 365.32 L336.3 367.04 L336.9 368.58 L337.5 369.93 L338.1 371.11 L338.7 372.14 L339.3 373.03 L339.9 373.78 L340.5 374.43 L341.1 374.97 L341.7 375.42 L342.3 375.8 L342.9 376.12 L343.5 376.38 L344.1 376.59 L344.7 376.77 L345.3 376.91 L345.9 377.03 L346.5 377.13 L347.1 377.21 L347.7 377.28 L348.3 377.33 L348.9 377.38 L349.5 377.41 L350.1 377.44 L350.7 377.47 L351.3 377.49 L351.9 377.51 L352.5 377.52 L353.1 377.54 L353.7 377.55 L354.3 377.55 L354.9 377.56 L355.5 377.57 L356.1 377.57 L356.7 377.58 L357.3 377.58 L357.9 377.58 L358.5 377.59 L359.1 377.59 L359.7 377.59 L360.3 377.59 L360.9 377.59 L361.5 377.6 L362.1 377.6 L362.7 377.6 L363.3 377.6 L363.9 377.6 L364.5 377.6 L365.1 377.6 L365.7 377.6" stroke="#707070" stroke-width="1.1" fill="none" />
<path d="M241.5 377.6 L242.1 377.6 L242.7 377.6 L243.3 377.6 L243.9 377.6 L244.5 377.6 L245.1 377.6 L245.7 377.6 L246.3 377.6 L246.9 377.6 L247.5 377.6 L248.1 377.6 L248.7 377.6 L249.3 377.6 L249.9 377.6 L250.5 377.6 L251.1 377.6 L251.7 377.6 L252.3 377.6 L252.9 377.6 L253.5 377.6 L254.1 377.6 L254.7 377.6 L255.3 377.6 L255.9 377.6 L256.5 377.6 L257.1 377.6 L257.7 377.6 L258.3 377.6 L258.9 377.6 L259.5 377.6 L260.1 377.6 L260.7 377.6 L261.3 377.6 L261.9 377.6 L262.5 377.6 L263.1 377.6 L263.7 377.6 L264.3 377.6 L264.9 377.6 L265.5 377.6 L266.1 377.6 L266.7 377.6 L267.3 377.6 L267.9 377.6 L268.5 377.6 L269.1 377.6 L269.7 377.6 L270.3 377.6 L270.9 377.6 L271.5 377.6 L272.1 377.6 L272.7 377.6 L273.3 377.6 L273.9 377.6 L274.5 377.59 L275.1 377.59 L275.7 377.59 L276.3 377.58 L276.9 377.57 L277.5 377.56 L278.1 377.55 L278.7 377.53 L279.3 377.5 L279.9 377.46 L280.5 377.41 L281.1 377.35 L281.7 377.27 L282.3 377.16 L282.9 377.02 L283.5 376.85 L284.1 376.63 L284.7 376.36 L285.3 376.02 L285.9 375.62 L286.5 375.12 L287.1 374.53 L287.7 373.83 L288.3 373.01 L288.9 372.06 L289.5 370.97 L290.1 369.72 L290.7 368.32 L291.3 366.75 L291.9 365.03 L292.5 363.15 L293.1 361.14 L293.7 358.99 L294.3 356.73 L294.9 354.4 L295.5 352.02 L296.1 349.62 L296.7 347.25 L297.3 344.95 L297.9 342.77 L298.5 340.74 L299.1 338.92 L299.7 337.35 L300.3 336.05 L300.9 335.07 L301.5 334.42 L302.1 334.12 L302.7 334.18 L303.3 334.6 L303.9 335.36 L304.5 336.45 L305.1 337.84 L305.7 339.51 L306.3 341.4 L306.9 343.48 L307.5 345.71 L308.1 348.03 L308.7 350.42 L309.3 352.81 L309.9 355.18 L310.5 357.5 L311.1 359.72 L311.7 361.82 L312.3 363.8 L312.9 365.62 L313.5 367.29 L314.1 368.8 L314.7 370.15 L315.3 371.35 L315.9 372.39 L316.5 373.3 L317.1 374.08 L317.7 374.74 L318.3 375.3 L318.9 375.76 L319.5 376.14 L320.1 376.45 L320.7 376.71 L321.3 376.91 L321.9 377.07 L322.5 377.2 L323.1 377.3 L323.7 377.37 L324.3 377.43 L324.9 377.48 L325.5 377.51 L326.1 377.53 L326.7 377.55 L327.3 377.57 L327.9 377.58 L328.5 377.58 L329.1 377.59 L329.7 377.59 L330.3 377.59 L330.9 377.6 L331.5 377.6 L332.1 377.6 L332.7 377.6 L333.3 377.6 L333.9 377.6 L334.5 377.6 L335.1 377.6 L335.7 377.6 L336.3 377.6 L336.9 377.6 L337.5 377.6 L338.1 377.6 L338.7 377.6 L339.3 377.6 L339.9 377.6 L340.5 377.6 L341.1 377.6 L341.7 377.6 L342.3 377.6 L342.9 377.6 L343.5 377.6 L344.1 377.6 L344.7 377.6 L345.3 377.6 L345.9 377.6 L346.5 377.6 L347.1 377.6 L347.7 377.6 L348.3 377.6 L348.9 377.6 L349.5 377.6 L350.1 377.6 L350.7 377.6 L351.3 377.6 L351.9 377.6 L352.5 377.6 L353.1 377.6 L353.7 377.6 L354.3 377.6 L354.9 377.6 L355.5 377.6 L356.1 377.6 L356.7 377.6 L357.3 377.6 L357.9 377.6 L358.5 377.6 L359.1 377.6 L359.7 377.6 L360.3 377.6 L360.9 377.6 L361.5 377.6 L362.1 377.6 L362.7 377.6 L363.3 377.6 L363.9 377.6 L364.5 377.6 L365.1 377.6 L365.7 377.6" stroke="#f02020" stroke-width="1.3" fill="none" />
<path d="M241.5 377.6 L242.1 377.6 L242.7 377.6 L243.3 377.6 L243.9 377.6 L244.5 377.6 L245.1 377.6 L245.7 377.6 L246.3 377.6 L246.9 377.6 L247.5 377.6 L248.1 377.6 L248.7 377.6 L249.3 377.6 L249.9 377.6 L250.5 377.6 L251.1 377.6 L251.7 377.6 L252.3 377.6 L252.9 377.6 L253.5 377.6 L254.1 377.6 L254.7 377.6 L255.3 377.6 L255.9 377.6 L256.5 377.6 L257.1 377.6 L257.7 377.6 L258.3 377.6 L258.9 377.6 L259.5 377.6 L260.1 377.6 L260.7 377.6 L261.3 377.6 L261.9 377.6 L262.5 377.6 L263.1 377.6 L263.7 377.6 L264.3 377.6 L264.9 377.6 L265.5 377.6 L266.1 377.6 L266.7 377.6 L267.3 377.6 L267.9 377.6 L268.5 377.6 L269.1 377.6 L269.7 377.6 L270.3 377.6 L270.9 377.6 L271.5 377.6 L272.1 377.6 L272.7 377.6 L273.3 377.6 L273.9 377.6 L274.5 377.6 L275.1 377.6 L275.7 377.6 L276.3 377.6 L276.9 377.6 L277.5 377.6 L278.1 377.6 L278.7 377.6 L279.3 377.6 L279.9 377.6 L280.5 377.6 L281.1 377.6 L281.7 377.6 L282.3 377.6 L282.9 377.6 L283.5 377.6 L284.1 377.6 L284.7 377.6 L285.3 377.6 L285.9 377.6 L286.5 377.6 L287.1 377.6 L287.7 377.6 L288.3 377.6 L288.9 377.6 L289.5 377.6 L290.1 377.6 L290.7 377.6 L291.3 377.6 L291.9 377.6 L292.5 377.6 L293.1 377.6 L293.7 377.6 L294.3 377.6 L294.9 377.6 L295.5 377.6 L296.1 377.59 L296.7 377.59 L297.3 377.58 L297.9 377.58 L298.5 377.57 L299.1 377.56 L299.7 377.54 L300.3 377.52 L300.9 377.48 L301.5 377.44 L302.1 377.38 L302.7 377.31 L303.3 377.21 L303.9 377.09 L304.5 376.93 L305.1 376.73 L305.7 376.48 L306.3 376.17 L306.9 375.79 L307.5 375.33 L308.1 374.77 L308.7 374.1 L309.3 373.3 L309.9 372.37 L310.5 371.3 L311.1 370.06 L311.7 368.66 L312.3 367.08 L312.9 365.33 L313.5 363.4 L314.1 361.3 L314.7 359.05 L315.3 356.66 L315.9 354.15 L316.5 351.56 L317.1 348.93 L317.7 346.29 L318.3 343.68 L318.9 341.16 L319.5 338.78 L320.1 336.58 L320.7 334.61 L321.3 332.92 L321.9 331.55 L322.5 330.52 L323.1 329.87 L323.7 329.61 L324.3 329.74 L324.9 330.26 L325.5 331.17 L326.1 332.43 L326.7 334.02 L327.3 335.9 L327.9 338.02 L328.5 340.35 L329.1 342.83 L329.7 345.41 L330.3 348.05 L330.9 350.69 L331.5 353.3 L332.1 355.83 L332.7 358.26 L333.3 360.56 L333.9 362.72 L334.5 364.7 L335.1 366.52 L335.7 368.15 L336.3 369.61 L336.9 370.9 L337.5 372.03 L338.1 373.01 L338.7 373.85 L339.3 374.55 L339.9 375.15 L340.5 375.65 L341.1 376.05 L341.7 376.39 L342.3 376.66 L342.9 376.87 L343.5 377.04 L344.1 377.18 L344.7 377.28 L345.3 377.36 L345.9 377.42 L346.5 377.47 L347.1 377.51 L347.7 377.53 L348.3 377.55 L348.9 377.57 L349.5 377.58 L350.1 377.58 L350.7 377.59 L351.3 377.59 L351.9 377.59 L352.5 377.6 L353.1 377.6 L353.7 377.6 L354.3 377.6 L354.9 377.6 L355.5 377.6 L356.1 377.6 L356.7 377.6 L357.3 377.6 L357.9 377.6 L358.5 377.6 L359.1 377.6 L359.7 377.6 L360.3 377.6 L360.9 377.6 L361.5 377.6 L362.1 377.6 L362.7 377.6 L363.3 377.6 L363.9 377.6 L364.5 377.6 L365.1 377.6 L365.7 377.6" stroke="#2020f0" stroke-width="1.3" fill="none" />
<path d="M241.5 377.6 L242.1 377.6 L242.7 377.6 L243.3 377.6 L243.9 377.6 L244.5 377.6 L245.1 377.6 L245.7 377.6 L246.3 377.6 L246.9 377.6 L247.5 377.6 L248.1 377.6 L248.7 377.6 L249.3 377.6 L249.9 377.6 L250.5 377.6 L251.1 377.6 L251.7 377.6 L252.3 377.6 L252.9 377.6 L253.5 377.6 L254.1 377.6 L254.7 377.6 L255.3 377.6 L255.9 377.6 L256.5 377.6 L257.1 377.6 L257.7 377.6 L258.3 377.6 L258.9 377.6 L259.5 377.6 L260.1 377.6 L260.7 377.6 L261.3 377.6 L261.9 377.6 L262.5 377.6 L263.1 377.6 L263.7 377.6 L264.3 377.6 L264.9 377.59 L265.5 377.59 L266.1 377.59 L266.7 377.59 L267.3 377.59 L267.9 377.58 L268.5 377.58 L269.1 377.58 L269.7 377.57 L270.3 377.57 L270.9 377.56 L271.5 377.55 L272.1 377.54 L272.7 377.53 L273.3 377.52 L273.9 377.51 L274.5 377.49 L275.1 377.47 L275.7 377.45 L276.3 377.43 L276.9 377.4 L277.5 377.37 L278.1 377.33 L278.7 377.29 L279.3 377.24 L279.9 377.19 L280.5 377.13 L281.1 377.07 L281.7 376.99 L282.3 376.91 L282.9 376.81 L283.5 376.71 L284.1 376.6 L284.7 376.47 L285.3 376.33 L285.9 376.18 L286.5 376.02 L287.1 375.83 L287.7 375.64 L288.3 375.42 L288.9 375.19 L289.5 374.94 L290.1 374.68 L290.7 374.39 L291.3 374.08 L291.9 373.76 L292.5 373.42 L293.1 373.05 L293.7 372.67 L294.3 372.27 L294.9 371.85 L295.5 371.41 L296.1 370.96 L296.7 370.49 L297.3 370 L297.9 369.5 L298.5 369 L299.1 368.48 L299.7 367.96 L300.3 367.43 L300.9 366.9 L301.5 366.37 L302.1 365.84 L302.7 365.32 L303.3 364.81 L303.9 364.31 L304.5 363.82 L305.1 363.36 L305.7 362.91 L306.3 362.49 L306.9 362.09 L307.5 361.73 L308.1 361.39 L308.7 361.09 L309.3 360.83 L309.9 360.6 L310.5 360.42 L311.1 360.27 L311.7 360.17 L312.3 360.12 L312.9 360.1 L313.5 360.13 L314.1 360.2 L314.7 360.32 L315.3 360.48 L315.9 360.67 L316.5 360.91 L317.1 361.19 L317.7 361.5 L318.3 361.84 L318.9 362.22 L319.5 362.63 L320.1 363.06 L320.7 363.51 L321.3 363.98 L321.9 364.47 L322.5 364.98 L323.1 365.49 L323.7 366.02 L324.3 366.54 L324.9 367.07 L325.5 367.6 L326.1 368.13 L326.7 368.65 L327.3 369.17 L327.9 369.67 L328.5 370.16 L329.1 370.64 L329.7 371.11 L330.3 371.56 L330.9 371.99 L331.5 372.4 L332.1 372.8 L332.7 373.18 L333.3 373.53 L333.9 373.87 L334.5 374.19 L335.1 374.49 L335.7 374.77 L336.3 375.03 L336.9 375.27 L337.5 375.5 L338.1 375.7 L338.7 375.9 L339.3 376.07 L339.9 376.23 L340.5 376.38 L341.1 376.52 L341.7 376.64 L342.3 376.75 L342.9 376.85 L343.5 376.94 L344.1 377.02 L344.7 377.09 L345.3 377.15 L345.9 377.21 L346.5 377.26 L347.1 377.31 L347.7 377.35 L348.3 377.38 L348.9 377.41 L349.5 377.44 L350.1 377.46 L350.7 377.48 L351.3 377.5 L351.9 377.51 L352.5 377.53 L353.1 377.54 L353.7 377.55 L354.3 377.56 L354.9 377.56 L355.5 377.57 L356.1 377.57 L356.7 377.58 L357.3 377.58 L357.9 377.59 L358.5 377.59 L359.1 377.59 L359.7 377.59 L360.3 377.59 L360.9 377.59 L361.5 377.6 L362.1 377.6 L362.7 377.6 L363.3 377.6 L363.9 377.6 L364.5 377.6 L365.1 377.6 L365.7 377.6" stroke="#f09020" stroke-width="1.3" fill="none" />
<path d="M241.5 377.6 L242.1 377.59 L242.7 377.59 L243.3 377.59 L243.9 377.59 L244.5 377.58 L245.1 377.58 L245.7 377.57 L246.3 377.57 L246.9 377.56 L247.5 377.55 L248.1 377.53 L248.7 377.52 L249.3 377.5 L249.9 377.47 L250.5 377.45 L251.1 377.41 L251.7 377.38 L252.3 377.33 L252.9 377.28 L253.5 377.22 L254.1 377.15 L254.7 377.07 L255.3 376.98 L255.9 376.88 L256.5 376.77 L257.1 376.65 L257.7 376.52 L258.3 376.37 L258.9 376.21 L259.5 376.04 L260.1 375.86 L260.7 375.67 L261.3 375.47 L261.9 375.26 L262.5 375.05 L263.1 374.83 L263.7 374.62 L264.3 374.4 L264.9 374.18 L265.5 373.98 L266.1 373.78 L266.7 373.59 L267.3 373.42 L267.9 373.26 L268.5 373.13 L269.1 373.01 L269.7 372.92 L270.3 372.85 L270.9 372.81 L271.5 372.8 L272.1 372.81 L272.7 372.85 L273.3 372.92 L273.9 373.01 L274.5 373.13 L275.1 373.26 L275.7 373.42 L276.3 373.59 L276.9 373.78 L277.5 373.98 L278.1 374.18 L278.7 374.4 L279.3 374.62 L279.9 374.83 L280.5 375.05 L281.1 375.26 L281.7 375.47 L282.3 375.67 L282.9 375.86 L283.5 376.04 L284.1 376.21 L284.7 376.37 L285.3 376.52 L285.9 376.65 L286.5 376.77 L287.1 376.88 L287.7 376.98 L288.3 377.07 L288.9 377.15 L289.5 377.22 L290.1 377.28 L290.7 377.33 L291.3 377.38 L291.9 377.41 L292.5 377.45 L293.1 377.47 L293.7 377.5 L294.3 377.52 L294.9 377.53 L295.5 377.55 L296.1 377.56 L296.7 377.57 L297.3 377.57 L297.9 377.58 L298.5 377.58 L299.1 377.59 L299.7 377.59 L300.3 377.59 L300.9 377.59 L301.5 377.6 L302.1 377.6 L302.7 377.6 L303.3 377.6 L303.9 377.6 L304.5 377.6 L305.1 377.6 L305.7 377.6 L306.3 377.6 L306.9 377.6 L307.5 377.6 L308.1 377.6 L308.7 377.6 L309.3 377.6 L309.9 377.6 L310.5 377.6 L311.1 377.6 L311.7 377.6 L312.3 377.6 L312.9 377.6 L313.5 377.6 L314.1 377.6 L314.7 377.6 L315.3 377.6 L315.9 377.6 L316.5 377.6 L317.1 377.6 L317.7 377.6 L318.3 377.6 L318.9 377.6 L319.5 377.6 L320.1 377.6 L320.7 377.6 L321.3 377.6 L321.9 377.6 L322.5 377.6 L323.1 377.6 L323.7 377.6 L324.3 377.6 L324.9 377.6 L325.5 377.6 L326.1 377.6 L326.7 377.6 L327.3 377.6 L327.9 377.6 L328.5 377.6 L329.1 377.6 L329.7 377.6 L330.3 377.6 L330.9 377.6 L331.5 377.6 L332.1 377.6 L332.7 377.6 L333.3 377.6 L333.9 377.6 L334.5 377.6 L335.1 377.6 L335.7 377.6 L336.3 377.6 L336.9 377.6 L337.5 377.6 L338.1 377.6 L338.7 377.6 L339.3 377.6 L339.9 377.6 L340.5 377.6 L341.1 377.6 L341.7 377.6 L342.3 377.6 L342.9 377.6 L343.5 377.6 L344.1 377.6 L344.7 377.6 L345.3 377.6 L345.9 377.6 L346.5 377.6 L347.1 377.6 L347.7 377.6 L348.3 377.6 L348.9 377.6 L349.5 377.6 L350.1 377.6 L350.7 377.6 L351.3 377.6 L351.9 377.6 L352.5 377.6 L353.1 377.6 L353.7 377.6 L354.3 377.6 L354.9 377.6 L355.5 377.6 L356.1 377.6 L356.7 377.6 L357.3 377.6 L357.9 377.6 L358.5 377.6 L359.1 377.6 L359.7 377.6 L360.3 377.6 L360.9 377.6 L361.5 377.6 L362.1 377.6 L362.7 377.6 L363.3 377.6 L363.9 377.6 L364.5 377.6 L365.1 377.6 L365.7 377.6" stroke="#8040a0" stroke-width="1.3" fill="none" />
<text x="277.2" y="281.48" font-size="9.4" text-anchor="start" fill="#111" stroke="#111" stroke-width="0.15" >C-O</text>
<text x="333.6" y="281.48" font-size="9.4" text-anchor="start" fill="#111" stroke="#111" stroke-width="0.15" >C-C</text>
<text x="256" y="304.98" font-size="9.4" text-anchor="start" fill="#111" stroke="#111" stroke-width="0.15" >C-N</text>
<text x="274.2" y="351.48" font-size="9.4" text-anchor="start" fill="#111" stroke="#111" stroke-width="0.15" >C-O</text>
<text x="334.5" y="348.88" font-size="9.4" text-anchor="start" fill="#111" stroke="#111" stroke-width="0.15" >C-C</text>
<text x="254.8" y="371.08" font-size="9.4" text-anchor="start" fill="#111" stroke="#111" stroke-width="0.15" >C-N</text>
<line x1="240.8" y1="250.5" x2="240.8" y2="378.9" stroke="#666" stroke-width="0.9" />
<line x1="240.8" y1="311.9" x2="366.5" y2="311.9" stroke="#666" stroke-width="0.9" />
<line x1="240.8" y1="378.9" x2="366.5" y2="378.9" stroke="#666" stroke-width="0.9" />
<line x1="272.3" y1="311.9" x2="272.3" y2="314.9" stroke="#666" stroke-width="0.8" />
<line x1="272.3" y1="378.9" x2="272.3" y2="381.9" stroke="#666" stroke-width="0.8" />
<line x1="303.6" y1="311.9" x2="303.6" y2="314.9" stroke="#666" stroke-width="0.8" />
<line x1="303.6" y1="378.9" x2="303.6" y2="381.9" stroke="#666" stroke-width="0.8" />
<line x1="335" y1="311.9" x2="335" y2="314.9" stroke="#666" stroke-width="0.8" />
<line x1="335" y1="378.9" x2="335" y2="381.9" stroke="#666" stroke-width="0.8" />
<line x1="366.3" y1="311.9" x2="366.3" y2="314.9" stroke="#666" stroke-width="0.8" />
<line x1="366.3" y1="378.9" x2="366.3" y2="381.9" stroke="#666" stroke-width="0.8" />
<text x="240.6" y="395.33" font-size="9.8" text-anchor="middle" fill="#111" stroke="#111" stroke-width="0.15" >290</text>
<text x="272.1" y="395.33" font-size="9.8" text-anchor="middle" fill="#111" stroke="#111" stroke-width="0.15" >288</text>
<text x="303.4" y="395.33" font-size="9.8" text-anchor="middle" fill="#111" stroke="#111" stroke-width="0.15" >286</text>
<text x="335" y="395.33" font-size="9.8" text-anchor="middle" fill="#111" stroke="#111" stroke-width="0.15" >284</text>
<text x="366.3" y="395.33" font-size="9.8" text-anchor="middle" fill="#111" stroke="#111" stroke-width="0.15" >282</text>
<text x="303.4" y="408.24" font-size="10.1" text-anchor="middle" fill="#111" stroke="#111" stroke-width="0.15" >Binding energy (eV)</text>
<text x="245.2" y="255.9" font-size="9.4" text-anchor="start" fill="#111" stroke="#111" stroke-width="0.15" >M-PG</text>
<text x="245.2" y="327.88" font-size="9.4" text-anchor="start" fill="#111" stroke="#111" stroke-width="0.15" >PG-NS</text>
<text x="456.6" y="244.3" font-size="11.8" text-anchor="middle" fill="#111" stroke="#111" stroke-width="0.15" >S <tspan font-style="italic">2p</tspan></text>
<text transform="translate(383.4 317.3) rotate(-90)" x="0" y="3.82" font-size="10.6" text-anchor="middle" fill="#111" stroke="#111" stroke-width="0.15">Intensity (arb. units)</text>
<path d="M397 310.4 L397.6 310.4 L398.2 310.4 L398.8 310.4 L399.4 310.4 L400 310.4 L400.6 310.4 L401.2 310.4 L401.8 310.4 L402.4 310.4 L403 310.4 L403.6 310.4 L404.2 310.4 L404.8 310.4 L405.4 310.4 L406 310.4 L406.6 310.4 L407.2 310.4 L407.8 310.4 L408.4 310.4 L409 310.4 L409.6 310.4 L410.2 310.4 L410.8 310.4 L411.4 310.4 L412 310.4 L412.6 310.4 L413.2 310.4 L413.8 310.4 L414.4 310.4 L415 310.4 L415.6 310.4 L416.2 310.4 L416.8 310.4 L417.4 310.4 L418 310.4 L418.6 310.4 L419.2 310.4 L419.8 310.4 L420.4 310.4 L421 310.4 L421.6 310.4 L422.2 310.4 L422.8 310.4 L423.4 310.4 L424 310.4 L424.6 310.4 L425.2 310.4 L425.8 310.4 L426.4 310.4 L427 310.4 L427.6 310.4 L428.2 310.4 L428.8 310.4 L429.4 310.4 L430 310.4 L430.6 310.4 L431.2 310.4 L431.8 310.4 L432.4 310.4 L433 310.4 L433.6 310.4 L434.2 310.4 L434.8 310.4 L435.4 310.4 L436 310.4 L436.6 310.4 L437.2 310.4 L437.8 310.4 L438.4 310.4 L439 310.4 L439.6 310.4 L440.2 310.4 L440.8 310.4 L441.4 310.4 L442 310.4 L442.6 310.4 L443.2 310.4 L443.8 310.4 L444.4 310.4 L445 310.4 L445.6 310.39 L446.2 310.39 L446.8 310.39 L447.4 310.38 L448 310.37 L448.6 310.36 L449.2 310.34 L449.8 310.32 L450.4 310.28 L451 310.24 L451.6 310.17 L452.2 310.09 L452.8 309.98 L453.4 309.84 L454 309.66 L454.6 309.42 L455.2 309.13 L455.8 308.76 L456.4 308.31 L457 307.75 L457.6 307.07 L458.2 306.27 L458.8 305.32 L459.4 304.2 L460 302.91 L460.6 301.44 L461.2 299.78 L461.8 297.93 L462.4 295.89 L463 293.67 L463.6 291.3 L464.2 288.79 L464.8 286.19 L465.4 283.52 L466 280.83 L466.6 278.18 L467.2 275.62 L467.8 273.21 L468.4 270.99 L469 269.04 L469.6 267.39 L470.2 266.1 L470.8 265.19 L471.4 264.7 L472 264.62 L472.6 264.98 L473.2 265.75 L473.8 266.92 L474.4 268.46 L475 270.31 L475.6 272.44 L476.2 274.8 L476.8 277.31 L477.4 279.94 L478 282.62 L478.6 285.3 L479.2 287.93 L479.8 290.48 L480.4 292.9 L481 295.17 L481.6 297.27 L482.2 299.18 L482.8 300.91 L483.4 302.44 L484 303.79 L484.6 304.96 L485.2 305.97 L485.8 306.82 L486.4 307.54 L487 308.13 L487.6 308.62 L488.2 309.01 L488.8 309.33 L489.4 309.59 L490 309.78 L490.6 309.94 L491.2 310.06 L491.8 310.15 L492.4 310.22 L493 310.27 L493.6 310.31 L494.2 310.33 L494.8 310.35 L495.4 310.37 L496 310.38 L496.6 310.38 L497.2 310.39 L497.8 310.39 L498.4 310.4 L499 310.4 L499.6 310.4 L500.2 310.4 L500.8 310.4 L501.4 310.4 L502 310.4 L502.6 310.4 L503.2 310.4 L503.8 310.4 L504.4 310.4 L505 310.4 L505.6 310.4 L506.2 310.4 L506.8 310.4 L507.4 310.4 L508 310.4 L508.6 310.4 L509.2 310.4 L509.8 310.4 L510.4 310.4 L511 310.4 L511.6 310.4 L512.2 310.4 L512.8 310.4 L513.4 310.4 L514 310.4 L514.6 310.4 L515.2 310.4 L515.8 310.4 L516.4 310.4 L517 310.4 L517.6 310.4 L518.2 310.4 L518.8 310.4 L519.4 310.4 L520 310.4 L520.6 310.4 L521.2 310.4 L521.8 310.4 L521.8 310.4 L397 310.4 Z" stroke="none" stroke-width="1" fill="#eab0a8" fill-opacity="0.55"/>
<path d="M397 310.4 L397.6 310.4 L398.2 310.4 L398.8 310.4 L399.4 310.4 L400 310.4 L400.6 310.4 L401.2 310.4 L401.8 310.4 L402.4 310.4 L403 310.4 L403.6 310.4 L404.2 310.4 L404.8 310.4 L405.4 310.4 L406 310.4 L406.6 310.4 L407.2 310.4 L407.8 310.4 L408.4 310.4 L409 310.4 L409.6 310.4 L410.2 310.4 L410.8 310.4 L411.4 310.4 L412 310.4 L412.6 310.4 L413.2 310.4 L413.8 310.4 L414.4 310.4 L415 310.4 L415.6 310.4 L416.2 310.4 L416.8 310.4 L417.4 310.4 L418 310.4 L418.6 310.4 L419.2 310.4 L419.8 310.4 L420.4 310.4 L421 310.4 L421.6 310.4 L422.2 310.4 L422.8 310.4 L423.4 310.4 L424 310.4 L424.6 310.4 L425.2 310.4 L425.8 310.4 L426.4 310.4 L427 310.4 L427.6 310.4 L428.2 310.4 L428.8 310.4 L429.4 310.4 L430 310.4 L430.6 310.4 L431.2 310.39 L431.8 310.39 L432.4 310.38 L433 310.37 L433.6 310.36 L434.2 310.34 L434.8 310.32 L435.4 310.28 L436 310.24 L436.6 310.17 L437.2 310.08 L437.8 309.97 L438.4 309.82 L439 309.63 L439.6 309.39 L440.2 309.09 L440.8 308.71 L441.4 308.26 L442 307.71 L442.6 307.06 L443.2 306.3 L443.8 305.43 L444.4 304.43 L445 303.33 L445.6 302.11 L446.2 300.79 L446.8 299.4 L447.4 297.94 L448 296.45 L448.6 294.96 L449.2 293.51 L449.8 292.13 L450.4 290.86 L451 289.75 L451.6 288.82 L452.2 288.11 L452.8 287.63 L453.4 287.41 L454 287.46 L454.6 287.76 L455.2 288.32 L455.8 289.11 L456.4 290.1 L457 291.27 L457.6 292.58 L458.2 293.99 L458.8 295.46 L459.4 296.95 L460 298.43 L460.6 299.87 L461.2 301.24 L461.8 302.53 L462.4 303.71 L463 304.78 L463.6 305.73 L464.2 306.57 L464.8 307.29 L465.4 307.9 L466 308.42 L466.6 308.85 L467.2 309.19 L467.8 309.48 L468.4 309.7 L469 309.88 L469.6 310.01 L470.2 310.12 L470.8 310.19 L471.4 310.25 L472 310.3 L472.6 310.33 L473.2 310.35 L473.8 310.37 L474.4 310.38 L475 310.38 L475.6 310.39 L476.2 310.39 L476.8 310.4 L477.4 310.4 L478 310.4 L478.6 310.4 L479.2 310.4 L479.8 310.4 L480.4 310.4 L481 310.4 L481.6 310.4 L482.2 310.4 L482.8 310.4 L483.4 310.4 L484 310.4 L484.6 310.4 L485.2 310.4 L485.8 310.4 L486.4 310.4 L487 310.4 L487.6 310.4 L488.2 310.4 L488.8 310.4 L489.4 310.4 L490 310.4 L490.6 310.4 L491.2 310.4 L491.8 310.4 L492.4 310.4 L493 310.4 L493.6 310.4 L494.2 310.4 L494.8 310.4 L495.4 310.4 L496 310.4 L496.6 310.4 L497.2 310.4 L497.8 310.4 L498.4 310.4 L499 310.4 L499.6 310.4 L500.2 310.4 L500.8 310.4 L501.4 310.4 L502 310.4 L502.6 310.4 L503.2 310.4 L503.8 310.4 L504.4 310.4 L505 310.4 L505.6 310.4 L506.2 310.4 L506.8 310.4 L507.4 310.4 L508 310.4 L508.6 310.4 L509.2 310.4 L509.8 310.4 L510.4 310.4 L511 310.4 L511.6 310.4 L512.2 310.4 L512.8 310.4 L513.4 310.4 L514 310.4 L514.6 310.4 L515.2 310.4 L515.8 310.4 L516.4 310.4 L517 310.4 L517.6 310.4 L518.2 310.4 L518.8 310.4 L519.4 310.4 L520 310.4 L520.6 310.4 L521.2 310.4 L521.8 310.4 L521.8 310.4 L397 310.4 Z" stroke="none" stroke-width="1" fill="#a8b8f0" fill-opacity="0.55"/>
<path d="M397 309.2 L397.6 309.2 L398.2 309.2 L398.8 309.2 L399.4 309.2 L400 309.2 L400.6 309.2 L401.2 309.2 L401.8 309.2 L402.4 309.2 L403 309.2 L403.6 309.2 L404.2 309.2 L404.8 309.2 L405.4 309.2 L406 309.2 L406.6 309.2 L407.2 309.2 L407.8 309.2 L408.4 309.2 L409 309.2 L409.6 309.2 L410.2 309.2 L410.8 309.2 L411.4 309.2 L412 309.2 L412.6 309.2 L413.2 309.2 L413.8 309.2 L414.4 309.2 L415 309.2 L415.6 309.2 L416.2 309.2 L416.8 309.2 L417.4 309.2 L418 309.2 L418.6 309.2 L419.2 309.2 L419.8 309.2 L420.4 309.2 L421 309.2 L421.6 309.2 L422.2 309.2 L422.8 309.2 L423.4 309.2 L424 309.2 L424.6 309.2 L425.2 309.2 L425.8 309.2 L426.4 309.2 L427 309.2 L427.6 309.2 L428.2 309.2 L428.8 309.2 L429.4 309.2 L430 309.2 L430.6 309.2 L431.2 309.19 L431.8 309.19 L432.4 309.18 L433 309.17 L433.6 309.16 L434.2 309.14 L434.8 309.12 L435.4 309.08 L436 309.04 L436.6 308.97 L437.2 308.88 L437.8 308.77 L438.4 308.62 L439 308.43 L439.6 308.19 L440.2 307.89 L440.8 307.51 L441.4 307.06 L442 306.51 L442.6 305.86 L443.2 305.1 L443.8 304.22 L444.4 303.23 L445 302.12 L445.6 300.9 L446.2 299.58 L446.8 298.18 L447.4 296.72 L448 295.22 L448.6 293.72 L449.2 292.25 L449.8 290.85 L450.4 289.55 L451 288.39 L451.6 287.39 L452.2 286.6 L452.8 286.02 L453.4 285.65 L454 285.52 L454.6 285.59 L455.2 285.85 L455.8 286.27 L456.4 286.81 L457 287.42 L457.6 288.05 L458.2 288.66 L458.8 289.17 L459.4 289.55 L460 289.74 L460.6 289.71 L461.2 289.42 L461.8 288.85 L462.4 288 L463 286.85 L463.6 285.43 L464.2 283.76 L464.8 281.87 L465.4 279.82 L466 277.65 L466.6 275.43 L467.2 273.21 L467.8 271.08 L468.4 269.09 L469 267.32 L469.6 265.81 L470.2 264.62 L470.8 263.79 L471.4 263.35 L472 263.32 L472.6 263.71 L473.2 264.5 L473.8 265.69 L474.4 267.23 L475 269.1 L475.6 271.23 L476.2 273.59 L476.8 276.11 L477.4 278.74 L478 281.42 L478.6 284.1 L479.2 286.73 L479.8 289.28 L480.4 291.7 L481 293.97 L481.6 296.07 L482.2 297.98 L482.8 299.71 L483.4 301.24 L484 302.59 L484.6 303.76 L485.2 304.77 L485.8 305.62 L486.4 306.34 L487 306.93 L487.6 307.42 L488.2 307.81 L488.8 308.13 L489.4 308.39 L490 308.58 L490.6 308.74 L491.2 308.86 L491.8 308.95 L492.4 309.02 L493 309.07 L493.6 309.11 L494.2 309.13 L494.8 309.15 L495.4 309.17 L496 309.18 L496.6 309.18 L497.2 309.19 L497.8 309.19 L498.4 309.2 L499 309.2 L499.6 309.2 L500.2 309.2 L500.8 309.2 L501.4 309.2 L502 309.2 L502.6 309.2 L503.2 309.2 L503.8 309.2 L504.4 309.2 L505 309.2 L505.6 309.2 L506.2 309.2 L506.8 309.2 L507.4 309.2 L508 309.2 L508.6 309.2 L509.2 309.2 L509.8 309.2 L510.4 309.2 L511 309.2 L511.6 309.2 L512.2 309.2 L512.8 309.2 L513.4 309.2 L514 309.2 L514.6 309.2 L515.2 309.2 L515.8 309.2 L516.4 309.2 L517 309.2 L517.6 309.2 L518.2 309.2 L518.8 309.2 L519.4 309.2 L520 309.2 L520.6 309.2 L521.2 309.2 L521.8 309.2" stroke="#8a8a8a" stroke-width="1.1" fill="none" />
<path d="M397 310.4 L397.6 310.4 L398.2 310.4 L398.8 310.4 L399.4 310.4 L400 310.4 L400.6 310.4 L401.2 310.4 L401.8 310.4 L402.4 310.4 L403 310.4 L403.6 310.4 L404.2 310.4 L404.8 310.4 L405.4 310.4 L406 310.4 L406.6 310.4 L407.2 310.4 L407.8 310.4 L408.4 310.4 L409 310.4 L409.6 310.4 L410.2 310.4 L410.8 310.4 L411.4 310.4 L412 310.4 L412.6 310.4 L413.2 310.4 L413.8 310.4 L414.4 310.4 L415 310.4 L415.6 310.4 L416.2 310.4 L416.8 310.4 L417.4 310.4 L418 310.4 L418.6 310.4 L419.2 310.4 L419.8 310.4 L420.4 310.4 L421 310.4 L421.6 310.4 L422.2 310.4 L422.8 310.4 L423.4 310.4 L424 310.4 L424.6 310.4 L425.2 310.4 L425.8 310.4 L426.4 310.4 L427 310.4 L427.6 310.4 L428.2 310.4 L428.8 310.4 L429.4 310.4 L430 310.4 L430.6 310.4 L431.2 310.4 L431.8 310.4 L432.4 310.4 L433 310.4 L433.6 310.4 L434.2 310.4 L434.8 310.4 L435.4 310.4 L436 310.4 L436.6 310.4 L437.2 310.4 L437.8 310.4 L438.4 310.4 L439 310.4 L439.6 310.4 L440.2 310.4 L440.8 310.4 L441.4 310.4 L442 310.4 L442.6 310.4 L443.2 310.4 L443.8 310.4 L444.4 310.4 L445 310.4 L445.6 310.39 L446.2 310.39 L446.8 310.39 L447.4 310.38 L448 310.37 L448.6 310.36 L449.2 310.34 L449.8 310.32 L450.4 310.28 L451 310.24 L451.6 310.17 L452.2 310.09 L452.8 309.98 L453.4 309.84 L454 309.66 L454.6 309.42 L455.2 309.13 L455.8 308.76 L456.4 308.31 L457 307.75 L457.6 307.07 L458.2 306.27 L458.8 305.32 L459.4 304.2 L460 302.91 L460.6 301.44 L461.2 299.78 L461.8 297.93 L462.4 295.89 L463 293.67 L463.6 291.3 L464.2 288.79 L464.8 286.19 L465.4 283.52 L466 280.83 L466.6 278.18 L467.2 275.62 L467.8 273.21 L468.4 270.99 L469 269.04 L469.6 267.39 L470.2 266.1 L470.8 265.19 L471.4 264.7 L472 264.62 L472.6 264.98 L473.2 265.75 L473.8 266.92 L474.4 268.46 L475 270.31 L475.6 272.44 L476.2 274.8 L476.8 277.31 L477.4 279.94 L478 282.62 L478.6 285.3 L479.2 287.93 L479.8 290.48 L480.4 292.9 L481 295.17 L481.6 297.27 L482.2 299.18 L482.8 300.91 L483.4 302.44 L484 303.79 L484.6 304.96 L485.2 305.97 L485.8 306.82 L486.4 307.54 L487 308.13 L487.6 308.62 L488.2 309.01 L488.8 309.33 L489.4 309.59 L490 309.78 L490.6 309.94 L491.2 310.06 L491.8 310.15 L492.4 310.22 L493 310.27 L493.6 310.31 L494.2 310.33 L494.8 310.35 L495.4 310.37 L496 310.38 L496.6 310.38 L497.2 310.39 L497.8 310.39 L498.4 310.4 L499 310.4 L499.6 310.4 L500.2 310.4 L500.8 310.4 L501.4 310.4 L502 310.4 L502.6 310.4 L503.2 310.4 L503.8 310.4 L504.4 310.4 L505 310.4 L505.6 310.4 L506.2 310.4 L506.8 310.4 L507.4 310.4 L508 310.4 L508.6 310.4 L509.2 310.4 L509.8 310.4 L510.4 310.4 L511 310.4 L511.6 310.4 L512.2 310.4 L512.8 310.4 L513.4 310.4 L514 310.4 L514.6 310.4 L515.2 310.4 L515.8 310.4 L516.4 310.4 L517 310.4 L517.6 310.4 L518.2 310.4 L518.8 310.4 L519.4 310.4 L520 310.4 L520.6 310.4 L521.2 310.4 L521.8 310.4" stroke="#f02020" stroke-width="1.3" fill="none" />
<path d="M397 310.4 L397.6 310.4 L398.2 310.4 L398.8 310.4 L399.4 310.4 L400 310.4 L400.6 310.4 L401.2 310.4 L401.8 310.4 L402.4 310.4 L403 310.4 L403.6 310.4 L404.2 310.4 L404.8 310.4 L405.4 310.4 L406 310.4 L406.6 310.4 L407.2 310.4 L407.8 310.4 L408.4 310.4 L409 310.4 L409.6 310.4 L410.2 310.4 L410.8 310.4 L411.4 310.4 L412 310.4 L412.6 310.4 L413.2 310.4 L413.8 310.4 L414.4 310.4 L415 310.4 L415.6 310.4 L416.2 310.4 L416.8 310.4 L417.4 310.4 L418 310.4 L418.6 310.4 L419.2 310.4 L419.8 310.4 L420.4 310.4 L421 310.4 L421.6 310.4 L422.2 310.4 L422.8 310.4 L423.4 310.4 L424 310.4 L424.6 310.4 L425.2 310.4 L425.8 310.4 L426.4 310.4 L427 310.4 L427.6 310.4 L428.2 310.4 L428.8 310.4 L429.4 310.4 L430 310.4 L430.6 310.4 L431.2 310.39 L431.8 310.39 L432.4 310.38 L433 310.37 L433.6 310.36 L434.2 310.34 L434.8 310.32 L435.4 310.28 L436 310.24 L436.6 310.17 L437.2 310.08 L437.8 309.97 L438.4 309.82 L439 309.63 L439.6 309.39 L440.2 309.09 L440.8 308.71 L441.4 308.26 L442 307.71 L442.6 307.06 L443.2 306.3 L443.8 305.43 L444.4 304.43 L445 303.33 L445.6 302.11 L446.2 300.79 L446.8 299.4 L447.4 297.94 L448 296.45 L448.6 294.96 L449.2 293.51 L449.8 292.13 L450.4 290.86 L451 289.75 L451.6 288.82 L452.2 288.11 L452.8 287.63 L453.4 287.41 L454 287.46 L454.6 287.76 L455.2 288.32 L455.8 289.11 L456.4 290.1 L457 291.27 L457.6 292.58 L458.2 293.99 L458.8 295.46 L459.4 296.95 L460 298.43 L460.6 299.87 L461.2 301.24 L461.8 302.53 L462.4 303.71 L463 304.78 L463.6 305.73 L464.2 306.57 L464.8 307.29 L465.4 307.9 L466 308.42 L466.6 308.85 L467.2 309.19 L467.8 309.48 L468.4 309.7 L469 309.88 L469.6 310.01 L470.2 310.12 L470.8 310.19 L471.4 310.25 L472 310.3 L472.6 310.33 L473.2 310.35 L473.8 310.37 L474.4 310.38 L475 310.38 L475.6 310.39 L476.2 310.39 L476.8 310.4 L477.4 310.4 L478 310.4 L478.6 310.4 L479.2 310.4 L479.8 310.4 L480.4 310.4 L481 310.4 L481.6 310.4 L482.2 310.4 L482.8 310.4 L483.4 310.4 L484 310.4 L484.6 310.4 L485.2 310.4 L485.8 310.4 L486.4 310.4 L487 310.4 L487.6 310.4 L488.2 310.4 L488.8 310.4 L489.4 310.4 L490 310.4 L490.6 310.4 L491.2 310.4 L491.8 310.4 L492.4 310.4 L493 310.4 L493.6 310.4 L494.2 310.4 L494.8 310.4 L495.4 310.4 L496 310.4 L496.6 310.4 L497.2 310.4 L497.8 310.4 L498.4 310.4 L499 310.4 L499.6 310.4 L500.2 310.4 L500.8 310.4 L501.4 310.4 L502 310.4 L502.6 310.4 L503.2 310.4 L503.8 310.4 L504.4 310.4 L505 310.4 L505.6 310.4 L506.2 310.4 L506.8 310.4 L507.4 310.4 L508 310.4 L508.6 310.4 L509.2 310.4 L509.8 310.4 L510.4 310.4 L511 310.4 L511.6 310.4 L512.2 310.4 L512.8 310.4 L513.4 310.4 L514 310.4 L514.6 310.4 L515.2 310.4 L515.8 310.4 L516.4 310.4 L517 310.4 L517.6 310.4 L518.2 310.4 L518.8 310.4 L519.4 310.4 L520 310.4 L520.6 310.4 L521.2 310.4 L521.8 310.4" stroke="#2030f0" stroke-width="1.3" fill="none" />
<path d="M397 310.4 L397.6 310.4 L398.2 310.4 L398.8 310.4 L399.4 310.4 L400 310.4 L400.6 310.4 L401.2 310.4 L401.8 310.4 L402.4 310.4 L403 310.4 L403.6 310.4 L404.2 310.4 L404.8 310.4 L405.4 310.4 L406 310.4 L406.6 310.4 L407.2 310.4 L407.8 310.4 L408.4 310.4 L409 310.4 L409.6 310.4 L410.2 310.4 L410.8 310.4 L411.4 310.4 L412 310.4 L412.6 310.4 L413.2 310.4 L413.8 310.4 L414.4 310.4 L415 310.4 L415.6 310.4 L416.2 310.4 L416.8 310.4 L417.4 310.4 L418 310.4 L418.6 310.4 L419.2 310.4 L419.8 310.4 L420.4 310.4 L421 310.4 L421.6 310.4 L422.2 310.4 L422.8 310.4 L423.4 310.4 L424 310.4 L424.6 310.4 L425.2 310.4 L425.8 310.4 L426.4 310.4 L427 310.4 L427.6 310.4 L428.2 310.4 L428.8 310.4 L429.4 310.4 L430 310.4 L430.6 310.4 L431.2 310.39 L431.8 310.39 L432.4 310.38 L433 310.37 L433.6 310.36 L434.2 310.34 L434.8 310.32 L435.4 310.28 L436 310.24 L436.6 310.17 L437.2 310.08 L437.8 309.97 L438.4 309.82 L439 309.63 L439.6 309.39 L440.2 309.09 L440.8 308.71 L441.4 308.26 L442 307.71 L442.6 307.06 L443.2 306.3 L443.8 305.42 L444.4 304.43 L445 303.32 L445.6 302.1 L446.2 300.78 L446.8 299.38 L447.4 297.92 L448 296.42 L448.6 294.92 L449.2 293.45 L449.8 292.05 L450.4 290.75 L451 289.59 L451.6 288.59 L452.2 287.8 L452.8 287.22 L453.4 286.85 L454 286.72 L454.6 286.79 L455.2 287.05 L455.8 287.47 L456.4 288.01 L457 288.62 L457.6 289.25 L458.2 289.86 L458.8 290.37 L459.4 290.75 L460 290.94 L460.6 290.91 L461.2 290.62 L461.8 290.05 L462.4 289.2 L463 288.05 L463.6 286.63 L464.2 284.96 L464.8 283.07 L465.4 281.02 L466 278.85 L466.6 276.63 L467.2 274.41 L467.8 272.28 L468.4 270.29 L469 268.52 L469.6 267.01 L470.2 265.82 L470.8 264.99 L471.4 264.55 L472 264.52 L472.6 264.91 L473.2 265.7 L473.8 266.89 L474.4 268.43 L475 270.3 L475.6 272.43 L476.2 274.79 L476.8 277.31 L477.4 279.94 L478 282.62 L478.6 285.3 L479.2 287.93 L479.8 290.48 L480.4 292.9 L481 295.17 L481.6 297.27 L482.2 299.18 L482.8 300.91 L483.4 302.44 L484 303.79 L484.6 304.96 L485.2 305.97 L485.8 306.82 L486.4 307.54 L487 308.13 L487.6 308.62 L488.2 309.01 L488.8 309.33 L489.4 309.59 L490 309.78 L490.6 309.94 L491.2 310.06 L491.8 310.15 L492.4 310.22 L493 310.27 L493.6 310.31 L494.2 310.33 L494.8 310.35 L495.4 310.37 L496 310.38 L496.6 310.38 L497.2 310.39 L497.8 310.39 L498.4 310.4 L499 310.4 L499.6 310.4 L500.2 310.4 L500.8 310.4 L501.4 310.4 L502 310.4 L502.6 310.4 L503.2 310.4 L503.8 310.4 L504.4 310.4 L505 310.4 L505.6 310.4 L506.2 310.4 L506.8 310.4 L507.4 310.4 L508 310.4 L508.6 310.4 L509.2 310.4 L509.8 310.4 L510.4 310.4 L511 310.4 L511.6 310.4 L512.2 310.4 L512.8 310.4 L513.4 310.4 L514 310.4 L514.6 310.4 L515.2 310.4 L515.8 310.4 L516.4 310.4 L517 310.4 L517.6 310.4 L518.2 310.4 L518.8 310.4 L519.4 310.4 L520 310.4 L520.6 310.4 L521.2 310.4 L521.8 310.4" stroke="#801010" stroke-width="1.3" fill="none" />
<path d="M397 310.4 L397.6 310.4 L398.2 310.4 L398.8 310.4 L399.4 310.4 L400 310.4 L400.6 310.4 L401.2 310.4 L401.8 310.4 L402.4 310.4 L403 310.4 L403.6 310.4 L404.2 310.4 L404.8 310.4 L405.4 310.4 L406 310.4 L406.6 310.4 L407.2 310.4 L407.8 310.4 L408.4 310.4 L409 310.4 L409.6 310.4 L410.2 310.4 L410.8 310.4 L411.4 310.4 L412 310.4 L412.6 310.4 L413.2 310.4 L413.8 310.4 L414.4 310.4 L415 310.4 L415.6 310.4 L416.2 310.4 L416.8 310.4 L417.4 310.4 L418 310.4 L418.6 310.4 L419.2 310.4 L419.8 310.4 L420.4 310.4 L421 310.4 L421.6 310.4 L422.2 310.4 L422.8 310.4 L423.4 310.4 L424 310.4 L424.6 310.4 L425.2 310.4 L425.8 310.4 L426.4 310.4 L427 310.4 L427.6 310.4 L428.2 310.4 L428.8 310.4 L429.4 310.4 L430 310.4 L430.6 310.4 L431.2 310.39 L431.8 310.39 L432.4 310.38 L433 310.37 L433.6 310.36 L434.2 310.34 L434.8 310.32 L435.4 310.28 L436 310.24 L436.6 310.17 L437.2 310.08 L437.8 309.97 L438.4 309.82 L439 309.63 L439.6 309.39 L440.2 309.09 L440.8 308.71 L441.4 308.26 L442 307.71 L442.6 307.06 L443.2 306.3 L443.8 305.43 L444.4 304.43 L445 303.33 L445.6 302.11 L446.2 300.79 L446.8 299.4 L447.4 297.94 L448 296.45 L448.6 294.96 L449.2 293.51 L449.8 292.13 L450.4 290.86 L451 289.75 L451.6 288.82 L452.2 288.11 L452.8 287.63 L453.4 287.41 L454 287.46 L454.6 287.76 L455.2 288.32 L455.8 289.11 L456.4 290.1 L457 291.27 L457.6 292.58 L458.2 293.99 L458.8 295.46 L459.4 296.95 L460 298.43 L460.6 299.87 L461.2 301.24 L461.8 302.53 L462.4 303.71 L463 304.78 L463.6 305.73 L464.2 306.57 L464.8 307.29 L465.4 307.9 L466 308.42 L466.6 308.85 L467.2 309.19 L467.8 309.48 L468.4 309.7 L469 309.88 L469.6 310.01 L470.2 310.12 L470.8 310.19 L471.4 310.25 L472 310.3 L472.6 310.33 L473.2 310.35 L473.8 310.37 L474.4 310.38 L475 310.38 L475.6 310.39 L476.2 310.39 L476.8 310.4 L477.4 310.4 L478 310.4 L478.6 310.4 L479.2 310.4 L479.8 310.4 L480.4 310.4 L481 310.4 L481.6 310.4 L482.2 310.4 L482.8 310.4 L483.4 310.4 L484 310.4 L484.6 310.4 L485.2 310.4 L485.8 310.4 L486.4 310.4 L487 310.4 L487.6 310.4 L488.2 310.4 L488.8 310.4 L489.4 310.4 L490 310.4 L490.6 310.4 L491.2 310.4 L491.8 310.4 L492.4 310.4 L493 310.4 L493.6 310.4 L494.2 310.4 L494.8 310.4 L495.4 310.4 L496 310.4 L496.6 310.4 L497.2 310.4 L497.8 310.4 L498.4 310.4 L499 310.4 L499.6 310.4 L500.2 310.4 L500.8 310.4 L501.4 310.4 L502 310.4 L502.6 310.4 L503.2 310.4 L503.8 310.4 L504.4 310.4 L505 310.4 L505.6 310.4 L506.2 310.4 L506.8 310.4 L507.4 310.4 L508 310.4 L508.6 310.4 L509.2 310.4 L509.8 310.4 L510.4 310.4 L511 310.4 L511.6 310.4 L512.2 310.4 L512.8 310.4 L513.4 310.4 L514 310.4 L514.6 310.4 L515.2 310.4 L515.8 310.4 L516.4 310.4 L517 310.4 L517.6 310.4 L518.2 310.4 L518.8 310.4 L519.4 310.4 L520 310.4 L520.6 310.4 L521.2 310.4 L521.8 310.4" stroke="#2030f0" stroke-width="1.3" fill="none" />
<line x1="397" y1="310.2" x2="522" y2="310.2" stroke="#3a8a3a" stroke-width="0.8" />
<line x1="397" y1="377.3" x2="522" y2="377.3" stroke="#3a8a3a" stroke-width="0.8" />
<path d="M397 377.3 L397.6 377.3 L398.2 377.3 L398.8 377.3 L399.4 377.3 L400 377.3 L400.6 377.3 L401.2 377.3 L401.8 377.3 L402.4 377.3 L403 377.3 L403.6 377.3 L404.2 377.3 L404.8 377.3 L405.4 377.3 L406 377.3 L406.6 377.3 L407.2 377.3 L407.8 377.3 L408.4 377.3 L409 377.3 L409.6 377.3 L410.2 377.3 L410.8 377.3 L411.4 377.3 L412 377.3 L412.6 377.3 L413.2 377.3 L413.8 377.3 L414.4 377.3 L415 377.3 L415.6 377.3 L416.2 377.3 L416.8 377.3 L417.4 377.3 L418 377.3 L418.6 377.3 L419.2 377.3 L419.8 377.3 L420.4 377.3 L421 377.3 L421.6 377.3 L422.2 377.3 L422.8 377.3 L423.4 377.3 L424 377.3 L424.6 377.3 L425.2 377.3 L425.8 377.3 L426.4 377.3 L427 377.3 L427.6 377.3 L428.2 377.3 L428.8 377.3 L429.4 377.3 L430 377.3 L430.6 377.3 L431.2 377.3 L431.8 377.3 L432.4 377.3 L433 377.3 L433.6 377.29 L434.2 377.29 L434.8 377.29 L435.4 377.29 L436 377.28 L436.6 377.27 L437.2 377.27 L437.8 377.26 L438.4 377.24 L439 377.23 L439.6 377.21 L440.2 377.18 L440.8 377.15 L441.4 377.11 L442 377.07 L442.6 377.02 L443.2 376.96 L443.8 376.88 L444.4 376.8 L445 376.7 L445.6 376.6 L446.2 376.47 L446.8 376.34 L447.4 376.19 L448 376.02 L448.6 375.84 L449.2 375.65 L449.8 375.44 L450.4 375.23 L451 375.01 L451.6 374.78 L452.2 374.56 L452.8 374.33 L453.4 374.1 L454 373.89 L454.6 373.69 L455.2 373.5 L455.8 373.34 L456.4 373.19 L457 373.08 L457.6 372.99 L458.2 372.93 L458.8 372.9 L459.4 372.91 L460 372.94 L460.6 373.01 L461.2 373.11 L461.8 373.24 L462.4 373.39 L463 373.56 L463.6 373.75 L464.2 373.96 L464.8 374.18 L465.4 374.4 L466 374.63 L466.6 374.86 L467.2 375.08 L467.8 375.3 L468.4 375.51 L469 375.71 L469.6 375.9 L470.2 376.08 L470.8 376.24 L471.4 376.38 L472 376.52 L472.6 376.63 L473.2 376.74 L473.8 376.83 L474.4 376.91 L475 376.98 L475.6 377.04 L476.2 377.09 L476.8 377.13 L477.4 377.16 L478 377.19 L478.6 377.21 L479.2 377.23 L479.8 377.25 L480.4 377.26 L481 377.27 L481.6 377.28 L482.2 377.28 L482.8 377.29 L483.4 377.29 L484 377.29 L484.6 377.29 L485.2 377.3 L485.8 377.3 L486.4 377.3 L487 377.3 L487.6 377.3 L488.2 377.3 L488.8 377.3 L489.4 377.3 L490 377.3 L490.6 377.3 L491.2 377.3 L491.8 377.3 L492.4 377.3 L493 377.3 L493.6 377.3 L494.2 377.3 L494.8 377.3 L495.4 377.3 L496 377.3 L496.6 377.3 L497.2 377.3 L497.8 377.3 L498.4 377.3 L499 377.3 L499.6 377.3 L500.2 377.3 L500.8 377.3 L501.4 377.3 L502 377.3 L502.6 377.3 L503.2 377.3 L503.8 377.3 L504.4 377.3 L505 377.3 L505.6 377.3 L506.2 377.3 L506.8 377.3 L507.4 377.3 L508 377.3 L508.6 377.3 L509.2 377.3 L509.8 377.3 L510.4 377.3 L511 377.3 L511.6 377.3 L512.2 377.3 L512.8 377.3 L513.4 377.3 L514 377.3 L514.6 377.3 L515.2 377.3 L515.8 377.3 L516.4 377.3 L517 377.3 L517.6 377.3 L518.2 377.3 L518.8 377.3 L519.4 377.3 L520 377.3 L520.6 377.3 L521.2 377.3 L521.8 377.3 L521.8 377.3 L397 377.3 Z" stroke="none" stroke-width="1" fill="#a8b8f0" fill-opacity="0.5"/>
<path d="M397 377.3 L397.6 377.3 L398.2 377.3 L398.8 377.3 L399.4 377.3 L400 377.3 L400.6 377.3 L401.2 377.3 L401.8 377.3 L402.4 377.3 L403 377.3 L403.6 377.3 L404.2 377.3 L404.8 377.3 L405.4 377.3 L406 377.3 L406.6 377.3 L407.2 377.3 L407.8 377.3 L408.4 377.3 L409 377.3 L409.6 377.3 L410.2 377.3 L410.8 377.3 L411.4 377.3 L412 377.3 L412.6 377.3 L413.2 377.3 L413.8 377.3 L414.4 377.3 L415 377.3 L415.6 377.3 L416.2 377.3 L416.8 377.3 L417.4 377.3 L418 377.3 L418.6 377.3 L419.2 377.3 L419.8 377.3 L420.4 377.3 L421 377.3 L421.6 377.3 L422.2 377.3 L422.8 377.3 L423.4 377.3 L424 377.3 L424.6 377.3 L425.2 377.3 L425.8 377.3 L426.4 377.3 L427 377.3 L427.6 377.3 L428.2 377.3 L428.8 377.3 L429.4 377.3 L430 377.3 L430.6 377.3 L431.2 377.3 L431.8 377.3 L432.4 377.3 L433 377.3 L433.6 377.3 L434.2 377.3 L434.8 377.3 L435.4 377.3 L436 377.3 L436.6 377.3 L437.2 377.3 L437.8 377.3 L438.4 377.3 L439 377.3 L439.6 377.3 L440.2 377.3 L440.8 377.3 L441.4 377.3 L442 377.3 L442.6 377.3 L443.2 377.3 L443.8 377.3 L444.4 377.3 L445 377.3 L445.6 377.3 L446.2 377.3 L446.8 377.3 L447.4 377.3 L448 377.3 L448.6 377.3 L449.2 377.3 L449.8 377.3 L450.4 377.3 L451 377.3 L451.6 377.3 L452.2 377.3 L452.8 377.3 L453.4 377.3 L454 377.3 L454.6 377.3 L455.2 377.3 L455.8 377.3 L456.4 377.3 L457 377.3 L457.6 377.3 L458.2 377.29 L458.8 377.29 L459.4 377.29 L460 377.28 L460.6 377.27 L461.2 377.26 L461.8 377.24 L462.4 377.21 L463 377.17 L463.6 377.12 L464.2 377.05 L464.8 376.96 L465.4 376.85 L466 376.71 L466.6 376.54 L467.2 376.33 L467.8 376.09 L468.4 375.8 L469 375.46 L469.6 375.09 L470.2 374.68 L470.8 374.24 L471.4 373.78 L472 373.3 L472.6 372.82 L473.2 372.36 L473.8 371.92 L474.4 371.53 L475 371.21 L475.6 370.95 L476.2 370.78 L476.8 370.71 L477.4 370.72 L478 370.83 L478.6 371.03 L479.2 371.31 L479.8 371.66 L480.4 372.06 L481 372.51 L481.6 372.98 L482.2 373.46 L482.8 373.93 L483.4 374.39 L484 374.82 L484.6 375.22 L485.2 375.58 L485.8 375.9 L486.4 376.17 L487 376.41 L487.6 376.6 L488.2 376.76 L488.8 376.89 L489.4 377 L490 377.08 L490.6 377.14 L491.2 377.18 L491.8 377.22 L492.4 377.24 L493 377.26 L493.6 377.27 L494.2 377.28 L494.8 377.29 L495.4 377.29 L496 377.3 L496.6 377.3 L497.2 377.3 L497.8 377.3 L498.4 377.3 L499 377.3 L499.6 377.3 L500.2 377.3 L500.8 377.3 L501.4 377.3 L502 377.3 L502.6 377.3 L503.2 377.3 L503.8 377.3 L504.4 377.3 L505 377.3 L505.6 377.3 L506.2 377.3 L506.8 377.3 L507.4 377.3 L508 377.3 L508.6 377.3 L509.2 377.3 L509.8 377.3 L510.4 377.3 L511 377.3 L511.6 377.3 L512.2 377.3 L512.8 377.3 L513.4 377.3 L514 377.3 L514.6 377.3 L515.2 377.3 L515.8 377.3 L516.4 377.3 L517 377.3 L517.6 377.3 L518.2 377.3 L518.8 377.3 L519.4 377.3 L520 377.3 L520.6 377.3 L521.2 377.3 L521.8 377.3 L521.8 377.3 L397 377.3 Z" stroke="none" stroke-width="1" fill="#eab0a8" fill-opacity="0.6"/>
<path d="M397 376 L397.6 376 L398.2 376 L398.8 376 L399.4 376 L400 376 L400.6 376 L401.2 376 L401.8 376 L402.4 376 L403 376 L403.6 376 L404.2 376 L404.8 376 L405.4 376 L406 376 L406.6 376 L407.2 376 L407.8 376 L408.4 376 L409 376 L409.6 376 L410.2 376 L410.8 376 L411.4 376 L412 376 L412.6 376 L413.2 376 L413.8 376 L414.4 376 L415 376 L415.6 376 L416.2 376 L416.8 376 L417.4 376 L418 376 L418.6 376 L419.2 376 L419.8 376 L420.4 376 L421 376 L421.6 376 L422.2 376 L422.8 376 L423.4 376 L424 376 L424.6 376 L425.2 376 L425.8 376 L426.4 376 L427 376 L427.6 376 L428.2 376 L428.8 376 L429.4 376 L430 376 L430.6 376 L431.2 376 L431.8 376 L432.4 376 L433 376 L433.6 375.99 L434.2 375.99 L434.8 375.99 L435.4 375.99 L436 375.98 L436.6 375.97 L437.2 375.97 L437.8 375.96 L438.4 375.94 L439 375.93 L439.6 375.91 L440.2 375.88 L440.8 375.85 L441.4 375.81 L442 375.77 L442.6 375.72 L443.2 375.66 L443.8 375.58 L444.4 375.5 L445 375.4 L445.6 375.3 L446.2 375.17 L446.8 375.04 L447.4 374.89 L448 374.72 L448.6 374.54 L449.2 374.35 L449.8 374.14 L450.4 373.93 L451 373.71 L451.6 373.48 L452.2 373.26 L452.8 373.03 L453.4 372.8 L454 372.59 L454.6 372.39 L455.2 372.2 L455.8 372.04 L456.4 371.89 L457 371.77 L457.6 371.68 L458.2 371.62 L458.8 371.59 L459.4 371.59 L460 371.62 L460.6 371.68 L461.2 371.77 L461.8 371.87 L462.4 372 L463 372.13 L463.6 372.27 L464.2 372.41 L464.8 372.54 L465.4 372.65 L466 372.74 L466.6 372.79 L467.2 372.81 L467.8 372.78 L468.4 372.69 L469 372.56 L469.6 372.37 L470.2 372.13 L470.8 371.84 L471.4 371.51 L472 371.16 L472.6 370.78 L473.2 370.41 L473.8 370.05 L474.4 369.72 L475 369.44 L475.6 369.22 L476.2 369.07 L476.8 369 L477.4 369.01 L478 369.11 L478.6 369.29 L479.2 369.53 L479.8 369.84 L480.4 370.2 L481 370.59 L481.6 371 L482.2 371.42 L482.8 371.82 L483.4 372.2 L484 372.56 L484.6 372.88 L485.2 373.16 L485.8 373.39 L486.4 373.59 L487 373.75 L487.6 373.87 L488.2 373.96 L488.8 374.02 L489.4 374.07 L490 374.1 L490.6 374.12 L491.2 374.13 L491.8 374.14 L492.4 374.15 L493 374.16 L493.6 374.18 L494.2 374.2 L494.8 374.23 L495.4 374.27 L496 374.32 L496.6 374.37 L497.2 374.43 L497.8 374.5 L498.4 374.57 L499 374.64 L499.6 374.72 L500.2 374.8 L500.8 374.88 L501.4 374.96 L502 375.04 L502.6 375.12 L503.2 375.2 L503.8 375.28 L504.4 375.35 L505 375.42 L505.6 375.48 L506.2 375.54 L506.8 375.59 L507.4 375.64 L508 375.69 L508.6 375.73 L509.2 375.77 L509.8 375.8 L510.4 375.83 L511 375.86 L511.6 375.88 L512.2 375.9 L512.8 375.92 L513.4 375.93 L514 375.94 L514.6 375.95 L515.2 375.96 L515.8 375.97 L516.4 375.98 L517 375.98 L517.6 375.98 L518.2 375.99 L518.8 375.99 L519.4 375.99 L520 375.99 L520.6 376 L521.2 376 L521.8 376" stroke="#6a6a6a" stroke-width="1.1" fill="none" />
<path d="M397 377.3 L397.6 377.3 L398.2 377.3 L398.8 377.3 L399.4 377.3 L400 377.3 L400.6 377.3 L401.2 377.3 L401.8 377.3 L402.4 377.3 L403 377.3 L403.6 377.3 L404.2 377.3 L404.8 377.3 L405.4 377.3 L406 377.3 L406.6 377.3 L407.2 377.3 L407.8 377.3 L408.4 377.3 L409 377.3 L409.6 377.3 L410.2 377.3 L410.8 377.3 L411.4 377.3 L412 377.3 L412.6 377.3 L413.2 377.3 L413.8 377.3 L414.4 377.3 L415 377.3 L415.6 377.3 L416.2 377.3 L416.8 377.3 L417.4 377.3 L418 377.3 L418.6 377.3 L419.2 377.3 L419.8 377.3 L420.4 377.3 L421 377.3 L421.6 377.3 L422.2 377.3 L422.8 377.3 L423.4 377.3 L424 377.3 L424.6 377.3 L425.2 377.3 L425.8 377.3 L426.4 377.3 L427 377.3 L427.6 377.3 L428.2 377.3 L428.8 377.3 L429.4 377.3 L430 377.3 L430.6 377.3 L431.2 377.3 L431.8 377.3 L432.4 377.3 L433 377.3 L433.6 377.29 L434.2 377.29 L434.8 377.29 L435.4 377.29 L436 377.28 L436.6 377.27 L437.2 377.27 L437.8 377.26 L438.4 377.24 L439 377.23 L439.6 377.21 L440.2 377.18 L440.8 377.15 L441.4 377.11 L442 377.07 L442.6 377.02 L443.2 376.96 L443.8 376.88 L444.4 376.8 L445 376.7 L445.6 376.6 L446.2 376.47 L446.8 376.34 L447.4 376.19 L448 376.02 L448.6 375.84 L449.2 375.65 L449.8 375.44 L450.4 375.23 L451 375.01 L451.6 374.78 L452.2 374.56 L452.8 374.33 L453.4 374.1 L454 373.89 L454.6 373.69 L455.2 373.5 L455.8 373.34 L456.4 373.19 L457 373.08 L457.6 372.99 L458.2 372.93 L458.8 372.9 L459.4 372.91 L460 372.94 L460.6 373.01 L461.2 373.11 L461.8 373.24 L462.4 373.39 L463 373.56 L463.6 373.75 L464.2 373.96 L464.8 374.18 L465.4 374.4 L466 374.63 L466.6 374.86 L467.2 375.08 L467.8 375.3 L468.4 375.51 L469 375.71 L469.6 375.9 L470.2 376.08 L470.8 376.24 L471.4 376.38 L472 376.52 L472.6 376.63 L473.2 376.74 L473.8 376.83 L474.4 376.91 L475 376.98 L475.6 377.04 L476.2 377.09 L476.8 377.13 L477.4 377.16 L478 377.19 L478.6 377.21 L479.2 377.23 L479.8 377.25 L480.4 377.26 L481 377.27 L481.6 377.28 L482.2 377.28 L482.8 377.29 L483.4 377.29 L484 377.29 L484.6 377.29 L485.2 377.3 L485.8 377.3 L486.4 377.3 L487 377.3 L487.6 377.3 L488.2 377.3 L488.8 377.3 L489.4 377.3 L490 377.3 L490.6 377.3 L491.2 377.3 L491.8 377.3 L492.4 377.3 L493 377.3 L493.6 377.3 L494.2 377.3 L494.8 377.3 L495.4 377.3 L496 377.3 L496.6 377.3 L497.2 377.3 L497.8 377.3 L498.4 377.3 L499 377.3 L499.6 377.3 L500.2 377.3 L500.8 377.3 L501.4 377.3 L502 377.3 L502.6 377.3 L503.2 377.3 L503.8 377.3 L504.4 377.3 L505 377.3 L505.6 377.3 L506.2 377.3 L506.8 377.3 L507.4 377.3 L508 377.3 L508.6 377.3 L509.2 377.3 L509.8 377.3 L510.4 377.3 L511 377.3 L511.6 377.3 L512.2 377.3 L512.8 377.3 L513.4 377.3 L514 377.3 L514.6 377.3 L515.2 377.3 L515.8 377.3 L516.4 377.3 L517 377.3 L517.6 377.3 L518.2 377.3 L518.8 377.3 L519.4 377.3 L520 377.3 L520.6 377.3 L521.2 377.3 L521.8 377.3" stroke="#2030f0" stroke-width="1.3" fill="none" />
<path d="M397 377.3 L397.6 377.3 L398.2 377.3 L398.8 377.3 L399.4 377.3 L400 377.3 L400.6 377.3 L401.2 377.3 L401.8 377.3 L402.4 377.3 L403 377.3 L403.6 377.3 L404.2 377.3 L404.8 377.3 L405.4 377.3 L406 377.3 L406.6 377.3 L407.2 377.3 L407.8 377.3 L408.4 377.3 L409 377.3 L409.6 377.3 L410.2 377.3 L410.8 377.3 L411.4 377.3 L412 377.3 L412.6 377.3 L413.2 377.3 L413.8 377.3 L414.4 377.3 L415 377.3 L415.6 377.3 L416.2 377.3 L416.8 377.3 L417.4 377.3 L418 377.3 L418.6 377.3 L419.2 377.3 L419.8 377.3 L420.4 377.3 L421 377.3 L421.6 377.3 L422.2 377.3 L422.8 377.3 L423.4 377.3 L424 377.3 L424.6 377.3 L425.2 377.3 L425.8 377.3 L426.4 377.3 L427 377.3 L427.6 377.3 L428.2 377.3 L428.8 377.3 L429.4 377.3 L430 377.3 L430.6 377.3 L431.2 377.3 L431.8 377.3 L432.4 377.3 L433 377.3 L433.6 377.3 L434.2 377.3 L434.8 377.3 L435.4 377.3 L436 377.3 L436.6 377.3 L437.2 377.3 L437.8 377.3 L438.4 377.3 L439 377.3 L439.6 377.3 L440.2 377.3 L440.8 377.3 L441.4 377.3 L442 377.3 L442.6 377.3 L443.2 377.3 L443.8 377.3 L444.4 377.3 L445 377.3 L445.6 377.3 L446.2 377.3 L446.8 377.3 L447.4 377.3 L448 377.3 L448.6 377.3 L449.2 377.3 L449.8 377.3 L450.4 377.3 L451 377.3 L451.6 377.3 L452.2 377.3 L452.8 377.3 L453.4 377.3 L454 377.3 L454.6 377.3 L455.2 377.3 L455.8 377.3 L456.4 377.3 L457 377.3 L457.6 377.3 L458.2 377.3 L458.8 377.3 L459.4 377.3 L460 377.3 L460.6 377.3 L461.2 377.3 L461.8 377.3 L462.4 377.3 L463 377.3 L463.6 377.3 L464.2 377.3 L464.8 377.3 L465.4 377.3 L466 377.29 L466.6 377.29 L467.2 377.29 L467.8 377.29 L468.4 377.28 L469 377.28 L469.6 377.28 L470.2 377.27 L470.8 377.26 L471.4 377.25 L472 377.24 L472.6 377.23 L473.2 377.22 L473.8 377.2 L474.4 377.18 L475 377.16 L475.6 377.13 L476.2 377.1 L476.8 377.07 L477.4 377.03 L478 376.99 L478.6 376.94 L479.2 376.89 L479.8 376.84 L480.4 376.78 L481 376.72 L481.6 376.65 L482.2 376.58 L482.8 376.5 L483.4 376.42 L484 376.34 L484.6 376.26 L485.2 376.18 L485.8 376.1 L486.4 376.02 L487 375.94 L487.6 375.87 L488.2 375.8 L488.8 375.73 L489.4 375.67 L490 375.62 L490.6 375.58 L491.2 375.54 L491.8 375.52 L492.4 375.51 L493 375.5 L493.6 375.51 L494.2 375.52 L494.8 375.54 L495.4 375.58 L496 375.62 L496.6 375.67 L497.2 375.73 L497.8 375.8 L498.4 375.87 L499 375.94 L499.6 376.02 L500.2 376.1 L500.8 376.18 L501.4 376.26 L502 376.34 L502.6 376.42 L503.2 376.5 L503.8 376.58 L504.4 376.65 L505 376.72 L505.6 376.78 L506.2 376.84 L506.8 376.89 L507.4 376.94 L508 376.99 L508.6 377.03 L509.2 377.07 L509.8 377.1 L510.4 377.13 L511 377.16 L511.6 377.18 L512.2 377.2 L512.8 377.22 L513.4 377.23 L514 377.24 L514.6 377.25 L515.2 377.26 L515.8 377.27 L516.4 377.28 L517 377.28 L517.6 377.28 L518.2 377.29 L518.8 377.29 L519.4 377.29 L520 377.29 L520.6 377.3 L521.2 377.3 L521.8 377.3" stroke="#40a030" stroke-width="1.3" fill="none" />
<path d="M397 377.3 L397.6 377.3 L398.2 377.3 L398.8 377.3 L399.4 377.3 L400 377.3 L400.6 377.3 L401.2 377.3 L401.8 377.3 L402.4 377.3 L403 377.3 L403.6 377.3 L404.2 377.3 L404.8 377.3 L405.4 377.3 L406 377.3 L406.6 377.3 L407.2 377.3 L407.8 377.3 L408.4 377.3 L409 377.3 L409.6 377.3 L410.2 377.3 L410.8 377.3 L411.4 377.3 L412 377.3 L412.6 377.3 L413.2 377.3 L413.8 377.3 L414.4 377.3 L415 377.3 L415.6 377.3 L416.2 377.3 L416.8 377.3 L417.4 377.3 L418 377.3 L418.6 377.3 L419.2 377.3 L419.8 377.3 L420.4 377.3 L421 377.3 L421.6 377.3 L422.2 377.3 L422.8 377.3 L423.4 377.3 L424 377.3 L424.6 377.3 L425.2 377.3 L425.8 377.3 L426.4 377.3 L427 377.3 L427.6 377.3 L428.2 377.3 L428.8 377.3 L429.4 377.3 L430 377.3 L430.6 377.3 L431.2 377.3 L431.8 377.3 L432.4 377.3 L433 377.3 L433.6 377.3 L434.2 377.3 L434.8 377.3 L435.4 377.3 L436 377.3 L436.6 377.3 L437.2 377.3 L437.8 377.3 L438.4 377.3 L439 377.3 L439.6 377.3 L440.2 377.3 L440.8 377.3 L441.4 377.3 L442 377.3 L442.6 377.3 L443.2 377.3 L443.8 377.3 L444.4 377.3 L445 377.3 L445.6 377.3 L446.2 377.3 L446.8 377.3 L447.4 377.3 L448 377.3 L448.6 377.3 L449.2 377.3 L449.8 377.3 L450.4 377.3 L451 377.3 L451.6 377.3 L452.2 377.3 L452.8 377.3 L453.4 377.3 L454 377.3 L454.6 377.3 L455.2 377.3 L455.8 377.3 L456.4 377.3 L457 377.3 L457.6 377.3 L458.2 377.29 L458.8 377.29 L459.4 377.29 L460 377.28 L460.6 377.27 L461.2 377.26 L461.8 377.24 L462.4 377.21 L463 377.17 L463.6 377.12 L464.2 377.05 L464.8 376.96 L465.4 376.85 L466 376.71 L466.6 376.54 L467.2 376.33 L467.8 376.09 L468.4 375.8 L469 375.46 L469.6 375.09 L470.2 374.68 L470.8 374.24 L471.4 373.78 L472 373.3 L472.6 372.82 L473.2 372.36 L473.8 371.92 L474.4 371.53 L475 371.21 L475.6 370.95 L476.2 370.78 L476.8 370.71 L477.4 370.72 L478 370.83 L478.6 371.03 L479.2 371.31 L479.8 371.66 L480.4 372.06 L481 372.51 L481.6 372.98 L482.2 373.46 L482.8 373.93 L483.4 374.39 L484 374.82 L484.6 375.22 L485.2 375.58 L485.8 375.9 L486.4 376.17 L487 376.41 L487.6 376.6 L488.2 376.76 L488.8 376.89 L489.4 377 L490 377.08 L490.6 377.14 L491.2 377.18 L491.8 377.22 L492.4 377.24 L493 377.26 L493.6 377.27 L494.2 377.28 L494.8 377.29 L495.4 377.29 L496 377.3 L496.6 377.3 L497.2 377.3 L497.8 377.3 L498.4 377.3 L499 377.3 L499.6 377.3 L500.2 377.3 L500.8 377.3 L501.4 377.3 L502 377.3 L502.6 377.3 L503.2 377.3 L503.8 377.3 L504.4 377.3 L505 377.3 L505.6 377.3 L506.2 377.3 L506.8 377.3 L507.4 377.3 L508 377.3 L508.6 377.3 L509.2 377.3 L509.8 377.3 L510.4 377.3 L511 377.3 L511.6 377.3 L512.2 377.3 L512.8 377.3 L513.4 377.3 L514 377.3 L514.6 377.3 L515.2 377.3 L515.8 377.3 L516.4 377.3 L517 377.3 L517.6 377.3 L518.2 377.3 L518.8 377.3 L519.4 377.3 L520 377.3 L520.6 377.3 L521.2 377.3 L521.8 377.3" stroke="#f02818" stroke-width="1.3" fill="none" />
<line x1="396" y1="249.5" x2="396" y2="378.4" stroke="#666" stroke-width="0.9" />
<line x1="396" y1="311.9" x2="522" y2="311.9" stroke="#666" stroke-width="0.9" />
<line x1="396" y1="378.4" x2="522" y2="378.4" stroke="#666" stroke-width="0.9" />
<line x1="427.4" y1="311.9" x2="427.4" y2="314.9" stroke="#666" stroke-width="0.8" />
<line x1="427.4" y1="378.4" x2="427.4" y2="381.4" stroke="#666" stroke-width="0.8" />
<line x1="459" y1="311.9" x2="459" y2="314.9" stroke="#666" stroke-width="0.8" />
<line x1="459" y1="378.4" x2="459" y2="381.4" stroke="#666" stroke-width="0.8" />
<line x1="490.3" y1="311.9" x2="490.3" y2="314.9" stroke="#666" stroke-width="0.8" />
<line x1="490.3" y1="378.4" x2="490.3" y2="381.4" stroke="#666" stroke-width="0.8" />
<line x1="522" y1="311.9" x2="522" y2="314.9" stroke="#666" stroke-width="0.8" />
<line x1="522" y1="378.4" x2="522" y2="381.4" stroke="#666" stroke-width="0.8" />
<text x="395.9" y="395.33" font-size="9.8" text-anchor="middle" fill="#111" stroke="#111" stroke-width="0.15" >168</text>
<text x="427.4" y="395.33" font-size="9.8" text-anchor="middle" fill="#111" stroke="#111" stroke-width="0.15" >166</text>
<text x="458.7" y="395.33" font-size="9.8" text-anchor="middle" fill="#111" stroke="#111" stroke-width="0.15" >164</text>
<text x="490" y="395.33" font-size="9.8" text-anchor="middle" fill="#111" stroke="#111" stroke-width="0.15" >162</text>
<text x="521.5" y="395.33" font-size="9.8" text-anchor="middle" fill="#111" stroke="#111" stroke-width="0.15" >160</text>
<text x="459" y="408.24" font-size="10.1" text-anchor="middle" fill="#111" stroke="#111" stroke-width="0.15" >Binding energy (eV)</text>
<text x="400.4" y="255.9" font-size="9.4" text-anchor="start" fill="#111" stroke="#111" stroke-width="0.15" >M-PG</text>
<text x="400.4" y="327.88" font-size="9.4" text-anchor="start" fill="#111" stroke="#111" stroke-width="0.15" >PG-NS</text>
<text x="616" y="244.3" font-size="11.8" text-anchor="middle" fill="#111" stroke="#111" stroke-width="0.15" >Mo <tspan font-style="italic">3d</tspan></text>
<text transform="translate(538.1 314) rotate(-90)" x="0" y="3.82" font-size="10.6" text-anchor="middle" fill="#111" stroke="#111" stroke-width="0.15">Intensity (arb. units)</text>
<path d="M549.6 306.2 L550.1 306.2 L550.6 306.2 L551.1 306.2 L551.6 306.2 L552.1 306.2 L552.6 306.2 L553.1 306.2 L553.6 306.2 L554.1 306.2 L554.6 306.2 L555.1 306.2 L555.6 306.2 L556.1 306.2 L556.6 306.2 L557.1 306.2 L557.6 306.2 L558.1 306.2 L558.6 306.2 L559.1 306.2 L559.6 306.2 L560.1 306.2 L560.6 306.2 L561.1 306.2 L561.6 306.2 L562.1 306.2 L562.6 306.2 L563.1 306.2 L563.6 306.2 L564.1 306.2 L564.6 306.2 L565.1 306.2 L565.6 306.2 L566.1 306.2 L566.6 306.2 L567.1 306.2 L567.6 306.2 L568.1 306.2 L568.6 306.2 L569.1 306.2 L569.6 306.2 L570.1 306.2 L570.6 306.2 L571.1 306.2 L571.6 306.2 L572.1 306.2 L572.6 306.2 L573.1 306.2 L573.6 306.2 L574.1 306.2 L574.6 306.2 L575.1 306.2 L575.6 306.2 L576.1 306.2 L576.6 306.2 L577.1 306.2 L577.6 306.2 L578.1 306.2 L578.6 306.2 L579.1 306.2 L579.6 306.2 L580.1 306.2 L580.6 306.2 L581.1 306.2 L581.6 306.2 L582.1 306.2 L582.6 306.21 L583.1 306.21 L583.6 306.21 L584.1 306.21 L584.6 306.21 L585.1 306.21 L585.6 306.21 L586.1 306.21 L586.6 306.21 L587.1 306.21 L587.6 306.21 L588.1 306.22 L588.6 306.22 L589.1 306.22 L589.6 306.22 L590.1 306.22 L590.6 306.22 L591.1 306.23 L591.6 306.23 L592.1 306.23 L592.6 306.24 L593.1 306.24 L593.6 306.24 L594.1 306.25 L594.6 306.25 L595.1 306.26 L595.6 306.27 L596.1 306.27 L596.6 306.28 L597.1 306.29 L597.6 306.3 L598.1 306.31 L598.6 306.32 L599.1 306.33 L599.6 306.35 L600.1 306.36 L600.6 306.38 L601.1 306.39 L601.6 306.41 L602.1 306.43 L602.6 306.46 L603.1 306.48 L603.6 306.51 L604.1 306.54 L604.6 306.57 L605.1 306.61 L605.6 306.64 L606.1 306.69 L606.6 306.73 L607.1 306.78 L607.6 306.83 L608.1 306.88 L608.6 306.94 L609.1 307 L609.6 307.07 L610.1 307.14 L610.6 307.21 L611.1 307.29 L611.6 307.37 L612.1 307.46 L612.6 307.55 L613.1 307.64 L613.6 307.73 L614.1 307.82 L614.6 307.92 L615.1 308.02 L615.6 308.12 L616.1 308.22 L616.6 308.32 L617.1 308.42 L617.6 308.52 L618.1 308.61 L618.6 308.71 L619.1 308.8 L619.6 308.89 L620.1 308.98 L620.6 309.06 L621.1 309.14 L621.6 309.22 L622.1 309.29 L622.6 309.36 L623.1 309.42 L623.6 309.48 L624.1 309.54 L624.6 309.59 L625.1 309.64 L625.6 309.69 L626.1 309.73 L626.6 309.77 L627.1 309.81 L627.6 309.84 L628.1 309.87 L628.6 309.9 L629.1 309.93 L629.6 309.95 L630.1 309.97 L630.6 310 L631.1 310.01 L631.6 310.03 L632.1 310.05 L632.6 310.06 L633.1 310.07 L633.6 310.09 L634.1 310.1 L634.6 310.11 L635.1 310.11 L635.6 310.12 L636.1 310.13 L636.6 310.14 L637.1 310.14 L637.6 310.15 L638.1 310.15 L638.6 310.16 L639.1 310.16 L639.6 310.16 L640.1 310.17 L640.6 310.17 L641.1 310.17 L641.6 310.18 L642.1 310.18 L642.6 310.18 L643.1 310.18 L643.6 310.18 L644.1 310.19 L644.6 310.19 L645.1 310.19 L645.6 310.19 L646.1 310.19 L646.6 310.19 L647.1 310.19 L647.6 310.19 L648.1 310.19 L648.6 310.19 L649.1 310.19 L649.6 310.2 L650.1 310.2 L650.6 310.2 L651.1 310.2 L651.6 310.2 L652.1 310.2 L652.6 310.2 L653.1 310.2 L653.6 310.2 L654.1 310.2 L654.6 310.2 L655.1 310.2 L655.6 310.2 L656.1 310.2 L656.6 310.2 L657.1 310.2 L657.6 310.2 L658.1 310.2 L658.6 310.2 L659.1 310.2 L659.6 310.2 L660.1 310.2 L660.6 310.2 L661.1 310.2 L661.6 310.2 L662.1 310.2 L662.6 310.2 L663.1 310.2 L663.6 310.2 L664.1 310.2 L664.6 310.2 L665.1 310.2 L665.6 310.2 L666.1 310.2 L666.6 310.2 L667.1 310.2 L667.6 310.2 L668.1 310.2 L668.6 310.2 L669.1 310.2 L669.6 310.2 L670.1 310.2 L670.6 310.2 L671.1 310.2 L671.6 310.2 L672.1 310.2 L672.6 310.2 L673.1 310.2 L673.6 310.2 L674.1 310.2 L674.6 310.2 L675 312.6 L549.6 312.6 Z" stroke="none" stroke-width="1" fill="#c8a8d8" fill-opacity="0.8"/>
<path d="M549.6 306.2 L550.1 306.2 L550.6 306.2 L551.1 306.2 L551.6 306.2 L552.1 306.2 L552.6 306.2 L553.1 306.2 L553.6 306.2 L554.1 306.2 L554.6 306.2 L555.1 306.2 L555.6 306.2 L556.1 306.2 L556.6 306.2 L557.1 306.2 L557.6 306.2 L558.1 306.2 L558.6 306.2 L559.1 306.2 L559.6 306.2 L560.1 306.2 L560.6 306.2 L561.1 306.2 L561.6 306.2 L562.1 306.2 L562.6 306.2 L563.1 306.2 L563.6 306.2 L564.1 306.2 L564.6 306.2 L565.1 306.2 L565.6 306.2 L566.1 306.2 L566.6 306.2 L567.1 306.2 L567.6 306.2 L568.1 306.2 L568.6 306.2 L569.1 306.2 L569.6 306.2 L570.1 306.2 L570.6 306.2 L571.1 306.19 L571.6 306.19 L572.1 306.19 L572.6 306.19 L573.1 306.19 L573.6 306.18 L574.1 306.18 L574.6 306.17 L575.1 306.17 L575.6 306.16 L576.1 306.15 L576.6 306.14 L577.1 306.13 L577.6 306.11 L578.1 306.1 L578.6 306.08 L579.1 306.05 L579.6 306.02 L580.1 305.99 L580.6 305.95 L581.1 305.91 L581.6 305.86 L582.1 305.8 L582.6 305.74 L583.1 305.67 L583.6 305.58 L584.1 305.49 L584.6 305.39 L585.1 305.28 L585.6 305.15 L586.1 305.02 L586.6 304.87 L587.1 304.71 L587.6 304.53 L588.1 304.35 L588.6 304.15 L589.1 303.93 L589.6 303.71 L590.1 303.47 L590.6 303.22 L591.1 302.96 L591.6 302.7 L592.1 302.42 L592.6 302.14 L593.1 301.86 L593.6 301.58 L594.1 301.29 L594.6 301.02 L595.1 300.74 L595.6 300.48 L596.1 300.22 L596.6 299.98 L597.1 299.76 L597.6 299.55 L598.1 299.36 L598.6 299.2 L599.1 299.07 L599.6 298.96 L600.1 298.88 L600.6 298.82 L601.1 298.8 L601.6 298.81 L602.1 298.86 L602.6 298.93 L603.1 299.03 L603.6 299.17 L604.1 299.33 L604.6 299.52 L605.1 299.74 L605.6 299.98 L606.1 300.24 L606.6 300.53 L607.1 300.83 L607.6 301.15 L608.1 301.48 L608.6 301.82 L609.1 302.16 L609.6 302.52 L610.1 302.88 L610.6 303.23 L611.1 303.59 L611.6 303.95 L612.1 304.3 L612.6 304.64 L613.1 304.98 L613.6 305.31 L614.1 305.63 L614.6 305.93 L615.1 306.23 L615.6 306.51 L616.1 306.78 L616.6 307.04 L617.1 307.28 L617.6 307.51 L618.1 307.73 L618.6 307.93 L619.1 308.13 L619.6 308.3 L620.1 308.47 L620.6 308.62 L621.1 308.76 L621.6 308.89 L622.1 309.01 L622.6 309.12 L623.1 309.22 L623.6 309.31 L624.1 309.4 L624.6 309.47 L625.1 309.54 L625.6 309.61 L626.1 309.66 L626.6 309.72 L627.1 309.76 L627.6 309.8 L628.1 309.84 L628.6 309.88 L629.1 309.91 L629.6 309.94 L630.1 309.96 L630.6 309.99 L631.1 310.01 L631.6 310.02 L632.1 310.04 L632.6 310.06 L633.1 310.07 L633.6 310.08 L634.1 310.09 L634.6 310.1 L635.1 310.11 L635.6 310.12 L636.1 310.13 L636.6 310.14 L637.1 310.14 L637.6 310.15 L638.1 310.15 L638.6 310.16 L639.1 310.16 L639.6 310.16 L640.1 310.17 L640.6 310.17 L641.1 310.17 L641.6 310.18 L642.1 310.18 L642.6 310.18 L643.1 310.18 L643.6 310.18 L644.1 310.19 L644.6 310.19 L645.1 310.19 L645.6 310.19 L646.1 310.19 L646.6 310.19 L647.1 310.19 L647.6 310.19 L648.1 310.19 L648.6 310.19 L649.1 310.19 L649.6 310.2 L650.1 310.2 L650.6 310.2 L651.1 310.2 L651.6 310.2 L652.1 310.2 L652.6 310.2 L653.1 310.2 L653.6 310.2 L654.1 310.2 L654.6 310.2 L655.1 310.2 L655.6 310.2 L656.1 310.2 L656.6 310.2 L657.1 310.2 L657.6 310.2 L658.1 310.2 L658.6 310.2 L659.1 310.2 L659.6 310.2 L660.1 310.2 L660.6 310.2 L661.1 310.2 L661.6 310.2 L662.1 310.2 L662.6 310.2 L663.1 310.2 L663.6 310.2 L664.1 310.2 L664.6 310.2 L665.1 310.2 L665.6 310.2 L666.1 310.2 L666.6 310.2 L667.1 310.2 L667.6 310.2 L668.1 310.2 L668.6 310.2 L669.1 310.2 L669.6 310.2 L670.1 310.2 L670.6 310.2 L671.1 310.2 L671.6 310.2 L672.1 310.2 L672.6 310.2 L673.1 310.2 L673.6 310.2 L674.1 310.2 L674.6 310.2 L674.6 310.2 L674.1 310.2 L673.6 310.2 L673.1 310.2 L672.6 310.2 L672.1 310.2 L671.6 310.2 L671.1 310.2 L670.6 310.2 L670.1 310.2 L669.6 310.2 L669.1 310.2 L668.6 310.2 L668.1 310.2 L667.6 310.2 L667.1 310.2 L666.6 310.2 L666.1 310.2 L665.6 310.2 L665.1 310.2 L664.6 310.2 L664.1 310.2 L663.6 310.2 L663.1 310.2 L662.6 310.2 L662.1 310.2 L661.6 310.2 L661.1 310.2 L660.6 310.2 L660.1 310.2 L659.6 310.2 L659.1 310.2 L658.6 310.2 L658.1 310.2 L657.6 310.2 L657.1 310.2 L656.6 310.2 L656.1 310.2 L655.6 310.2 L655.1 310.2 L654.6 310.2 L654.1 310.2 L653.6 310.2 L653.1 310.2 L652.6 310.2 L652.1 310.2 L651.6 310.2 L651.1 310.2 L650.6 310.2 L650.1 310.2 L649.6 310.2 L649.1 310.19 L648.6 310.19 L648.1 310.19 L647.6 310.19 L647.1 310.19 L646.6 310.19 L646.1 310.19 L645.6 310.19 L645.1 310.19 L644.6 310.19 L644.1 310.19 L643.6 310.18 L643.1 310.18 L642.6 310.18 L642.1 310.18 L641.6 310.18 L641.1 310.17 L640.6 310.17 L640.1 310.17 L639.6 310.16 L639.1 310.16 L638.6 310.16 L638.1 310.15 L637.6 310.15 L637.1 310.14 L636.6 310.14 L636.1 310.13 L635.6 310.12 L635.1 310.11 L634.6 310.11 L634.1 310.1 L633.6 310.09 L633.1 310.07 L632.6 310.06 L632.1 310.05 L631.6 310.03 L631.1 310.01 L630.6 310 L630.1 309.97 L629.6 309.95 L629.1 309.93 L628.6 309.9 L628.1 309.87 L627.6 309.84 L627.1 309.81 L626.6 309.77 L626.1 309.73 L625.6 309.69 L625.1 309.64 L624.6 309.59 L624.1 309.54 L623.6 309.48 L623.1 309.42 L622.6 309.36 L622.1 309.29 L621.6 309.22 L621.1 309.14 L620.6 309.06 L620.1 308.98 L619.6 308.89 L619.1 308.8 L618.6 308.71 L618.1 308.61 L617.6 308.52 L617.1 308.42 L616.6 308.32 L616.1 308.22 L615.6 308.12 L615.1 308.02 L614.6 307.92 L614.1 307.82 L613.6 307.73 L613.1 307.64 L612.6 307.55 L612.1 307.46 L611.6 307.37 L611.1 307.29 L610.6 307.21 L610.1 307.14 L609.6 307.07 L609.1 307 L608.6 306.94 L608.1 306.88 L607.6 306.83 L607.1 306.78 L606.6 306.73 L606.1 306.69 L605.6 306.64 L605.1 306.61 L604.6 306.57 L604.1 306.54 L603.6 306.51 L603.1 306.48 L602.6 306.46 L602.1 306.43 L601.6 306.41 L601.1 306.39 L600.6 306.38 L600.1 306.36 L599.6 306.35 L599.1 306.33 L598.6 306.32 L598.1 306.31 L597.6 306.3 L597.1 306.29 L596.6 306.28 L596.1 306.27 L595.6 306.27 L595.1 306.26 L594.6 306.25 L594.1 306.25 L593.6 306.24 L593.1 306.24 L592.6 306.24 L592.1 306.23 L591.6 306.23 L591.1 306.23 L590.6 306.22 L590.1 306.22 L589.6 306.22 L589.1 306.22 L588.6 306.22 L588.1 306.22 L587.6 306.21 L587.1 306.21 L586.6 306.21 L586.1 306.21 L585.6 306.21 L585.1 306.21 L584.6 306.21 L584.1 306.21 L583.6 306.21 L583.1 306.21 L582.6 306.21 L582.1 306.2 L581.6 306.2 L581.1 306.2 L580.6 306.2 L580.1 306.2 L579.6 306.2 L579.1 306.2 L578.6 306.2 L578.1 306.2 L577.6 306.2 L577.1 306.2 L576.6 306.2 L576.1 306.2 L575.6 306.2 L575.1 306.2 L574.6 306.2 L574.1 306.2 L573.6 306.2 L573.1 306.2 L572.6 306.2 L572.1 306.2 L571.6 306.2 L571.1 306.2 L570.6 306.2 L570.1 306.2 L569.6 306.2 L569.1 306.2 L568.6 306.2 L568.1 306.2 L567.6 306.2 L567.1 306.2 L566.6 306.2 L566.1 306.2 L565.6 306.2 L565.1 306.2 L564.6 306.2 L564.1 306.2 L563.6 306.2 L563.1 306.2 L562.6 306.2 L562.1 306.2 L561.6 306.2 L561.1 306.2 L560.6 306.2 L560.1 306.2 L559.6 306.2 L559.1 306.2 L558.6 306.2 L558.1 306.2 L557.6 306.2 L557.1 306.2 L556.6 306.2 L556.1 306.2 L555.6 306.2 L555.1 306.2 L554.6 306.2 L554.1 306.2 L553.6 306.2 L553.1 306.2 L552.6 306.2 L552.1 306.2 L551.6 306.2 L551.1 306.2 L550.6 306.2 L550.1 306.2 L549.6 306.2 Z" stroke="none" stroke-width="1" fill="#f0b8b0" fill-opacity="0.75"/>
<path d="M549.6 306.18 L550.1 306.18 L550.6 306.18 L551.1 306.18 L551.6 306.18 L552.1 306.18 L552.6 306.18 L553.1 306.18 L553.6 306.18 L554.1 306.18 L554.6 306.18 L555.1 306.18 L555.6 306.18 L556.1 306.17 L556.6 306.17 L557.1 306.17 L557.6 306.17 L558.1 306.17 L558.6 306.17 L559.1 306.17 L559.6 306.17 L560.1 306.17 L560.6 306.17 L561.1 306.17 L561.6 306.17 L562.1 306.17 L562.6 306.17 L563.1 306.17 L563.6 306.17 L564.1 306.17 L564.6 306.17 L565.1 306.17 L565.6 306.17 L566.1 306.17 L566.6 306.17 L567.1 306.17 L567.6 306.16 L568.1 306.16 L568.6 306.16 L569.1 306.16 L569.6 306.16 L570.1 306.16 L570.6 306.16 L571.1 306.16 L571.6 306.16 L572.1 306.16 L572.6 306.16 L573.1 306.16 L573.6 306.16 L574.1 306.16 L574.6 306.16 L575.1 306.15 L575.6 306.15 L576.1 306.15 L576.6 306.15 L577.1 306.15 L577.6 306.15 L578.1 306.15 L578.6 306.15 L579.1 306.15 L579.6 306.15 L580.1 306.15 L580.6 306.15 L581.1 306.14 L581.6 306.14 L582.1 306.14 L582.6 306.14 L583.1 306.14 L583.6 306.14 L584.1 306.14 L584.6 306.14 L585.1 306.14 L585.6 306.14 L586.1 306.14 L586.6 306.14 L587.1 306.14 L587.6 306.13 L588.1 306.13 L588.6 306.13 L589.1 306.13 L589.6 306.13 L590.1 306.13 L590.6 306.13 L591.1 306.13 L591.6 306.13 L592.1 306.13 L592.6 306.13 L593.1 306.14 L593.6 306.14 L594.1 306.14 L594.6 306.14 L595.1 306.14 L595.6 306.14 L596.1 306.15 L596.6 306.15 L597.1 306.16 L597.6 306.16 L598.1 306.17 L598.6 306.17 L599.1 306.18 L599.6 306.19 L600.1 306.2 L600.6 306.21 L601.1 306.22 L601.6 306.23 L602.1 306.24 L602.6 306.26 L603.1 306.28 L603.6 306.3 L604.1 306.32 L604.6 306.34 L605.1 306.37 L605.6 306.39 L606.1 306.42 L606.6 306.46 L607.1 306.49 L607.6 306.53 L608.1 306.56 L608.6 306.61 L609.1 306.65 L609.6 306.69 L610.1 306.73 L610.6 306.77 L611.1 306.81 L611.6 306.84 L612.1 306.86 L612.6 306.87 L613.1 306.86 L613.6 306.82 L614.1 306.75 L614.6 306.64 L615.1 306.48 L615.6 306.24 L616.1 305.93 L616.6 305.52 L617.1 305 L617.6 304.34 L618.1 303.53 L618.6 302.56 L619.1 301.4 L619.6 300.05 L620.1 298.5 L620.6 296.74 L621.1 294.77 L621.6 292.62 L622.1 290.29 L622.6 287.82 L623.1 285.24 L623.6 282.6 L624.1 279.95 L624.6 277.35 L625.1 274.87 L625.6 272.58 L626.1 270.58 L626.6 268.93 L627.1 267.72 L627.6 267.02 L628.1 266.88 L628.6 267.31 L629.1 268.28 L629.6 269.73 L630.1 271.6 L630.6 273.8 L631.1 276.23 L631.6 278.84 L632.1 281.54 L632.6 284.27 L633.1 286.96 L633.6 289.58 L634.1 292.08 L634.6 294.42 L635.1 296.59 L635.6 298.56 L636.1 300.33 L636.6 301.9 L637.1 303.27 L637.6 304.45 L638.1 305.45 L638.6 306.3 L639.1 307 L639.6 307.58 L640.1 308.05 L640.6 308.44 L641.1 308.74 L641.6 308.98 L642.1 309.18 L642.6 309.33 L643.1 309.45 L643.6 309.54 L644.1 309.61 L644.6 309.67 L645.1 309.72 L645.6 309.76 L646.1 309.79 L646.6 309.82 L647.1 309.84 L647.6 309.86 L648.1 309.88 L648.6 309.9 L649.1 309.91 L649.6 309.93 L650.1 309.94 L650.6 309.95 L651.1 309.96 L651.6 309.97 L652.1 309.98 L652.6 309.99 L653.1 310 L653.6 310 L654.1 310.01 L654.6 310.02 L655.1 310.03 L655.6 310.03 L656.1 310.04 L656.6 310.04 L657.1 310.05 L657.6 310.05 L658.1 310.06 L658.6 310.06 L659.1 310.07 L659.6 310.07 L660.1 310.08 L660.6 310.08 L661.1 310.08 L661.6 310.09 L662.1 310.09 L662.6 310.09 L663.1 310.1 L663.6 310.1 L664.1 310.1 L664.6 310.1 L665.1 310.11 L665.6 310.11 L666.1 310.11 L666.6 310.11 L667.1 310.12 L667.6 310.12 L668.1 310.12 L668.6 310.12 L669.1 310.12 L669.6 310.13 L670.1 310.13 L670.6 310.13 L671.1 310.13 L671.6 310.13 L672.1 310.13 L672.6 310.13 L673.1 310.14 L673.6 310.14 L674.1 310.14 L674.6 310.14 L674.6 310.2 L674.1 310.2 L673.6 310.2 L673.1 310.2 L672.6 310.2 L672.1 310.2 L671.6 310.2 L671.1 310.2 L670.6 310.2 L670.1 310.2 L669.6 310.2 L669.1 310.2 L668.6 310.2 L668.1 310.2 L667.6 310.2 L667.1 310.2 L666.6 310.2 L666.1 310.2 L665.6 310.2 L665.1 310.2 L664.6 310.2 L664.1 310.2 L663.6 310.2 L663.1 310.2 L662.6 310.2 L662.1 310.2 L661.6 310.2 L661.1 310.2 L660.6 310.2 L660.1 310.2 L659.6 310.2 L659.1 310.2 L658.6 310.2 L658.1 310.2 L657.6 310.2 L657.1 310.2 L656.6 310.2 L656.1 310.2 L655.6 310.2 L655.1 310.2 L654.6 310.2 L654.1 310.2 L653.6 310.2 L653.1 310.2 L652.6 310.2 L652.1 310.2 L651.6 310.2 L651.1 310.2 L650.6 310.2 L650.1 310.2 L649.6 310.2 L649.1 310.19 L648.6 310.19 L648.1 310.19 L647.6 310.19 L647.1 310.19 L646.6 310.19 L646.1 310.19 L645.6 310.19 L645.1 310.19 L644.6 310.19 L644.1 310.19 L643.6 310.18 L643.1 310.18 L642.6 310.18 L642.1 310.18 L641.6 310.18 L641.1 310.17 L640.6 310.17 L640.1 310.17 L639.6 310.16 L639.1 310.16 L638.6 310.16 L638.1 310.15 L637.6 310.15 L637.1 310.14 L636.6 310.14 L636.1 310.13 L635.6 310.12 L635.1 310.11 L634.6 310.11 L634.1 310.1 L633.6 310.09 L633.1 310.07 L632.6 310.06 L632.1 310.05 L631.6 310.03 L631.1 310.01 L630.6 310 L630.1 309.97 L629.6 309.95 L629.1 309.93 L628.6 309.9 L628.1 309.87 L627.6 309.84 L627.1 309.81 L626.6 309.77 L626.1 309.73 L625.6 309.69 L625.1 309.64 L624.6 309.59 L624.1 309.54 L623.6 309.48 L623.1 309.42 L622.6 309.36 L622.1 309.29 L621.6 309.22 L621.1 309.14 L620.6 309.06 L620.1 308.98 L619.6 308.89 L619.1 308.8 L618.6 308.71 L618.1 308.61 L617.6 308.52 L617.1 308.42 L616.6 308.32 L616.1 308.22 L615.6 308.12 L615.1 308.02 L614.6 307.92 L614.1 307.82 L613.6 307.73 L613.1 307.64 L612.6 307.55 L612.1 307.46 L611.6 307.37 L611.1 307.29 L610.6 307.21 L610.1 307.14 L609.6 307.07 L609.1 307 L608.6 306.94 L608.1 306.88 L607.6 306.83 L607.1 306.78 L606.6 306.73 L606.1 306.69 L605.6 306.64 L605.1 306.61 L604.6 306.57 L604.1 306.54 L603.6 306.51 L603.1 306.48 L602.6 306.46 L602.1 306.43 L601.6 306.41 L601.1 306.39 L600.6 306.38 L600.1 306.36 L599.6 306.35 L599.1 306.33 L598.6 306.32 L598.1 306.31 L597.6 306.3 L597.1 306.29 L596.6 306.28 L596.1 306.27 L595.6 306.27 L595.1 306.26 L594.6 306.25 L594.1 306.25 L593.6 306.24 L593.1 306.24 L592.6 306.24 L592.1 306.23 L591.6 306.23 L591.1 306.23 L590.6 306.22 L590.1 306.22 L589.6 306.22 L589.1 306.22 L588.6 306.22 L588.1 306.22 L587.6 306.21 L587.1 306.21 L586.6 306.21 L586.1 306.21 L585.6 306.21 L585.1 306.21 L584.6 306.21 L584.1 306.21 L583.6 306.21 L583.1 306.21 L582.6 306.21 L582.1 306.2 L581.6 306.2 L581.1 306.2 L580.6 306.2 L580.1 306.2 L579.6 306.2 L579.1 306.2 L578.6 306.2 L578.1 306.2 L577.6 306.2 L577.1 306.2 L576.6 306.2 L576.1 306.2 L575.6 306.2 L575.1 306.2 L574.6 306.2 L574.1 306.2 L573.6 306.2 L573.1 306.2 L572.6 306.2 L572.1 306.2 L571.6 306.2 L571.1 306.2 L570.6 306.2 L570.1 306.2 L569.6 306.2 L569.1 306.2 L568.6 306.2 L568.1 306.2 L567.6 306.2 L567.1 306.2 L566.6 306.2 L566.1 306.2 L565.6 306.2 L565.1 306.2 L564.6 306.2 L564.1 306.2 L563.6 306.2 L563.1 306.2 L562.6 306.2 L562.1 306.2 L561.6 306.2 L561.1 306.2 L560.6 306.2 L560.1 306.2 L559.6 306.2 L559.1 306.2 L558.6 306.2 L558.1 306.2 L557.6 306.2 L557.1 306.2 L556.6 306.2 L556.1 306.2 L555.6 306.2 L555.1 306.2 L554.6 306.2 L554.1 306.2 L553.6 306.2 L553.1 306.2 L552.6 306.2 L552.1 306.2 L551.6 306.2 L551.1 306.2 L550.6 306.2 L550.1 306.2 L549.6 306.2 Z" stroke="none" stroke-width="1" fill="#b8c4f4" fill-opacity="0.8"/>
<path d="M549.6 305.58 L550.1 305.58 L550.6 305.58 L551.1 305.58 L551.6 305.58 L552.1 305.58 L552.6 305.58 L553.1 305.58 L553.6 305.58 L554.1 305.58 L554.6 305.58 L555.1 305.58 L555.6 305.58 L556.1 305.57 L556.6 305.57 L557.1 305.57 L557.6 305.57 L558.1 305.57 L558.6 305.57 L559.1 305.57 L559.6 305.57 L560.1 305.57 L560.6 305.57 L561.1 305.57 L561.6 305.57 L562.1 305.57 L562.6 305.57 L563.1 305.57 L563.6 305.57 L564.1 305.57 L564.6 305.57 L565.1 305.57 L565.6 305.57 L566.1 305.57 L566.6 305.57 L567.1 305.56 L567.6 305.56 L568.1 305.56 L568.6 305.56 L569.1 305.56 L569.6 305.56 L570.1 305.56 L570.6 305.56 L571.1 305.55 L571.6 305.55 L572.1 305.55 L572.6 305.55 L573.1 305.54 L573.6 305.54 L574.1 305.53 L574.6 305.53 L575.1 305.52 L575.6 305.51 L576.1 305.5 L576.6 305.49 L577.1 305.48 L577.6 305.46 L578.1 305.44 L578.6 305.42 L579.1 305.4 L579.6 305.37 L580.1 305.33 L580.6 305.3 L581.1 305.25 L581.6 305.2 L582.1 305.14 L582.6 305.08 L583.1 305 L583.6 304.92 L584.1 304.83 L584.6 304.72 L585.1 304.61 L585.6 304.48 L586.1 304.34 L586.6 304.19 L587.1 304.03 L587.6 303.85 L588.1 303.67 L588.6 303.46 L589.1 303.25 L589.6 303.02 L590.1 302.78 L590.6 302.53 L591.1 302.27 L591.6 302 L592.1 301.72 L592.6 301.44 L593.1 301.16 L593.6 300.87 L594.1 300.58 L594.6 300.3 L595.1 300.02 L595.6 299.75 L596.1 299.5 L596.6 299.25 L597.1 299.02 L597.6 298.81 L598.1 298.62 L598.6 298.46 L599.1 298.31 L599.6 298.2 L600.1 298.11 L600.6 298.05 L601.1 298.03 L601.6 298.03 L602.1 298.07 L602.6 298.13 L603.1 298.23 L603.6 298.35 L604.1 298.51 L604.6 298.69 L605.1 298.9 L605.6 299.13 L606.1 299.38 L606.6 299.65 L607.1 299.94 L607.6 300.24 L608.1 300.56 L608.6 300.88 L609.1 301.21 L609.6 301.54 L610.1 301.87 L610.6 302.19 L611.1 302.51 L611.6 302.81 L612.1 303.1 L612.6 303.36 L613.1 303.6 L613.6 303.8 L614.1 303.95 L614.6 304.05 L615.1 304.08 L615.6 304.04 L616.1 303.89 L616.6 303.64 L617.1 303.26 L617.6 302.74 L618.1 302.05 L618.6 301.19 L619.1 300.13 L619.6 298.86 L620.1 297.39 L620.6 295.7 L621.1 293.8 L621.6 291.7 L622.1 289.42 L622.6 286.99 L623.1 284.45 L623.6 281.84 L624.1 279.21 L624.6 276.63 L625.1 274.17 L625.6 271.9 L626.1 269.91 L626.6 268.27 L627.1 267.07 L627.6 266.39 L628.1 266.25 L628.6 266.69 L629.1 267.66 L629.6 269.12 L630.1 270.99 L630.6 273.19 L631.1 275.63 L631.6 278.23 L632.1 280.93 L632.6 283.66 L633.1 286.36 L633.6 288.98 L634.1 291.48 L634.6 293.82 L635.1 295.99 L635.6 297.96 L636.1 299.73 L636.6 301.3 L637.1 302.67 L637.6 303.85 L638.1 304.85 L638.6 305.7 L639.1 306.4 L639.6 306.98 L640.1 307.45 L640.6 307.84 L641.1 308.14 L641.6 308.38 L642.1 308.58 L642.6 308.73 L643.1 308.85 L643.6 308.94 L644.1 309.01 L644.6 309.07 L645.1 309.12 L645.6 309.16 L646.1 309.19 L646.6 309.22 L647.1 309.24 L647.6 309.26 L648.1 309.28 L648.6 309.3 L649.1 309.31 L649.6 309.33 L650.1 309.34 L650.6 309.35 L651.1 309.36 L651.6 309.37 L652.1 309.38 L652.6 309.39 L653.1 309.4 L653.6 309.4 L654.1 309.41 L654.6 309.42 L655.1 309.43 L655.6 309.43 L656.1 309.44 L656.6 309.44 L657.1 309.45 L657.6 309.45 L658.1 309.46 L658.6 309.46 L659.1 309.47 L659.6 309.47 L660.1 309.48 L660.6 309.48 L661.1 309.48 L661.6 309.49 L662.1 309.49 L662.6 309.49 L663.1 309.5 L663.6 309.5 L664.1 309.5 L664.6 309.5 L665.1 309.51 L665.6 309.51 L666.1 309.51 L666.6 309.51 L667.1 309.52 L667.6 309.52 L668.1 309.52 L668.6 309.52 L669.1 309.52 L669.6 309.53 L670.1 309.53 L670.6 309.53 L671.1 309.53 L671.6 309.53 L672.1 309.53 L672.6 309.53 L673.1 309.54 L673.6 309.54 L674.1 309.54 L674.6 309.54" stroke="#8a8a8a" stroke-width="1" fill="none" />
<path d="M596.1 300.22 L596.6 299.98 L597.1 299.76 L597.6 299.55 L598.1 299.36 L598.6 299.2 L599.1 299.07 L599.6 298.96 L600.1 298.88 L600.6 298.82 L601.1 298.8 L601.6 298.81 L602.1 298.86 L602.6 298.93 L603.1 299.03 L603.6 299.17 L604.1 299.33 L604.6 299.52 L605.1 299.74 L605.6 299.98 L606.1 300.24 L606.6 300.53 L607.1 300.83 L607.6 301.15 L608.1 301.48 L608.6 301.82 L609.1 302.16 L609.6 302.52 L610.1 302.88 L610.6 303.23 L611.1 303.59 L611.6 303.95 L612.1 304.3 L612.6 304.64 L613.1 304.98 L613.6 305.31 L614.1 305.63 L614.6 305.93 L615.1 306.23 L615.6 306.51 L616.1 306.78 L616.6 307.04 L617.1 307.28 L617.6 307.51 L618.1 307.73 L618.6 307.93 L619.1 308.13 L619.6 308.3 L620.1 308.47 L620.6 308.62 L621.1 308.76 L621.6 308.89 L622.1 309.01 L622.6 309.12 L623.1 309.22 L623.6 309.31 L624.1 309.4 L624.6 309.47 L625.1 309.54 L625.6 309.61 L626.1 309.66 L626.6 309.72 L627.1 309.76 L627.6 309.8 L628.1 309.84 L628.6 309.88 L629.1 309.91 L629.6 309.94 L630.1 309.96 L630.6 309.99 L631.1 310.01 L631.6 310.02 L632.1 310.04 L632.6 310.06 L633.1 310.07 L633.6 310.08 L634.1 310.09 L634.6 310.1 L635.1 310.11 L635.6 310.12 L636.1 310.13 L636.6 310.14 L637.1 310.14 L637.6 310.15 L638.1 310.15 L638.6 310.16 L639.1 310.16 L639.6 310.16 L640.1 310.17 L640.6 310.17 L641.1 310.17 L641.6 310.18 L642.1 310.18 L642.6 310.18 L643.1 310.18 L643.6 310.18 L644.1 310.19 L644.6 310.19 L645.1 310.19 L645.6 310.19 L646.1 310.19 L646.6 310.19 L647.1 310.19 L647.6 310.19 L648.1 310.19 L648.6 310.19 L649.1 310.19 L649.6 310.2 L650.1 310.2 L650.6 310.2 L651.1 310.2 L651.6 310.2 L652.1 310.2 L652.6 310.2 L653.1 310.2 L653.6 310.2 L654.1 310.2 L654.6 310.2 L655.1 310.2 L655.6 310.2 L656.1 310.2 L656.6 310.2 L657.1 310.2 L657.6 310.2 L658.1 310.2 L658.6 310.2 L659.1 310.2 L659.6 310.2 L660.1 310.2 L660.6 310.2 L661.1 310.2 L661.6 310.2 L662.1 310.2 L662.6 310.2 L663.1 310.2 L663.6 310.2 L664.1 310.2 L664.6 310.2 L665.1 310.2 L665.6 310.2 L666.1 310.2 L666.6 310.2 L667.1 310.2 L667.6 310.2 L668.1 310.2 L668.6 310.2 L669.1 310.2 L669.6 310.2 L670.1 310.2 L670.6 310.2 L671.1 310.2 L671.6 310.2 L672.1 310.2 L672.6 310.2 L673.1 310.2 L673.6 310.2 L674.1 310.2 L674.6 310.2" stroke="#e82020" stroke-width="1.3" fill="none" />
<path d="M549.6 306.2 L550.1 306.2 L550.6 306.2 L551.1 306.2 L551.6 306.2 L552.1 306.2 L552.6 306.2 L553.1 306.2 L553.6 306.2 L554.1 306.2 L554.6 306.2 L555.1 306.2 L555.6 306.2 L556.1 306.2 L556.6 306.2 L557.1 306.2 L557.6 306.2 L558.1 306.2 L558.6 306.2 L559.1 306.2 L559.6 306.2 L560.1 306.2 L560.6 306.2 L561.1 306.2 L561.6 306.2 L562.1 306.2 L562.6 306.2 L563.1 306.2 L563.6 306.2 L564.1 306.2 L564.6 306.2 L565.1 306.2 L565.6 306.2 L566.1 306.2 L566.6 306.2 L567.1 306.2 L567.6 306.2 L568.1 306.2 L568.6 306.2 L569.1 306.2 L569.6 306.2 L570.1 306.2 L570.6 306.2 L571.1 306.19 L571.6 306.19 L572.1 306.19 L572.6 306.19 L573.1 306.19 L573.6 306.18 L574.1 306.18 L574.6 306.17 L575.1 306.17 L575.6 306.16 L576.1 306.15 L576.6 306.14 L577.1 306.13 L577.6 306.11 L578.1 306.1 L578.6 306.08 L579.1 306.05 L579.6 306.02 L580.1 305.99 L580.6 305.95 L581.1 305.91 L581.6 305.86 L582.1 305.8 L582.6 305.74 L583.1 305.67 L583.6 305.58 L584.1 305.49 L584.6 305.39 L585.1 305.28 L585.6 305.15 L586.1 305.02 L586.6 304.87 L587.1 304.71 L587.6 304.53 L588.1 304.35 L588.6 304.15 L589.1 303.93 L589.6 303.71 L590.1 303.47 L590.6 303.22 L591.1 302.96 L591.6 302.7 L592.1 302.42 L592.6 302.14 L593.1 301.86 L593.6 301.58 L594.1 301.29 L594.6 301.02 L595.1 300.74 L595.6 300.48 L596.1 300.22 L596.6 299.98" stroke="#8a1010" stroke-width="1.3" fill="none" />
<path d="M549.6 306.18 L550.1 306.18 L550.6 306.18 L551.1 306.18 L551.6 306.18 L552.1 306.18 L552.6 306.18 L553.1 306.18 L553.6 306.18 L554.1 306.18 L554.6 306.18 L555.1 306.18 L555.6 306.18 L556.1 306.17 L556.6 306.17 L557.1 306.17 L557.6 306.17 L558.1 306.17 L558.6 306.17 L559.1 306.17 L559.6 306.17 L560.1 306.17 L560.6 306.17 L561.1 306.17 L561.6 306.17 L562.1 306.17 L562.6 306.17 L563.1 306.17 L563.6 306.17 L564.1 306.17 L564.6 306.17 L565.1 306.17 L565.6 306.17 L566.1 306.17 L566.6 306.17 L567.1 306.17 L567.6 306.16 L568.1 306.16 L568.6 306.16 L569.1 306.16 L569.6 306.16 L570.1 306.16 L570.6 306.16 L571.1 306.16 L571.6 306.16 L572.1 306.16 L572.6 306.16 L573.1 306.16 L573.6 306.16 L574.1 306.16 L574.6 306.16 L575.1 306.15 L575.6 306.15 L576.1 306.15 L576.6 306.15 L577.1 306.15 L577.6 306.15 L578.1 306.15 L578.6 306.15 L579.1 306.15 L579.6 306.15 L580.1 306.15 L580.6 306.15 L581.1 306.14 L581.6 306.14 L582.1 306.14 L582.6 306.14 L583.1 306.14 L583.6 306.14 L584.1 306.14 L584.6 306.14 L585.1 306.14 L585.6 306.14 L586.1 306.14 L586.6 306.14 L587.1 306.14 L587.6 306.13 L588.1 306.13 L588.6 306.13 L589.1 306.13 L589.6 306.13 L590.1 306.13 L590.6 306.13 L591.1 306.13 L591.6 306.13 L592.1 306.13 L592.6 306.13 L593.1 306.14 L593.6 306.14 L594.1 306.14 L594.6 306.14 L595.1 306.14 L595.6 306.14 L596.1 306.15 L596.6 306.15 L597.1 306.16 L597.6 306.16 L598.1 306.17 L598.6 306.17 L599.1 306.18 L599.6 306.19 L600.1 306.2 L600.6 306.21 L601.1 306.22 L601.6 306.23 L602.1 306.24 L602.6 306.26 L603.1 306.28 L603.6 306.3 L604.1 306.32 L604.6 306.34 L605.1 306.37 L605.6 306.39 L606.1 306.42 L606.6 306.46 L607.1 306.49 L607.6 306.53 L608.1 306.56 L608.6 306.61 L609.1 306.65 L609.6 306.69 L610.1 306.73 L610.6 306.77 L611.1 306.81 L611.6 306.84 L612.1 306.86 L612.6 306.87 L613.1 306.86 L613.6 306.82 L614.1 306.75 L614.6 306.64 L615.1 306.48 L615.6 306.24 L616.1 305.93 L616.6 305.52 L617.1 305 L617.6 304.34 L618.1 303.53 L618.6 302.56 L619.1 301.4 L619.6 300.05 L620.1 298.5 L620.6 296.74 L621.1 294.77 L621.6 292.62 L622.1 290.29 L622.6 287.82 L623.1 285.24 L623.6 282.6 L624.1 279.95 L624.6 277.35 L625.1 274.87 L625.6 272.58 L626.1 270.58 L626.6 268.93 L627.1 267.72 L627.6 267.02 L628.1 266.88 L628.6 267.31 L629.1 268.28 L629.6 269.73 L630.1 271.6 L630.6 273.8 L631.1 276.23 L631.6 278.84 L632.1 281.54 L632.6 284.27 L633.1 286.96 L633.6 289.58 L634.1 292.08 L634.6 294.42 L635.1 296.59 L635.6 298.56 L636.1 300.33 L636.6 301.9 L637.1 303.27 L637.6 304.45 L638.1 305.45 L638.6 306.3 L639.1 307 L639.6 307.58 L640.1 308.05 L640.6 308.44 L641.1 308.74 L641.6 308.98 L642.1 309.18 L642.6 309.33 L643.1 309.45 L643.6 309.54 L644.1 309.61 L644.6 309.67 L645.1 309.72 L645.6 309.76 L646.1 309.79 L646.6 309.82 L647.1 309.84 L647.6 309.86 L648.1 309.88 L648.6 309.9 L649.1 309.91 L649.6 309.93 L650.1 309.94 L650.6 309.95 L651.1 309.96 L651.6 309.97 L652.1 309.98 L652.6 309.99 L653.1 310 L653.6 310 L654.1 310.01 L654.6 310.02 L655.1 310.03 L655.6 310.03 L656.1 310.04 L656.6 310.04 L657.1 310.05 L657.6 310.05 L658.1 310.06 L658.6 310.06 L659.1 310.07 L659.6 310.07 L660.1 310.08 L660.6 310.08 L661.1 310.08 L661.6 310.09 L662.1 310.09 L662.6 310.09 L663.1 310.1 L663.6 310.1 L664.1 310.1 L664.6 310.1 L665.1 310.11 L665.6 310.11 L666.1 310.11 L666.6 310.11 L667.1 310.12 L667.6 310.12 L668.1 310.12 L668.6 310.12 L669.1 310.12 L669.6 310.13 L670.1 310.13 L670.6 310.13 L671.1 310.13 L671.6 310.13 L672.1 310.13 L672.6 310.13 L673.1 310.14 L673.6 310.14 L674.1 310.14 L674.6 310.14" stroke="#1a1aa0" stroke-width="1.3" fill="none" />
<path d="M549.6 374.5 L675 376 L675 378.4 L549.6 378.4 Z" stroke="none" stroke-width="1" fill="#c8a8d8" fill-opacity="0.75"/>
<path d="M550 375.2 L550.6 375.2 L551.2 375.2 L551.8 375.2 L552.4 375.2 L553 375.2 L553.6 375.2 L554.2 375.2 L554.8 375.2 L555.4 375.2 L556 375.2 L556.6 375.2 L557.2 375.2 L557.8 375.2 L558.4 375.2 L559 375.2 L559.6 375.2 L560.2 375.2 L560.8 375.2 L561.4 375.2 L562 375.2 L562.6 375.2 L563.2 375.2 L563.8 375.2 L564.4 375.2 L565 375.2 L565.6 375.2 L566.2 375.2 L566.8 375.2 L567.4 375.2 L568 375.2 L568.6 375.2 L569.2 375.2 L569.8 375.2 L570.4 375.2 L571 375.2 L571.6 375.2 L572.2 375.2 L572.8 375.2 L573.4 375.2 L574 375.2 L574.6 375.2 L575.2 375.2 L575.8 375.2 L576.4 375.2 L577 375.2 L577.6 375.2 L578.2 375.2 L578.8 375.2 L579.4 375.2 L580 375.2 L580.6 375.2 L581.2 375.2 L581.8 375.2 L582.4 375.2 L583 375.2 L583.6 375.2 L584.2 375.2 L584.8 375.2 L585.4 375.2 L586 375.2 L586.6 375.2 L587.2 375.2 L587.8 375.2 L588.4 375.2 L589 375.2 L589.6 375.2 L590.2 375.2 L590.8 375.2 L591.4 375.2 L592 375.19 L592.6 375.19 L593.2 375.19 L593.8 375.19 L594.4 375.19 L595 375.18 L595.6 375.18 L596.2 375.17 L596.8 375.17 L597.4 375.16 L598 375.15 L598.6 375.14 L599.2 375.13 L599.8 375.12 L600.4 375.1 L601 375.08 L601.6 375.06 L602.2 375.03 L602.8 375 L603.4 374.96 L604 374.92 L604.6 374.87 L605.2 374.82 L605.8 374.76 L606.4 374.69 L607 374.61 L607.6 374.52 L608.2 374.43 L608.8 374.32 L609.4 374.2 L610 374.07 L610.6 373.93 L611.2 373.78 L611.8 373.61 L612.4 373.43 L613 373.25 L613.6 373.04 L614.2 372.83 L614.8 372.61 L615.4 372.38 L616 372.14 L616.6 371.89 L617.2 371.64 L617.8 371.38 L618.4 371.12 L619 370.86 L619.6 370.6 L620.2 370.35 L620.8 370.1 L621.4 369.86 L622 369.63 L622.6 369.41 L623.2 369.21 L623.8 369.03 L624.4 368.87 L625 368.73 L625.6 368.61 L626.2 368.52 L626.8 368.45 L627.4 368.41 L628 368.4 L628.6 368.41 L629.2 368.45 L629.8 368.52 L630.4 368.61 L631 368.73 L631.6 368.87 L632.2 369.03 L632.8 369.21 L633.4 369.41 L634 369.63 L634.6 369.86 L635.2 370.1 L635.8 370.35 L636.4 370.6 L637 370.86 L637.6 371.12 L638.2 371.38 L638.8 371.64 L639.4 371.89 L640 372.14 L640.6 372.38 L641.2 372.61 L641.8 372.83 L642.4 373.04 L643 373.25 L643.6 373.43 L644.2 373.61 L644.8 373.78 L645.4 373.93 L646 374.07 L646.6 374.2 L647.2 374.32 L647.8 374.43 L648.4 374.52 L649 374.61 L649.6 374.69 L650.2 374.76 L650.8 374.82 L651.4 374.87 L652 374.92 L652.6 374.96 L653.2 375 L653.8 375.03 L654.4 375.06 L655 375.08 L655.6 375.1 L656.2 375.12 L656.8 375.13 L657.4 375.14 L658 375.15 L658.6 375.16 L659.2 375.17 L659.8 375.17 L660.4 375.18 L661 375.18 L661.6 375.19 L662.2 375.19 L662.8 375.19 L663.4 375.19 L664 375.19 L664.6 375.2 L665.2 375.2 L665.8 375.2 L666.4 375.2 L667 375.2 L667.6 375.2 L668.2 375.2 L668.8 375.2 L669.4 375.2 L670 375.2 L670.6 375.2 L671.2 375.2 L671.8 375.2 L672.4 375.2 L673 375.2 L673.6 375.2 L674.2 375.2 L674.8 375.2 L674.8 375.2 L550 375.2 Z" stroke="none" stroke-width="1" fill="#f0b8b0" fill-opacity="0.7"/>
<path d="M620.4 369.32 L621 369.07 L621.6 368.84 L622.2 368.62 L622.8 368.41 L623.4 368.22 L624 368.05 L624.6 367.9 L625.2 367.77 L625.8 367.67 L626.4 367.59 L627 367.53 L627.6 367.51 L628.2 367.5 L628.8 367.53 L629.4 367.58 L630 367.66 L630.6 367.77 L631.2 367.9 L631.8 368.05 L632.4 368.22 L633 368.41 L633.6 368.62 L634.2 368.85 L634.8 369.08 L635.4 369.33" stroke="#888" stroke-width="0.9" fill="none" />
<path d="M549.6 375.2 L550.2 375.2 L550.8 375.21 L551.4 375.21 L552 375.22 L552.6 375.22 L553.2 375.22 L553.8 375.23 L554.4 375.23 L555 375.23 L555.6 375.24 L556.2 375.24 L556.8 375.25 L557.4 375.25 L558 375.25 L558.6 375.26 L559.2 375.26 L559.8 375.27 L560.4 375.27 L561 375.27 L561.6 375.28 L562.2 375.28 L562.8 375.28 L563.4 375.29 L564 375.29 L564.6 375.3 L565.2 375.3 L565.8 375.3 L566.4 375.31 L567 375.31 L567.6 375.32 L568.2 375.32 L568.8 375.32 L569.4 375.33 L570 375.33 L570.6 375.33 L571.2 375.34 L571.8 375.34 L572.4 375.35 L573 375.35 L573.6 375.35 L574.2 375.36 L574.8 375.36 L575.4 375.37 L576 375.37 L576.6 375.37 L577.2 375.38 L577.8 375.38 L578.4 375.38 L579 375.39 L579.6 375.39 L580.2 375.4 L580.8 375.4 L581.4 375.4 L582 375.41 L582.6 375.41 L583.2 375.41 L583.8 375.42 L584.4 375.42 L585 375.43 L585.6 375.43 L586.2 375.43 L586.8 375.44 L587.4 375.44 L588 375.44 L588.6 375.45 L589.2 375.45 L589.8 375.46 L590.4 375.46 L591 375.46 L591.6 375.46 L592.2 375.47 L592.8 375.47 L593.4 375.47 L594 375.47 L594.6 375.47 L595.2 375.47 L595.8 375.47 L596.4 375.47 L597 375.47 L597.6 375.47 L598.2 375.46 L598.8 375.45 L599.4 375.45 L600 375.43 L600.6 375.42 L601.2 375.4 L601.8 375.38 L602.4 375.36 L603 375.33 L603.6 375.29 L604.2 375.25 L604.8 375.21 L605.4 375.16 L606 375.1 L606.6 375.03 L607.2 374.95 L607.8 374.86 L608.4 374.77 L609 374.66 L609.6 374.54 L610.2 374.41 L610.8 374.27 L611.4 374.12 L612 373.95 L612.6 373.78 L613.2 373.59 L613.8 373.39 L614.4 373.17 L615 372.95 L615.6 372.72 L616.2 372.48 L616.8 372.24 L617.4 371.99 L618 371.73 L618.6 371.47 L619.2 371.22 L619.8 370.96 L620.4 370.72 L621 370.47 L621.6 370.24 L622.2 370.02 L622.8 369.81 L623.4 369.62 L624 369.45 L624.6 369.3 L625.2 369.17 L625.8 369.07 L626.4 368.99 L627 368.93 L627.6 368.91 L628.2 368.9 L628.8 368.93 L629.4 368.98 L630 369.06 L630.6 369.17 L631.2 369.3 L631.8 369.45 L632.4 369.62 L633 369.81 L633.6 370.02 L634.2 370.25 L634.8 370.48 L635.4 370.73 L636 370.98 L636.6 371.24 L637.2 371.51 L637.8 371.77 L638.4 372.03 L639 372.29 L639.6 372.55 L640.2 372.8 L640.8 373.04 L641.4 373.27 L642 373.5 L642.6 373.71 L643.2 373.91 L643.8 374.1 L644.4 374.27 L645 374.44 L645.6 374.59 L646.2 374.73 L646.8 374.86 L647.4 374.98 L648 375.09 L648.6 375.19 L649.2 375.27 L649.8 375.35 L650.4 375.42 L651 375.49 L651.6 375.54 L652.2 375.59 L652.8 375.64 L653.4 375.67 L654 375.71 L654.6 375.74 L655.2 375.76 L655.8 375.79 L656.4 375.81 L657 375.82 L657.6 375.84 L658.2 375.85 L658.8 375.86 L659.4 375.87 L660 375.88 L660.6 375.89 L661.2 375.9 L661.8 375.91 L662.4 375.91 L663 375.92 L663.6 375.92 L664.2 375.93 L664.8 375.93 L665.4 375.94 L666 375.94 L666.6 375.95 L667.2 375.95 L667.8 375.96 L668.4 375.96 L669 375.96 L669.6 375.97 L670.2 375.97 L670.8 375.98 L671.4 375.98 L672 375.98 L672.6 375.99 L673.2 375.99 L673.8 375.99 L674.4 376" stroke="#8a1010" stroke-width="1.1" fill="none" />
<path d="M549.6 375.2 L550.2 375.2 L550.8 375.21 L551.4 375.21 L552 375.22 L552.6 375.22 L553.2 375.22 L553.8 375.23 L554.4 375.23 L555 375.23 L555.6 375.24 L556.2 375.24 L556.8 375.25 L557.4 375.25 L558 375.25 L558.6 375.26 L559.2 375.26 L559.8 375.27 L560.4 375.27 L561 375.27 L561.6 375.28 L562.2 375.28 L562.8 375.28 L563.4 375.29 L564 375.29 L564.6 375.3 L565.2 375.3 L565.8 375.3 L566.4 375.31 L567 375.31 L567.6 375.32 L568.2 375.32 L568.8 375.32 L569.4 375.33 L570 375.33 L570.6 375.33 L571.2 375.34 L571.8 375.34 L572.4 375.35 L573 375.35 L573.6 375.35 L574.2 375.36 L574.8 375.36 L575.4 375.37 L576 375.37 L576.6 375.37 L577.2 375.38 L577.8 375.38 L578.4 375.38 L579 375.39 L579.6 375.39 L580.2 375.4 L580.8 375.4 L581.4 375.4 L582 375.41 L582.6 375.41 L583.2 375.42 L583.8 375.42 L584.4 375.42 L585 375.43 L585.6 375.43 L586.2 375.43 L586.8 375.44 L587.4 375.44 L588 375.45 L588.6 375.45 L589.2 375.45 L589.8 375.46 L590.4 375.46 L591 375.46 L591.6 375.47 L592.2 375.47 L592.8 375.48 L593.4 375.48 L594 375.48 L594.6 375.49 L595.2 375.49 L595.8 375.5 L596.4 375.5 L597 375.5 L597.6 375.51 L598.2 375.51 L598.8 375.51 L599.4 375.52 L600 375.52 L600.6 375.53 L601.2 375.53 L601.8 375.53 L602.4 375.54 L603 375.54 L603.6 375.55 L604.2 375.55 L604.8 375.55 L605.4 375.56 L606 375.56 L606.6 375.56 L607.2 375.57 L607.8 375.57 L608.4 375.58 L609 375.58 L609.6 375.58 L610.2 375.59 L610.8 375.59 L611.4 375.6 L612 375.6 L612.6 375.6 L613.2 375.61 L613.8 375.61 L614.4 375.61 L615 375.62 L615.6 375.62 L616.2 375.63 L616.8 375.63 L617.4 375.63 L618 375.64 L618.6 375.64 L619.2 375.65 L619.8 375.65 L620.4 375.65 L621 375.66 L621.6 375.66 L622.2 375.66 L622.8 375.67 L623.4 375.66 L624 375.62 L624.6 375.51 L625.2 375.25 L625.8 374.76 L626.4 374.03 L627 373.22 L627.6 372.63 L628.2 372.54 L628.8 372.99 L629.4 373.77 L630 374.56 L630.6 375.15 L631.2 375.49 L631.8 375.65 L632.4 375.71 L633 375.73 L633.6 375.74 L634.2 375.74 L634.8 375.75 L635.4 375.75 L636 375.75 L636.6 375.76 L637.2 375.76 L637.8 375.76 L638.4 375.77 L639 375.77 L639.6 375.78 L640.2 375.78 L640.8 375.78 L641.4 375.79 L642 375.79 L642.6 375.8 L643.2 375.8 L643.8 375.8 L644.4 375.81 L645 375.81 L645.6 375.81 L646.2 375.82 L646.8 375.82 L647.4 375.83 L648 375.83 L648.6 375.83 L649.2 375.84 L649.8 375.84 L650.4 375.85 L651 375.85 L651.6 375.85 L652.2 375.86 L652.8 375.86 L653.4 375.86 L654 375.87 L654.6 375.87 L655.2 375.88 L655.8 375.88 L656.4 375.88 L657 375.89 L657.6 375.89 L658.2 375.9 L658.8 375.9 L659.4 375.9 L660 375.91 L660.6 375.91 L661.2 375.91 L661.8 375.92 L662.4 375.92 L663 375.93 L663.6 375.93 L664.2 375.93 L664.8 375.94 L665.4 375.94 L666 375.94 L666.6 375.95 L667.2 375.95 L667.8 375.96 L668.4 375.96 L669 375.96 L669.6 375.97 L670.2 375.97 L670.8 375.98 L671.4 375.98 L672 375.98 L672.6 375.99 L673.2 375.99 L673.8 375.99 L674.4 376" stroke="#2828f0" stroke-width="1.1" fill="none" />
<line x1="549.6" y1="250.5" x2="549.6" y2="378.5" stroke="#666" stroke-width="0.9" />
<line x1="549.6" y1="312.6" x2="675" y2="312.6" stroke="#666" stroke-width="0.9" />
<line x1="549.6" y1="378.5" x2="675" y2="378.5" stroke="#666" stroke-width="0.9" />
<line x1="580.9" y1="312.6" x2="580.9" y2="315.6" stroke="#666" stroke-width="0.8" />
<line x1="580.9" y1="378.5" x2="580.9" y2="381.5" stroke="#666" stroke-width="0.8" />
<line x1="612.2" y1="312.6" x2="612.2" y2="315.6" stroke="#666" stroke-width="0.8" />
<line x1="612.2" y1="378.5" x2="612.2" y2="381.5" stroke="#666" stroke-width="0.8" />
<line x1="643.5" y1="312.6" x2="643.5" y2="315.6" stroke="#666" stroke-width="0.8" />
<line x1="643.5" y1="378.5" x2="643.5" y2="381.5" stroke="#666" stroke-width="0.8" />
<line x1="674.8" y1="312.6" x2="674.8" y2="315.6" stroke="#666" stroke-width="0.8" />
<line x1="674.8" y1="378.5" x2="674.8" y2="381.5" stroke="#666" stroke-width="0.8" />
<text x="549.6" y="395.33" font-size="9.8" text-anchor="middle" fill="#111" stroke="#111" stroke-width="0.15" >240</text>
<text x="581" y="395.33" font-size="9.8" text-anchor="middle" fill="#111" stroke="#111" stroke-width="0.15" >235</text>
<text x="612.2" y="395.33" font-size="9.8" text-anchor="middle" fill="#111" stroke="#111" stroke-width="0.15" >230</text>
<text x="643.4" y="395.33" font-size="9.8" text-anchor="middle" fill="#111" stroke="#111" stroke-width="0.15" >225</text>
<text x="674.8" y="395.33" font-size="9.8" text-anchor="middle" fill="#111" stroke="#111" stroke-width="0.15" >220</text>
<text x="612.2" y="408.24" font-size="10.1" text-anchor="middle" fill="#111" stroke="#111" stroke-width="0.15" >Binding energy (eV)</text>
<text x="554" y="255.9" font-size="9.4" text-anchor="start" fill="#111" stroke="#111" stroke-width="0.15" >M-PG</text>
<text x="554" y="327.88" font-size="9.4" text-anchor="start" fill="#111" stroke="#111" stroke-width="0.15" >PG-NS</text>
<text x="0.5" y="428.8" font-size="22.5" text-anchor="start" fill="#000" stroke="#000" stroke-width="0.15" >e</text>
<line x1="44.9" y1="422.8" x2="44.9" y2="560.4" stroke="#999" stroke-width="1.3" />
<line x1="41.2" y1="560.4" x2="44.9" y2="560.4" stroke="#777" stroke-width="1" />
<line x1="41.2" y1="540.74" x2="44.9" y2="540.74" stroke="#777" stroke-width="1" />
<line x1="41.2" y1="521.09" x2="44.9" y2="521.09" stroke="#777" stroke-width="1" />
<line x1="41.2" y1="501.43" x2="44.9" y2="501.43" stroke="#777" stroke-width="1" />
<line x1="41.2" y1="481.77" x2="44.9" y2="481.77" stroke="#777" stroke-width="1" />
<line x1="41.2" y1="462.11" x2="44.9" y2="462.11" stroke="#777" stroke-width="1" />
<line x1="41.2" y1="442.46" x2="44.9" y2="442.46" stroke="#777" stroke-width="1" />
<line x1="41.2" y1="422.8" x2="44.9" y2="422.8" stroke="#777" stroke-width="1" />
<text x="39.3" y="564.14" font-size="10.4" text-anchor="end" fill="#111" stroke="#111" stroke-width="0.15" >0</text>
<text x="39.3" y="544.49" font-size="10.4" text-anchor="end" fill="#111" stroke="#111" stroke-width="0.15" >20</text>
<text x="39.3" y="524.83" font-size="10.4" text-anchor="end" fill="#111" stroke="#111" stroke-width="0.15" >40</text>
<text x="39.3" y="505.17" font-size="10.4" text-anchor="end" fill="#111" stroke="#111" stroke-width="0.15" >60</text>
<text x="39.3" y="485.52" font-size="10.4" text-anchor="end" fill="#111" stroke="#111" stroke-width="0.15" >80</text>
<text x="39.3" y="465.86" font-size="10.4" text-anchor="end" fill="#111" stroke="#111" stroke-width="0.15" >100</text>
<text x="39.3" y="446.2" font-size="10.4" text-anchor="end" fill="#111" stroke="#111" stroke-width="0.15" >120</text>
<text x="39.3" y="426.54" font-size="10.4" text-anchor="end" fill="#111" stroke="#111" stroke-width="0.15" >140</text>
<text transform="translate(12.8 491.2) rotate(-90)" x="0" y="3.96" font-size="11" text-anchor="middle" fill="#111" stroke="#111" stroke-width="0.15">Cell viability (%)</text>
<rect x="54.65" y="458.85" width="7.3" height="101.55" fill="#98ec88" stroke="#2ea52e" stroke-width="1.3"/>
<rect x="66.65" y="455.85" width="7.3" height="104.55" fill="#d6bc96" stroke="#a87c48" stroke-width="1.3"/>
<rect x="78.75" y="461.95" width="7.3" height="98.45" fill="#f2c882" stroke="#f09a2a" stroke-width="1.3"/>
<rect x="90.95" y="457.85" width="7.3" height="102.55" fill="#f08a7c" stroke="#f0281e" stroke-width="1.3"/>
<rect x="103.15" y="461.65" width="7.3" height="98.75" fill="#8494f8" stroke="#2a2af0" stroke-width="1.3"/>
<rect x="115.45" y="463.75" width="7.3" height="96.65" fill="#c890d8" stroke="#8a32b4" stroke-width="1.3"/>
<rect x="136.25" y="459.65" width="7.3" height="100.75" fill="#98ec88" stroke="#2ea52e" stroke-width="1.3"/>
<rect x="148.55" y="458.05" width="7.3" height="102.35" fill="#d6bc96" stroke="#a87c48" stroke-width="1.3"/>
<rect x="160.55" y="455.05" width="7.3" height="105.35" fill="#f2c882" stroke="#f09a2a" stroke-width="1.3"/>
<rect x="172.85" y="463.25" width="7.3" height="97.15" fill="#f08a7c" stroke="#f0281e" stroke-width="1.3"/>
<rect x="184.95" y="461.15" width="7.3" height="99.25" fill="#8494f8" stroke="#2a2af0" stroke-width="1.3"/>
<rect x="197.25" y="456.15" width="7.3" height="104.25" fill="#c890d8" stroke="#8a32b4" stroke-width="1.3"/>
<rect x="218.05" y="463.45" width="7.3" height="96.95" fill="#98ec88" stroke="#2ea52e" stroke-width="1.3"/>
<rect x="230.45" y="462.85" width="7.3" height="97.55" fill="#d6bc96" stroke="#a87c48" stroke-width="1.3"/>
<rect x="242.55" y="459.95" width="7.3" height="100.45" fill="#f2c882" stroke="#f09a2a" stroke-width="1.3"/>
<rect x="254.75" y="464.65" width="7.3" height="95.75" fill="#f08a7c" stroke="#f0281e" stroke-width="1.3"/>
<rect x="266.95" y="459.55" width="7.3" height="100.85" fill="#8494f8" stroke="#2a2af0" stroke-width="1.3"/>
<rect x="279.15" y="463.65" width="7.3" height="96.75" fill="#c890d8" stroke="#8a32b4" stroke-width="1.3"/>
<rect x="299.95" y="461.15" width="7.3" height="99.25" fill="#98ec88" stroke="#2ea52e" stroke-width="1.3"/>
<rect x="312.25" y="478.55" width="7.3" height="81.85" fill="#d6bc96" stroke="#a87c48" stroke-width="1.3"/>
<rect x="324.35" y="465.75" width="7.3" height="94.65" fill="#f2c882" stroke="#f09a2a" stroke-width="1.3"/>
<rect x="336.55" y="473.05" width="7.3" height="87.35" fill="#f08a7c" stroke="#f0281e" stroke-width="1.3"/>
<rect x="348.65" y="471.55" width="7.3" height="88.85" fill="#8494f8" stroke="#2a2af0" stroke-width="1.3"/>
<rect x="360.95" y="468.45" width="7.3" height="91.95" fill="#c890d8" stroke="#8a32b4" stroke-width="1.3"/>
<rect x="381.75" y="468.65" width="7.3" height="91.75" fill="#98ec88" stroke="#2ea52e" stroke-width="1.3"/>
<rect x="394.05" y="507.65" width="7.3" height="52.75" fill="#d6bc96" stroke="#a87c48" stroke-width="1.3"/>
<rect x="406.15" y="489.65" width="7.3" height="70.75" fill="#f2c882" stroke="#f09a2a" stroke-width="1.3"/>
<rect x="418.35" y="498.75" width="7.3" height="61.65" fill="#f08a7c" stroke="#f0281e" stroke-width="1.3"/>
<rect x="430.55" y="501.55" width="7.3" height="58.85" fill="#8494f8" stroke="#2a2af0" stroke-width="1.3"/>
<rect x="442.75" y="480.55" width="7.3" height="79.85" fill="#c890d8" stroke="#8a32b4" stroke-width="1.3"/>
<line x1="58.3" y1="449.3" x2="58.3" y2="468" stroke="#111" stroke-width="0.9" />
<line x1="56.5" y1="449.3" x2="60.1" y2="449.3" stroke="#111" stroke-width="0.9" />
<line x1="56.5" y1="468" x2="60.1" y2="468" stroke="#111" stroke-width="0.9" />
<circle cx="54.1" cy="453" r="1.45" fill="#fff" stroke="#111" stroke-width="0.85"/>
<circle cx="61.6" cy="453" r="1.45" fill="#fff" stroke="#111" stroke-width="0.85"/>
<circle cx="58.3" cy="468" r="1.45" fill="#fff" stroke="#111" stroke-width="0.85"/>
<line x1="70.3" y1="447.6" x2="70.3" y2="458.5" stroke="#111" stroke-width="0.9" />
<line x1="68.5" y1="447.6" x2="72.1" y2="447.6" stroke="#111" stroke-width="0.9" />
<line x1="68.5" y1="458.5" x2="72.1" y2="458.5" stroke="#111" stroke-width="0.9" />
<circle cx="70.3" cy="448.3" r="1.45" fill="#fff" stroke="#111" stroke-width="0.85"/>
<circle cx="66.8" cy="458.5" r="1.45" fill="#fff" stroke="#111" stroke-width="0.85"/>
<circle cx="73.4" cy="457" r="1.45" fill="#fff" stroke="#111" stroke-width="0.85"/>
<line x1="82.4" y1="450.3" x2="82.4" y2="474.5" stroke="#111" stroke-width="0.9" />
<line x1="80.6" y1="450.3" x2="84.2" y2="450.3" stroke="#111" stroke-width="0.9" />
<line x1="80.6" y1="474.5" x2="84.2" y2="474.5" stroke="#111" stroke-width="0.9" />
<circle cx="79.4" cy="454" r="1.45" fill="#fff" stroke="#111" stroke-width="0.85"/>
<circle cx="85.4" cy="455.5" r="1.45" fill="#fff" stroke="#111" stroke-width="0.85"/>
<circle cx="82.4" cy="474" r="1.45" fill="#fff" stroke="#111" stroke-width="0.85"/>
<line x1="94.6" y1="447.2" x2="94.6" y2="468" stroke="#111" stroke-width="0.9" />
<line x1="92.8" y1="447.2" x2="96.4" y2="447.2" stroke="#111" stroke-width="0.9" />
<line x1="92.8" y1="468" x2="96.4" y2="468" stroke="#111" stroke-width="0.9" />
<circle cx="94.6" cy="448" r="1.45" fill="#fff" stroke="#111" stroke-width="0.85"/>
<circle cx="94.6" cy="454" r="1.45" fill="#fff" stroke="#111" stroke-width="0.85"/>
<circle cx="94.6" cy="468" r="1.45" fill="#fff" stroke="#111" stroke-width="0.85"/>
<line x1="106.8" y1="449.3" x2="106.8" y2="470.1" stroke="#111" stroke-width="0.9" />
<line x1="105" y1="449.3" x2="108.6" y2="449.3" stroke="#111" stroke-width="0.9" />
<line x1="105" y1="470.1" x2="108.6" y2="470.1" stroke="#111" stroke-width="0.9" />
<circle cx="106.8" cy="450" r="1.45" fill="#fff" stroke="#111" stroke-width="0.85"/>
<circle cx="106.8" cy="463" r="1.45" fill="#fff" stroke="#111" stroke-width="0.85"/>
<circle cx="106.8" cy="469.5" r="1.45" fill="#fff" stroke="#111" stroke-width="0.85"/>
<line x1="119.1" y1="457" x2="119.1" y2="467" stroke="#111" stroke-width="0.9" />
<line x1="117.3" y1="457" x2="120.9" y2="457" stroke="#111" stroke-width="0.9" />
<line x1="117.3" y1="467" x2="120.9" y2="467" stroke="#111" stroke-width="0.9" />
<circle cx="119.1" cy="457.5" r="1.45" fill="#fff" stroke="#111" stroke-width="0.85"/>
<circle cx="116.1" cy="466.5" r="1.45" fill="#fff" stroke="#111" stroke-width="0.85"/>
<circle cx="122.1" cy="464" r="1.45" fill="#fff" stroke="#111" stroke-width="0.85"/>
<line x1="139.9" y1="446.3" x2="139.9" y2="474" stroke="#111" stroke-width="0.9" />
<line x1="138.1" y1="446.3" x2="141.7" y2="446.3" stroke="#111" stroke-width="0.9" />
<line x1="138.1" y1="474" x2="141.7" y2="474" stroke="#111" stroke-width="0.9" />
<circle cx="135.1" cy="451.5" r="1.45" fill="#fff" stroke="#111" stroke-width="0.85"/>
<circle cx="143.6" cy="451.5" r="1.45" fill="#fff" stroke="#111" stroke-width="0.85"/>
<circle cx="139.9" cy="473.5" r="1.45" fill="#fff" stroke="#111" stroke-width="0.85"/>
<line x1="152.2" y1="443.8" x2="152.2" y2="469" stroke="#111" stroke-width="0.9" />
<line x1="150.4" y1="443.8" x2="154" y2="443.8" stroke="#111" stroke-width="0.9" />
<line x1="150.4" y1="469" x2="154" y2="469" stroke="#111" stroke-width="0.9" />
<circle cx="152.2" cy="443.8" r="1.45" fill="#fff" stroke="#111" stroke-width="0.85"/>
<circle cx="152.2" cy="461.5" r="1.45" fill="#fff" stroke="#111" stroke-width="0.85"/>
<circle cx="152.2" cy="466.5" r="1.45" fill="#fff" stroke="#111" stroke-width="0.85"/>
<line x1="164.2" y1="442.6" x2="164.2" y2="465" stroke="#111" stroke-width="0.9" />
<line x1="162.4" y1="442.6" x2="166" y2="442.6" stroke="#111" stroke-width="0.9" />
<line x1="162.4" y1="465" x2="166" y2="465" stroke="#111" stroke-width="0.9" />
<circle cx="164.2" cy="443" r="1.45" fill="#fff" stroke="#111" stroke-width="0.85"/>
<circle cx="164.2" cy="457.5" r="1.45" fill="#fff" stroke="#111" stroke-width="0.85"/>
<circle cx="164.2" cy="463.5" r="1.45" fill="#fff" stroke="#111" stroke-width="0.85"/>
<line x1="176.5" y1="446.7" x2="176.5" y2="476" stroke="#111" stroke-width="0.9" />
<line x1="174.7" y1="446.7" x2="178.3" y2="446.7" stroke="#111" stroke-width="0.9" />
<line x1="174.7" y1="476" x2="178.3" y2="476" stroke="#111" stroke-width="0.9" />
<circle cx="176.5" cy="447" r="1.45" fill="#fff" stroke="#111" stroke-width="0.85"/>
<circle cx="176.5" cy="466" r="1.45" fill="#fff" stroke="#111" stroke-width="0.85"/>
<circle cx="176.5" cy="475" r="1.45" fill="#fff" stroke="#111" stroke-width="0.85"/>
<line x1="188.6" y1="453.1" x2="188.6" y2="467" stroke="#111" stroke-width="0.9" />
<line x1="186.8" y1="453.1" x2="190.4" y2="453.1" stroke="#111" stroke-width="0.9" />
<line x1="186.8" y1="467" x2="190.4" y2="467" stroke="#111" stroke-width="0.9" />
<circle cx="188.6" cy="453.5" r="1.45" fill="#fff" stroke="#111" stroke-width="0.85"/>
<circle cx="188.6" cy="461.5" r="1.45" fill="#fff" stroke="#111" stroke-width="0.85"/>
<circle cx="188.6" cy="466.5" r="1.45" fill="#fff" stroke="#111" stroke-width="0.85"/>
<line x1="200.9" y1="443.8" x2="200.9" y2="464" stroke="#111" stroke-width="0.9" />
<line x1="199.1" y1="443.8" x2="202.7" y2="443.8" stroke="#111" stroke-width="0.9" />
<line x1="199.1" y1="464" x2="202.7" y2="464" stroke="#111" stroke-width="0.9" />
<circle cx="200.9" cy="444" r="1.45" fill="#fff" stroke="#111" stroke-width="0.85"/>
<circle cx="200.9" cy="459" r="1.45" fill="#fff" stroke="#111" stroke-width="0.85"/>
<circle cx="200.9" cy="463.5" r="1.45" fill="#fff" stroke="#111" stroke-width="0.85"/>
<line x1="221.7" y1="459.3" x2="221.7" y2="467.1" stroke="#111" stroke-width="0.9" />
<line x1="219.9" y1="459.3" x2="223.5" y2="459.3" stroke="#111" stroke-width="0.9" />
<line x1="219.9" y1="467.1" x2="223.5" y2="467.1" stroke="#111" stroke-width="0.9" />
<circle cx="218.1" cy="460.5" r="1.45" fill="#fff" stroke="#111" stroke-width="0.85"/>
<circle cx="221.7" cy="466.8" r="1.45" fill="#fff" stroke="#111" stroke-width="0.85"/>
<circle cx="225.1" cy="460.5" r="1.45" fill="#fff" stroke="#111" stroke-width="0.85"/>
<line x1="234.1" y1="455.2" x2="234.1" y2="469.8" stroke="#111" stroke-width="0.9" />
<line x1="232.3" y1="455.2" x2="235.9" y2="455.2" stroke="#111" stroke-width="0.9" />
<line x1="232.3" y1="469.8" x2="235.9" y2="469.8" stroke="#111" stroke-width="0.9" />
<circle cx="234.1" cy="455.5" r="1.45" fill="#fff" stroke="#111" stroke-width="0.85"/>
<circle cx="234.1" cy="461.5" r="1.45" fill="#fff" stroke="#111" stroke-width="0.85"/>
<circle cx="234.1" cy="469.5" r="1.45" fill="#fff" stroke="#111" stroke-width="0.85"/>
<line x1="246.2" y1="449.9" x2="246.2" y2="468" stroke="#111" stroke-width="0.9" />
<line x1="244.4" y1="449.9" x2="248" y2="449.9" stroke="#111" stroke-width="0.9" />
<line x1="244.4" y1="468" x2="248" y2="468" stroke="#111" stroke-width="0.9" />
<circle cx="246.2" cy="450" r="1.45" fill="#fff" stroke="#111" stroke-width="0.85"/>
<circle cx="246.2" cy="460" r="1.45" fill="#fff" stroke="#111" stroke-width="0.85"/>
<circle cx="246.2" cy="468" r="1.45" fill="#fff" stroke="#111" stroke-width="0.85"/>
<line x1="258.4" y1="460.4" x2="258.4" y2="468.6" stroke="#111" stroke-width="0.9" />
<line x1="256.6" y1="460.4" x2="260.2" y2="460.4" stroke="#111" stroke-width="0.9" />
<line x1="256.6" y1="468.6" x2="260.2" y2="468.6" stroke="#111" stroke-width="0.9" />
<circle cx="254.5" cy="461.5" r="1.45" fill="#fff" stroke="#111" stroke-width="0.85"/>
<circle cx="258.4" cy="468" r="1.45" fill="#fff" stroke="#111" stroke-width="0.85"/>
<circle cx="262" cy="461.5" r="1.45" fill="#fff" stroke="#111" stroke-width="0.85"/>
<line x1="270.6" y1="454" x2="270.6" y2="463.7" stroke="#111" stroke-width="0.9" />
<line x1="268.8" y1="454" x2="272.4" y2="454" stroke="#111" stroke-width="0.9" />
<line x1="268.8" y1="463.7" x2="272.4" y2="463.7" stroke="#111" stroke-width="0.9" />
<circle cx="270.6" cy="455" r="1.45" fill="#fff" stroke="#111" stroke-width="0.85"/>
<circle cx="270.6" cy="457" r="1.45" fill="#fff" stroke="#111" stroke-width="0.85"/>
<circle cx="270.6" cy="463.5" r="1.45" fill="#fff" stroke="#111" stroke-width="0.85"/>
<line x1="282.8" y1="456.4" x2="282.8" y2="466.3" stroke="#111" stroke-width="0.9" />
<line x1="281" y1="456.4" x2="284.6" y2="456.4" stroke="#111" stroke-width="0.9" />
<line x1="281" y1="466.3" x2="284.6" y2="466.3" stroke="#111" stroke-width="0.9" />
<circle cx="282.8" cy="456.5" r="1.45" fill="#fff" stroke="#111" stroke-width="0.85"/>
<circle cx="279.1" cy="466" r="1.45" fill="#fff" stroke="#111" stroke-width="0.85"/>
<circle cx="286.1" cy="464" r="1.45" fill="#fff" stroke="#111" stroke-width="0.85"/>
<line x1="303.6" y1="453.4" x2="303.6" y2="466.3" stroke="#111" stroke-width="0.9" />
<line x1="301.8" y1="453.4" x2="305.4" y2="453.4" stroke="#111" stroke-width="0.9" />
<line x1="301.8" y1="466.3" x2="305.4" y2="466.3" stroke="#111" stroke-width="0.9" />
<circle cx="303.6" cy="453.5" r="1.45" fill="#fff" stroke="#111" stroke-width="0.85"/>
<circle cx="300" cy="465.5" r="1.45" fill="#fff" stroke="#111" stroke-width="0.85"/>
<circle cx="307" cy="462.5" r="1.45" fill="#fff" stroke="#111" stroke-width="0.85"/>
<line x1="315.9" y1="471.3" x2="315.9" y2="484.1" stroke="#111" stroke-width="0.9" />
<line x1="314.1" y1="471.3" x2="317.7" y2="471.3" stroke="#111" stroke-width="0.9" />
<line x1="314.1" y1="484.1" x2="317.7" y2="484.1" stroke="#111" stroke-width="0.9" />
<circle cx="312" cy="472.5" r="1.45" fill="#fff" stroke="#111" stroke-width="0.85"/>
<circle cx="319" cy="475" r="1.45" fill="#fff" stroke="#111" stroke-width="0.85"/>
<circle cx="315.9" cy="484" r="1.45" fill="#fff" stroke="#111" stroke-width="0.85"/>
<line x1="328" y1="459.6" x2="328" y2="467.8" stroke="#111" stroke-width="0.9" />
<line x1="326.2" y1="459.6" x2="329.8" y2="459.6" stroke="#111" stroke-width="0.9" />
<line x1="326.2" y1="467.8" x2="329.8" y2="467.8" stroke="#111" stroke-width="0.9" />
<circle cx="328" cy="460" r="1.45" fill="#fff" stroke="#111" stroke-width="0.85"/>
<circle cx="324.6" cy="467" r="1.45" fill="#fff" stroke="#111" stroke-width="0.85"/>
<circle cx="331.1" cy="466" r="1.45" fill="#fff" stroke="#111" stroke-width="0.85"/>
<line x1="340.2" y1="465.8" x2="340.2" y2="476" stroke="#111" stroke-width="0.9" />
<line x1="338.4" y1="465.8" x2="342" y2="465.8" stroke="#111" stroke-width="0.9" />
<line x1="338.4" y1="476" x2="342" y2="476" stroke="#111" stroke-width="0.9" />
<circle cx="340.2" cy="466" r="1.45" fill="#fff" stroke="#111" stroke-width="0.85"/>
<circle cx="336.6" cy="475" r="1.45" fill="#fff" stroke="#111" stroke-width="0.85"/>
<circle cx="343.6" cy="474.5" r="1.45" fill="#fff" stroke="#111" stroke-width="0.85"/>
<line x1="352.3" y1="463.1" x2="352.3" y2="474.8" stroke="#111" stroke-width="0.9" />
<line x1="350.5" y1="463.1" x2="354.1" y2="463.1" stroke="#111" stroke-width="0.9" />
<line x1="350.5" y1="474.8" x2="354.1" y2="474.8" stroke="#111" stroke-width="0.9" />
<circle cx="352.3" cy="463.5" r="1.45" fill="#fff" stroke="#111" stroke-width="0.85"/>
<circle cx="349" cy="474" r="1.45" fill="#fff" stroke="#111" stroke-width="0.85"/>
<circle cx="355.5" cy="473" r="1.45" fill="#fff" stroke="#111" stroke-width="0.85"/>
<line x1="364.6" y1="460.8" x2="364.6" y2="473.3" stroke="#111" stroke-width="0.9" />
<line x1="362.8" y1="460.8" x2="366.4" y2="460.8" stroke="#111" stroke-width="0.9" />
<line x1="362.8" y1="473.3" x2="366.4" y2="473.3" stroke="#111" stroke-width="0.9" />
<circle cx="364.6" cy="461" r="1.45" fill="#fff" stroke="#111" stroke-width="0.85"/>
<circle cx="364.6" cy="469" r="1.45" fill="#fff" stroke="#111" stroke-width="0.85"/>
<circle cx="364.6" cy="472" r="1.45" fill="#fff" stroke="#111" stroke-width="0.85"/>
<line x1="385.4" y1="461.9" x2="385.4" y2="474.8" stroke="#111" stroke-width="0.9" />
<line x1="383.6" y1="461.9" x2="387.2" y2="461.9" stroke="#111" stroke-width="0.9" />
<line x1="383.6" y1="474.8" x2="387.2" y2="474.8" stroke="#111" stroke-width="0.9" />
<circle cx="385.4" cy="463" r="1.45" fill="#fff" stroke="#111" stroke-width="0.85"/>
<circle cx="385.4" cy="466" r="1.45" fill="#fff" stroke="#111" stroke-width="0.85"/>
<circle cx="385.4" cy="474" r="1.45" fill="#fff" stroke="#111" stroke-width="0.85"/>
<line x1="397.7" y1="500.2" x2="397.7" y2="512" stroke="#111" stroke-width="0.9" />
<line x1="395.9" y1="500.2" x2="399.5" y2="500.2" stroke="#111" stroke-width="0.9" />
<line x1="395.9" y1="512" x2="399.5" y2="512" stroke="#111" stroke-width="0.9" />
<circle cx="397.7" cy="500.5" r="1.45" fill="#fff" stroke="#111" stroke-width="0.85"/>
<circle cx="397.7" cy="509" r="1.45" fill="#fff" stroke="#111" stroke-width="0.85"/>
<circle cx="397.7" cy="511.5" r="1.45" fill="#fff" stroke="#111" stroke-width="0.85"/>
<line x1="409.8" y1="484" x2="409.8" y2="494.8" stroke="#111" stroke-width="0.9" />
<line x1="408" y1="484" x2="411.6" y2="484" stroke="#111" stroke-width="0.9" />
<line x1="408" y1="494.8" x2="411.6" y2="494.8" stroke="#111" stroke-width="0.9" />
<circle cx="406" cy="485" r="1.45" fill="#fff" stroke="#111" stroke-width="0.85"/>
<circle cx="413" cy="487" r="1.45" fill="#fff" stroke="#111" stroke-width="0.85"/>
<circle cx="409.8" cy="494.5" r="1.45" fill="#fff" stroke="#111" stroke-width="0.85"/>
<line x1="422" y1="496.4" x2="422" y2="501.9" stroke="#111" stroke-width="0.9" />
<line x1="420.2" y1="496.4" x2="423.8" y2="496.4" stroke="#111" stroke-width="0.9" />
<line x1="420.2" y1="501.9" x2="423.8" y2="501.9" stroke="#111" stroke-width="0.9" />
<circle cx="418" cy="497" r="1.45" fill="#fff" stroke="#111" stroke-width="0.85"/>
<circle cx="422" cy="501.5" r="1.45" fill="#fff" stroke="#111" stroke-width="0.85"/>
<circle cx="426" cy="497" r="1.45" fill="#fff" stroke="#111" stroke-width="0.85"/>
<line x1="434.2" y1="493" x2="434.2" y2="509.7" stroke="#111" stroke-width="0.9" />
<line x1="432.4" y1="493" x2="436" y2="493" stroke="#111" stroke-width="0.9" />
<line x1="432.4" y1="509.7" x2="436" y2="509.7" stroke="#111" stroke-width="0.9" />
<circle cx="431" cy="494.5" r="1.45" fill="#fff" stroke="#111" stroke-width="0.85"/>
<circle cx="437.5" cy="496" r="1.45" fill="#fff" stroke="#111" stroke-width="0.85"/>
<circle cx="434.2" cy="509.5" r="1.45" fill="#fff" stroke="#111" stroke-width="0.85"/>
<line x1="446.4" y1="473.4" x2="446.4" y2="487.6" stroke="#111" stroke-width="0.9" />
<line x1="444.6" y1="473.4" x2="448.2" y2="473.4" stroke="#111" stroke-width="0.9" />
<line x1="444.6" y1="487.6" x2="448.2" y2="487.6" stroke="#111" stroke-width="0.9" />
<circle cx="443" cy="474.5" r="1.45" fill="#fff" stroke="#111" stroke-width="0.85"/>
<circle cx="449.5" cy="476" r="1.45" fill="#fff" stroke="#111" stroke-width="0.85"/>
<circle cx="446.4" cy="487.5" r="1.45" fill="#fff" stroke="#111" stroke-width="0.85"/>
<line x1="41.2" y1="560.4" x2="459.4" y2="560.4" stroke="#333" stroke-width="1" />
<text x="88.3" y="572.59" font-size="10.8" text-anchor="middle" fill="#111" stroke="#111" stroke-width="0.15" >10</text>
<text x="170.2" y="572.59" font-size="10.8" text-anchor="middle" fill="#111" stroke="#111" stroke-width="0.15" >30</text>
<text x="252" y="572.59" font-size="10.8" text-anchor="middle" fill="#111" stroke="#111" stroke-width="0.15" >100</text>
<text x="333.6" y="572.59" font-size="10.8" text-anchor="middle" fill="#111" stroke="#111" stroke-width="0.15" >300</text>
<text x="415.6" y="572.59" font-size="10.8" text-anchor="middle" fill="#111" stroke="#111" stroke-width="0.15" >1000</text>
<text x="252.5" y="586.7" font-size="11.5" text-anchor="middle" fill="#111" stroke="#111" stroke-width="0.15" >Concentration (μg/mL)</text>
<rect x="60.5" y="423.4" width="15" height="6.2" fill="#98ec88" stroke="#2ea52e" stroke-width="1.2"/>
<text x="83.3" y="430.51" font-size="10.3" text-anchor="start" fill="#111" stroke="#111" stroke-width="0.15" >PG</text>
<rect x="116.6" y="423.4" width="15" height="6.2" fill="#d6bc96" stroke="#a87c48" stroke-width="1.2"/>
<text x="139.4" y="430.51" font-size="10.3" text-anchor="start" fill="#111" stroke="#111" stroke-width="0.15" >M-PG</text>
<rect x="182.5" y="423.4" width="15" height="6.2" fill="#f2c882" stroke="#f09a2a" stroke-width="1.2"/>
<text x="205" y="430.51" font-size="10.3" text-anchor="start" fill="#111" stroke="#111" stroke-width="0.15" >PG-NS</text>
<rect x="254.2" y="423.4" width="15" height="6.2" fill="#f08a7c" stroke="#f0281e" stroke-width="1.2"/>
<text x="277" y="430.51" font-size="10.3" text-anchor="start" fill="#111" stroke="#111" stroke-width="0.15" >PG-NS<tspan font-size="7.2" dy="2.2">A</tspan></text>
<rect x="329.8" y="423.4" width="15" height="6.2" fill="#8494f8" stroke="#2a2af0" stroke-width="1.2"/>
<text x="353" y="430.51" font-size="10.3" text-anchor="start" fill="#111" stroke="#111" stroke-width="0.15" >PG-NP<tspan font-size="7.2" dy="2.2">A</tspan></text>
<rect x="404.5" y="423.4" width="15" height="6.2" fill="#c890d8" stroke="#8a32b4" stroke-width="1.2"/>
<text x="427.6" y="430.51" font-size="10.3" text-anchor="start" fill="#111" stroke="#111" stroke-width="0.15" >Apt</text>
<line x1="386.2" y1="458.1" x2="408.5" y2="458.1" stroke="#222" stroke-width="0.9" />
<text x="383.4" y="455.03" font-size="7.3" text-anchor="start" fill="#111" stroke="#111" stroke-width="0.15" >p=0.018</text>
<line x1="398.3" y1="468.3" x2="434.9" y2="468.3" stroke="#222" stroke-width="0.9" />
<text x="405.5" y="465.23" font-size="7.3" text-anchor="start" fill="#111" stroke="#111" stroke-width="0.15" >p&gt;0.05</text>
<line x1="397.4" y1="479.9" x2="408.5" y2="479.9" stroke="#222" stroke-width="0.9" />
<text x="392" y="477.43" font-size="7.3" text-anchor="start" fill="#111" stroke="#111" stroke-width="0.15" >p=0.044</text>
<text x="465.5" y="432.3" font-size="20" text-anchor="start" fill="#000" stroke="#000" stroke-width="0.15" >f</text>
<line x1="506.6" y1="420" x2="506.6" y2="560.5" stroke="#999" stroke-width="1.3" />
<line x1="503.6" y1="560.5" x2="506.6" y2="560.5" stroke="#888" stroke-width="0.9" />
<line x1="504.8" y1="546.45" x2="506.6" y2="546.45" stroke="#888" stroke-width="0.9" />
<line x1="503.6" y1="532.4" x2="506.6" y2="532.4" stroke="#888" stroke-width="0.9" />
<line x1="504.8" y1="518.35" x2="506.6" y2="518.35" stroke="#888" stroke-width="0.9" />
<line x1="503.6" y1="504.3" x2="506.6" y2="504.3" stroke="#888" stroke-width="0.9" />
<line x1="504.8" y1="490.25" x2="506.6" y2="490.25" stroke="#888" stroke-width="0.9" />
<line x1="503.6" y1="476.2" x2="506.6" y2="476.2" stroke="#888" stroke-width="0.9" />
<line x1="504.8" y1="462.15" x2="506.6" y2="462.15" stroke="#888" stroke-width="0.9" />
<line x1="503.6" y1="448.1" x2="506.6" y2="448.1" stroke="#888" stroke-width="0.9" />
<line x1="504.8" y1="434.05" x2="506.6" y2="434.05" stroke="#888" stroke-width="0.9" />
<line x1="503.6" y1="420" x2="506.6" y2="420" stroke="#888" stroke-width="0.9" />
<text x="498.6" y="564.24" font-size="10.4" text-anchor="end" fill="#111" stroke="#111" stroke-width="0.15" >0</text>
<text x="498.6" y="536.14" font-size="10.4" text-anchor="end" fill="#111" stroke="#111" stroke-width="0.15" >10</text>
<text x="498.6" y="508.04" font-size="10.4" text-anchor="end" fill="#111" stroke="#111" stroke-width="0.15" >20</text>
<text x="498.6" y="479.94" font-size="10.4" text-anchor="end" fill="#111" stroke="#111" stroke-width="0.15" >30</text>
<text x="498.6" y="451.84" font-size="10.4" text-anchor="end" fill="#111" stroke="#111" stroke-width="0.15" >40</text>
<text x="498.6" y="423.74" font-size="10.4" text-anchor="end" fill="#111" stroke="#111" stroke-width="0.15" >50</text>
<text transform="translate(475 488.9) rotate(-90)" x="0" y="4.14" font-size="11.5" text-anchor="middle" fill="#111" stroke="#111" stroke-width="0.15">Protein adsorption (%)</text>
<rect x="517.85" y="553.45" width="8.6" height="7.05" fill="#5cc45c" stroke="#2ea52e" stroke-width="1.3"/>
<rect x="533.25" y="547.55" width="8.6" height="12.95" fill="#caa87c" stroke="#a87c48" stroke-width="1.3"/>
<rect x="548.45" y="549.35" width="8.6" height="11.15" fill="#f4c070" stroke="#f09a2a" stroke-width="1.3"/>
<rect x="563.85" y="544.15" width="8.6" height="16.35" fill="#f08070" stroke="#f0281e" stroke-width="1.3"/>
<rect x="578.75" y="550.85" width="8.6" height="9.65" fill="#6478f4" stroke="#2a2af0" stroke-width="1.3"/>
<rect x="603.85" y="547.75" width="8.6" height="12.75" fill="#5cc45c" stroke="#2ea52e" stroke-width="1.3"/>
<rect x="618.65" y="533.85" width="8.6" height="26.65" fill="#caa87c" stroke="#a87c48" stroke-width="1.3"/>
<rect x="633.75" y="535.95" width="8.6" height="24.55" fill="#f4c070" stroke="#f09a2a" stroke-width="1.3"/>
<rect x="648.85" y="528.85" width="8.6" height="31.65" fill="#f08070" stroke="#f0281e" stroke-width="1.3"/>
<rect x="664.25" y="544.95" width="8.6" height="15.55" fill="#6478f4" stroke="#2a2af0" stroke-width="1.3"/>
<line x1="522.15" y1="542.3" x2="522.15" y2="560" stroke="#111" stroke-width="0.9" />
<line x1="520.35" y1="542.3" x2="523.95" y2="542.3" stroke="#111" stroke-width="0.9" />
<line x1="520.35" y1="560" x2="523.95" y2="560" stroke="#111" stroke-width="0.9" />
<circle cx="522.15" cy="542.8" r="1.45" fill="#fff" stroke="#111" stroke-width="0.85"/>
<circle cx="522.15" cy="555" r="1.45" fill="#fff" stroke="#111" stroke-width="0.85"/>
<circle cx="522.15" cy="559.5" r="1.45" fill="#fff" stroke="#111" stroke-width="0.85"/>
<line x1="537.55" y1="539.3" x2="537.55" y2="554.4" stroke="#111" stroke-width="0.9" />
<line x1="535.75" y1="539.3" x2="539.35" y2="539.3" stroke="#111" stroke-width="0.9" />
<line x1="535.75" y1="554.4" x2="539.35" y2="554.4" stroke="#111" stroke-width="0.9" />
<circle cx="537.55" cy="540" r="1.45" fill="#fff" stroke="#111" stroke-width="0.85"/>
<circle cx="537.55" cy="546" r="1.45" fill="#fff" stroke="#111" stroke-width="0.85"/>
<circle cx="537.55" cy="554" r="1.45" fill="#fff" stroke="#111" stroke-width="0.85"/>
<line x1="552.75" y1="537.3" x2="552.75" y2="558.3" stroke="#111" stroke-width="0.9" />
<line x1="550.95" y1="537.3" x2="554.55" y2="537.3" stroke="#111" stroke-width="0.9" />
<line x1="550.95" y1="558.3" x2="554.55" y2="558.3" stroke="#111" stroke-width="0.9" />
<circle cx="552.75" cy="538" r="1.45" fill="#fff" stroke="#111" stroke-width="0.85"/>
<circle cx="552.75" cy="552" r="1.45" fill="#fff" stroke="#111" stroke-width="0.85"/>
<circle cx="552.75" cy="557" r="1.45" fill="#fff" stroke="#111" stroke-width="0.85"/>
<line x1="568.15" y1="530.7" x2="568.15" y2="557.7" stroke="#111" stroke-width="0.9" />
<line x1="566.35" y1="530.7" x2="569.95" y2="530.7" stroke="#111" stroke-width="0.9" />
<line x1="566.35" y1="557.7" x2="569.95" y2="557.7" stroke="#111" stroke-width="0.9" />
<circle cx="568.15" cy="531.5" r="1.45" fill="#fff" stroke="#111" stroke-width="0.85"/>
<circle cx="568.15" cy="541.5" r="1.45" fill="#fff" stroke="#111" stroke-width="0.85"/>
<circle cx="568.15" cy="557.5" r="1.45" fill="#fff" stroke="#111" stroke-width="0.85"/>
<line x1="583.05" y1="543.2" x2="583.05" y2="556.4" stroke="#111" stroke-width="0.9" />
<line x1="581.25" y1="543.2" x2="584.85" y2="543.2" stroke="#111" stroke-width="0.9" />
<line x1="581.25" y1="556.4" x2="584.85" y2="556.4" stroke="#111" stroke-width="0.9" />
<circle cx="583.05" cy="543.5" r="1.45" fill="#fff" stroke="#111" stroke-width="0.85"/>
<circle cx="583.05" cy="551.5" r="1.45" fill="#fff" stroke="#111" stroke-width="0.85"/>
<circle cx="583.05" cy="555" r="1.45" fill="#fff" stroke="#111" stroke-width="0.85"/>
<line x1="608.15" y1="534.3" x2="608.15" y2="554.8" stroke="#111" stroke-width="0.9" />
<line x1="606.35" y1="534.3" x2="609.95" y2="534.3" stroke="#111" stroke-width="0.9" />
<line x1="606.35" y1="554.8" x2="609.95" y2="554.8" stroke="#111" stroke-width="0.9" />
<circle cx="608.15" cy="535" r="1.45" fill="#fff" stroke="#111" stroke-width="0.85"/>
<circle cx="608.15" cy="550" r="1.45" fill="#fff" stroke="#111" stroke-width="0.85"/>
<circle cx="608.15" cy="554.5" r="1.45" fill="#fff" stroke="#111" stroke-width="0.85"/>
<line x1="622.95" y1="513.4" x2="622.95" y2="549.3" stroke="#111" stroke-width="0.9" />
<line x1="621.15" y1="513.4" x2="624.75" y2="513.4" stroke="#111" stroke-width="0.9" />
<line x1="621.15" y1="549.3" x2="624.75" y2="549.3" stroke="#111" stroke-width="0.9" />
<circle cx="622.95" cy="514" r="1.45" fill="#fff" stroke="#111" stroke-width="0.85"/>
<circle cx="619.95" cy="542.5" r="1.45" fill="#fff" stroke="#111" stroke-width="0.85"/>
<circle cx="626.95" cy="542" r="1.45" fill="#fff" stroke="#111" stroke-width="0.85"/>
<line x1="638.05" y1="534.3" x2="638.05" y2="537.5" stroke="#111" stroke-width="0.9" />
<line x1="636.25" y1="534.3" x2="639.85" y2="534.3" stroke="#111" stroke-width="0.9" />
<line x1="636.25" y1="537.5" x2="639.85" y2="537.5" stroke="#111" stroke-width="0.9" />
<circle cx="634.45" cy="537.5" r="1.45" fill="#fff" stroke="#111" stroke-width="0.85"/>
<circle cx="638.05" cy="535.5" r="1.45" fill="#fff" stroke="#111" stroke-width="0.85"/>
<circle cx="641.85" cy="535.7" r="1.45" fill="#fff" stroke="#111" stroke-width="0.85"/>
<line x1="653.15" y1="524.3" x2="653.15" y2="533.5" stroke="#111" stroke-width="0.9" />
<line x1="651.35" y1="524.3" x2="654.95" y2="524.3" stroke="#111" stroke-width="0.9" />
<line x1="651.35" y1="533.5" x2="654.95" y2="533.5" stroke="#111" stroke-width="0.9" />
<circle cx="649.45" cy="525" r="1.45" fill="#fff" stroke="#111" stroke-width="0.85"/>
<circle cx="656.45" cy="527" r="1.45" fill="#fff" stroke="#111" stroke-width="0.85"/>
<circle cx="653.15" cy="533" r="1.45" fill="#fff" stroke="#111" stroke-width="0.85"/>
<line x1="668.55" y1="538.7" x2="668.55" y2="551.2" stroke="#111" stroke-width="0.9" />
<line x1="666.75" y1="538.7" x2="670.35" y2="538.7" stroke="#111" stroke-width="0.9" />
<line x1="666.75" y1="551.2" x2="670.35" y2="551.2" stroke="#111" stroke-width="0.9" />
<circle cx="664.95" cy="540" r="1.45" fill="#fff" stroke="#111" stroke-width="0.85"/>
<circle cx="671.45" cy="541.5" r="1.45" fill="#fff" stroke="#111" stroke-width="0.85"/>
<circle cx="668.55" cy="551" r="1.45" fill="#fff" stroke="#111" stroke-width="0.85"/>
<line x1="503.6" y1="560.5" x2="683.4" y2="560.5" stroke="#333" stroke-width="1" />
<text x="553.5" y="573.39" font-size="10.8" text-anchor="middle" fill="#111" stroke="#111" stroke-width="0.15" >50</text>
<text x="638.3" y="573.39" font-size="10.8" text-anchor="middle" fill="#111" stroke="#111" stroke-width="0.15" >100</text>
<text x="595.4" y="587.2" font-size="12.6" text-anchor="middle" fill="#111" stroke="#111" stroke-width="0.15" >Concentration (μg/mL)</text>
<rect x="515.7" y="423.3" width="15.3" height="6.2" fill="#5cc45c" stroke="#2ea52e" stroke-width="1.2" fill-opacity="0.8"/>
<text x="539.4" y="430.49" font-size="10.8" text-anchor="start" fill="#111" stroke="#111" stroke-width="0.15" >PG</text>
<rect x="563" y="423.3" width="15.3" height="6.2" fill="#caa87c" stroke="#a87c48" stroke-width="1.2" fill-opacity="0.8"/>
<text x="586" y="430.49" font-size="10.8" text-anchor="start" fill="#111" stroke="#111" stroke-width="0.15" >M-PG</text>
<rect x="623" y="423.3" width="15.3" height="6.2" fill="#f4c070" stroke="#f09a2a" stroke-width="1.2" fill-opacity="0.8"/>
<text x="646" y="430.49" font-size="10.8" text-anchor="start" fill="#111" stroke="#111" stroke-width="0.15" >PG-NS</text>
<rect x="515.7" y="436.4" width="15.3" height="6.2" fill="#f08070" stroke="#f0281e" stroke-width="1.2" fill-opacity="0.8"/>
<text x="539.4" y="443.59" font-size="10.8" text-anchor="start" fill="#111" stroke="#111" stroke-width="0.15" >PG-NS<tspan font-size="7.8" dy="2.4">A</tspan></text>
<rect x="597.5" y="436.4" width="15.3" height="6.2" fill="#6478f4" stroke="#2a2af0" stroke-width="1.2" fill-opacity="0.8"/>
<text x="620.5" y="443.59" font-size="10.8" text-anchor="start" fill="#111" stroke="#111" stroke-width="0.15" >PG-NP<tspan font-size="7.8" dy="2.4">A</tspan></text>
<line x1="522.1" y1="505.1" x2="567.8" y2="505.1" stroke="#222" stroke-width="0.9" />
<text x="532.6" y="501.83" font-size="7.3" text-anchor="start" fill="#111" stroke="#111" stroke-width="0.15" >p&gt;0.05</text>
<line x1="537.3" y1="516.3" x2="567.8" y2="516.3" stroke="#222" stroke-width="0.9" />
<text x="540.2" y="513.03" font-size="7.3" text-anchor="start" fill="#111" stroke="#111" stroke-width="0.15" >p&gt;0.05</text>
<line x1="552.3" y1="527.7" x2="567.8" y2="527.7" stroke="#222" stroke-width="0.9" />
<text x="544.4" y="524.53" font-size="7.3" text-anchor="start" fill="#111" stroke="#111" stroke-width="0.15" >p&gt;0.05</text>
<line x1="569.1" y1="527.7" x2="583.6" y2="527.7" stroke="#222" stroke-width="0.9" />
<text x="569.8" y="524.53" font-size="7.3" text-anchor="start" fill="#111" stroke="#111" stroke-width="0.15" >p&gt;0.05</text>
<line x1="606.5" y1="496.5" x2="651.8" y2="496.5" stroke="#222" stroke-width="0.9" />
<text x="616.6" y="493.03" font-size="7.3" text-anchor="start" fill="#111" stroke="#111" stroke-width="0.15" >p&gt;0.05</text>
<line x1="622.3" y1="508.5" x2="651.8" y2="508.5" stroke="#222" stroke-width="0.9" />
<text x="624.9" y="504.93" font-size="7.3" text-anchor="start" fill="#111" stroke="#111" stroke-width="0.15" >p&gt;0.05</text>
<line x1="637.4" y1="520.7" x2="652.2" y2="520.7" stroke="#222" stroke-width="0.9" />
<text x="629.2" y="517.13" font-size="7.3" text-anchor="start" fill="#111" stroke="#111" stroke-width="0.15" >p&gt;0.05</text>
<line x1="652.5" y1="520.7" x2="668.6" y2="520.7" stroke="#222" stroke-width="0.9" />
<text x="654.7" y="517.13" font-size="7.3" text-anchor="start" fill="#111" stroke="#111" stroke-width="0.15" >p&gt;0.05</text>
</svg>
</body></html>
